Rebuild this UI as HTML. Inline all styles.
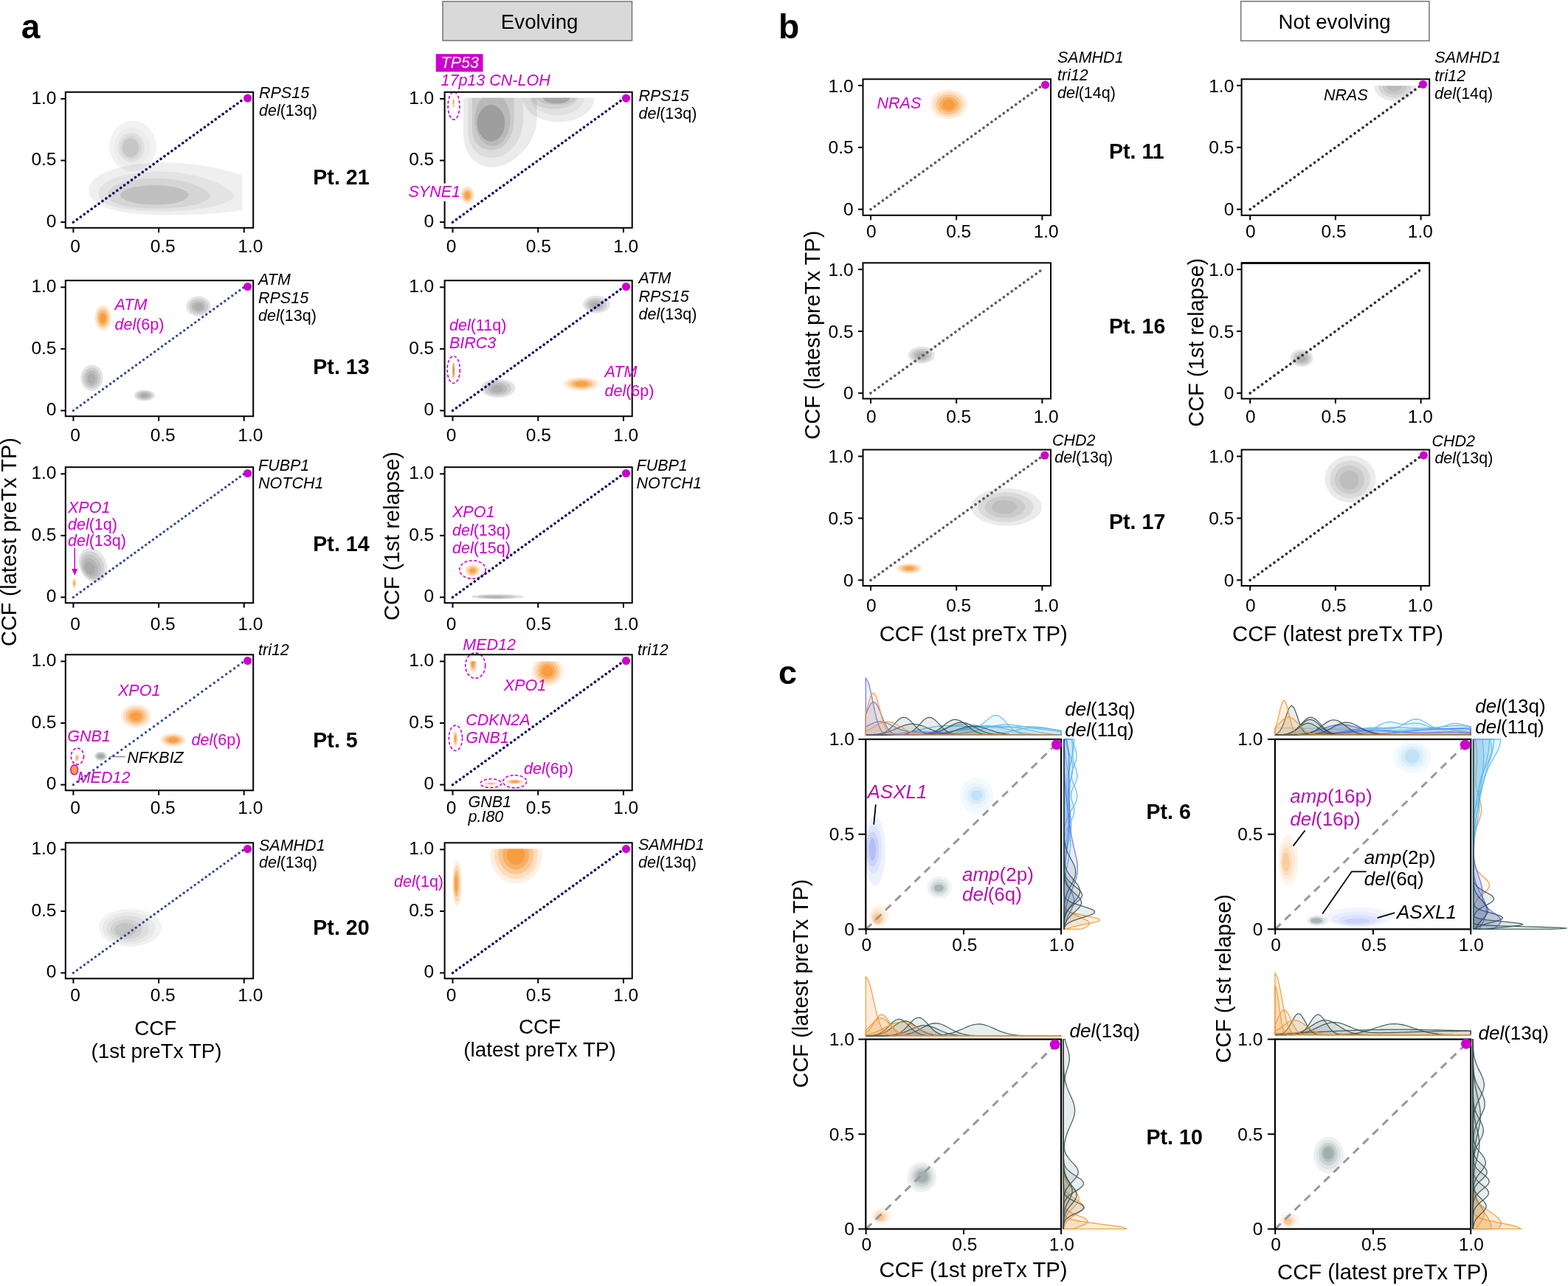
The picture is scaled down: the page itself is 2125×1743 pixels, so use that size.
<!DOCTYPE html>
<html><head><meta charset="utf-8"><title>CCF plots</title>
<style>html,body{margin:0;padding:0;background:#fff;}svg{display:block;}</style></head>
<body>
<svg width="2125" height="1743" viewBox="0 0 2125 1743" font-family="'Liberation Sans', Arial, Helvetica, sans-serif">
<defs><clipPath id="c1"><rect x="80" y="100" width="248.4" height="230"/></clipPath>
<clipPath id="c2"><rect x="600" y="132.4" width="260" height="197.6"/></clipPath>
<clipPath id="c3"><rect x="600" y="896.2" width="260" height="183.8"/></clipPath>
<clipPath id="c4"><rect x="600" y="1150.4" width="260" height="179.6"/></clipPath>
<clipPath id="c5"><rect x="1680" y="116.2" width="260" height="183.8"/></clipPath>
<clipPath id="c6"><rect x="1174.3" y="900" width="265.7" height="358.3"/></clipPath></defs>
<rect width="2125" height="1743" fill="#fff"/>
<text x="28.8" y="52.3" font-size="46" font-weight="bold" fill="#000">a</text>
<rect x="600" y="2" width="256.5" height="53" fill="#d9d9d9" stroke="#7a7a7a" stroke-width="1.6"/>
<text x="731.2" y="38.5" font-size="27.7" text-anchor="middle" fill="#000">Evolving</text>
<g fill="#000" clip-path="url(#c1)">
<path d="M120.3,258 C120.3,232 175,220.6 224,220.6 C270,220.6 315,232 334,240 L334,284 C300,290 260,291.5 224,291.5 C160,291.5 120.3,280 120.3,258 Z" fill-opacity="0.063"/>
<path d="M133.4,262 C133.4,243 175,232.6 215,232.6 C265,232.6 305,248 319.1,265.7 C305,280 265,286.4 215,286.4 C170,286.4 133.4,280 133.4,262 Z" fill-opacity="0.046"/>
<path d="M145.9,264 C145.9,250 175,241.8 210,241.8 C250,241.8 278,253 286,265.7 C278,277 250,282.6 210,282.6 C175,282.6 145.9,277 145.9,264 Z" fill-opacity="0.057"/>
<ellipse cx="209.4" cy="264.3" rx="46.2" ry="13.3" fill-opacity="0.097"/>
</g>
<g fill="#000">
<ellipse cx="180" cy="198.1" rx="32" ry="34.5" fill-opacity="0.050"/>
<ellipse cx="179" cy="199.4" rx="24.5" ry="26.6" fill-opacity="0.025"/>
<ellipse cx="177.9" cy="199.7" rx="17.9" ry="19.8" fill-opacity="0.050"/>
<ellipse cx="177.5" cy="200" rx="14.5" ry="16" fill-opacity="0.045"/>
<ellipse cx="177.1" cy="200.2" rx="11.1" ry="12.8" fill-opacity="0.071"/>
</g>
<g fill="#000" clip-path="url(#c2)">
<path d="M628,130 L628,180 C628,210 645,226.6 667,226.6 C695,226.6 727.7,195 727.7,160 L727.7,130 Z" fill-opacity="0.078"/>
<path d="M634.2,130 L634.2,178 C634.2,200 648,213.8 667,213.8 C690,213.8 709.3,190 709.3,160 L709.3,130 Z" fill-opacity="0.064"/>
<path d="M639.8,130 L639.8,176 C639.8,193 651,203.4 666,203.4 C684,203.4 696.5,185 696.5,160 L696.5,130 Z" fill-opacity="0.078"/>
<ellipse cx="667.5" cy="162" rx="24" ry="36" fill-opacity="0.083"/>
<ellipse cx="665.5" cy="166.8" rx="18.7" ry="24.8" fill-opacity="0.145"/>
</g>
<g fill="#000" clip-path="url(#c2)">
<ellipse cx="757.2" cy="132.4" rx="48.4" ry="33.2" fill-opacity="0.074"/>
<ellipse cx="755.1" cy="132.4" rx="36.9" ry="23.8" fill-opacity="0.042"/>
<ellipse cx="751.3" cy="132.4" rx="31.2" ry="15.3" fill-opacity="0.064"/>
<ellipse cx="754.1" cy="132.4" rx="26.5" ry="9.6" fill-opacity="0.065"/>
<ellipse cx="754.2" cy="132.4" rx="18" ry="8.2" fill-opacity="0.149"/>
</g>
<g fill="#f58c1e">
<ellipse cx="633.3" cy="264" rx="9.6" ry="12" fill-opacity="0.150"/>
<ellipse cx="633.3" cy="264.3" rx="7.6" ry="9.5" fill-opacity="0.235"/>
<ellipse cx="633.3" cy="264.7" rx="5.5" ry="7" fill-opacity="0.385"/>
<ellipse cx="633.3" cy="265" rx="3.5" ry="4.5" fill-opacity="0.550"/>
</g>
<ellipse cx="615" cy="143.4" rx="7.9" ry="18.7" fill="none" stroke="#cc00cc" stroke-width="1.6" stroke-dasharray="4 2.6"/>
<g fill="#f58c1e">
<ellipse cx="614.5" cy="140" rx="1.8" ry="6.5" fill-opacity="0.350"/>
<ellipse cx="614.5" cy="138" rx="0.8" ry="3" fill-opacity="0.615"/>
</g>
<g fill="#f58c1e">
<ellipse cx="139.5" cy="430.6" rx="11.8" ry="17.7" fill-opacity="0.130"/>
<ellipse cx="139.5" cy="430.8" rx="9.9" ry="14.9" fill-opacity="0.172"/>
<ellipse cx="139.5" cy="431.1" rx="7.9" ry="12.1" fill-opacity="0.278"/>
<ellipse cx="139.5" cy="431.3" rx="6" ry="9.3" fill-opacity="0.385"/>
<ellipse cx="139.5" cy="431.5" rx="4" ry="6.5" fill-opacity="0.531"/>
</g>
<g fill="#7a7a7a">
<ellipse cx="269" cy="415.1" rx="16.7" ry="13.5" fill-opacity="0.200"/>
<ellipse cx="269" cy="415.4" rx="13.1" ry="10.7" fill-opacity="0.200"/>
<ellipse cx="269" cy="415.7" rx="9.6" ry="7.8" fill-opacity="0.200"/>
<ellipse cx="269" cy="416" rx="6" ry="5" fill-opacity="0.200"/>
</g>
<g fill="#7a7a7a">
<ellipse cx="124.5" cy="512.1" rx="15.2" ry="17.7" fill-opacity="0.200"/>
<ellipse cx="124.3" cy="512.4" rx="12" ry="14.1" fill-opacity="0.200"/>
<ellipse cx="124.2" cy="512.7" rx="8.7" ry="10.6" fill-opacity="0.200"/>
<ellipse cx="124" cy="513" rx="5.5" ry="7" fill-opacity="0.200"/>
</g>
<g fill="#7a7a7a">
<ellipse cx="195.8" cy="536" rx="14.2" ry="7.4" fill-opacity="0.220"/>
<ellipse cx="195.8" cy="536" rx="11.1" ry="5.9" fill-opacity="0.220"/>
<ellipse cx="195.8" cy="536" rx="8.1" ry="4.3" fill-opacity="0.220"/>
<ellipse cx="195.8" cy="536" rx="5" ry="2.8" fill-opacity="0.220"/>
</g>
<ellipse cx="614.7" cy="501.1" rx="8.6" ry="18.4" fill="none" stroke="#cc00cc" stroke-width="1.6" stroke-dasharray="4 2.6"/>
<g fill="#d07a10">
<ellipse cx="614.6" cy="502" rx="1.8" ry="11" fill-opacity="0.550"/>
<ellipse cx="614.6" cy="502" rx="0.8" ry="5" fill-opacity="0.550"/>
</g>
<g fill="#7a7a7a">
<ellipse cx="674.9" cy="526.1" rx="23.3" ry="12.8" fill-opacity="0.200"/>
<ellipse cx="674.6" cy="526.4" rx="18.2" ry="10.2" fill-opacity="0.200"/>
<ellipse cx="674.3" cy="526.7" rx="13.1" ry="7.6" fill-opacity="0.200"/>
<ellipse cx="674" cy="527" rx="8" ry="5" fill-opacity="0.200"/>
</g>
<g fill="#7a7a7a">
<ellipse cx="808.3" cy="412.6" rx="18.4" ry="11.8" fill-opacity="0.200"/>
<ellipse cx="807.9" cy="412.9" rx="14.3" ry="9.2" fill-opacity="0.200"/>
<ellipse cx="807.4" cy="413.2" rx="10.1" ry="6.6" fill-opacity="0.200"/>
<ellipse cx="807" cy="413.5" rx="6" ry="4" fill-opacity="0.200"/>
</g>
<g fill="#f58c1e">
<ellipse cx="787.9" cy="520.2" rx="24.6" ry="9.3" fill-opacity="0.150"/>
<ellipse cx="787.9" cy="520.3" rx="19.4" ry="7.4" fill-opacity="0.235"/>
<ellipse cx="787.9" cy="520.4" rx="14.2" ry="5.4" fill-opacity="0.385"/>
<ellipse cx="787.9" cy="520.5" rx="9" ry="3.5" fill-opacity="0.550"/>
</g>
<g fill="#7a7a7a">
<ellipse cx="126" cy="766" rx="18.4" ry="24.6" fill-opacity="0.180" transform="rotate(-25 126 766)"/>
<ellipse cx="124.9" cy="767" rx="15.4" ry="20.7" fill-opacity="0.180" transform="rotate(-25 124.9 767)"/>
<ellipse cx="123.8" cy="768" rx="12.4" ry="16.8" fill-opacity="0.180" transform="rotate(-25 123.8 768)"/>
<ellipse cx="122.6" cy="769" rx="9.5" ry="12.9" fill-opacity="0.180" transform="rotate(-25 122.6 769)"/>
<ellipse cx="121.5" cy="770" rx="6.5" ry="9" fill-opacity="0.180" transform="rotate(-25 121.5 770)"/>
</g>
<g fill="#f58c1e">
<ellipse cx="100.7" cy="790.4" rx="2.6" ry="6.5" fill-opacity="0.350"/>
<ellipse cx="100.7" cy="790.4" rx="1.2" ry="3" fill-opacity="0.615"/>
</g>
<g fill="#7a7a7a">
<ellipse cx="674.4" cy="808.8" rx="35.6" ry="3.2" fill-opacity="0.250"/>
<ellipse cx="672.2" cy="808.9" rx="25.3" ry="2.4" fill-opacity="0.250"/>
<ellipse cx="670" cy="809" rx="15" ry="1.5" fill-opacity="0.250"/>
</g>
<g fill="#f58c1e">
<ellipse cx="640.5" cy="773.2" rx="10.5" ry="9" fill-opacity="0.150"/>
<ellipse cx="640.5" cy="773.3" rx="8.2" ry="7" fill-opacity="0.235"/>
<ellipse cx="640.5" cy="773.4" rx="5.8" ry="5" fill-opacity="0.385"/>
<ellipse cx="640.5" cy="773.5" rx="3.5" ry="3" fill-opacity="0.550"/>
</g>
<ellipse cx="640.5" cy="772" rx="17.7" ry="12.3" fill="none" stroke="#cc00cc" stroke-width="1.6" stroke-dasharray="4 2.6"/>
<g fill="#f58c1e">
<ellipse cx="184.2" cy="970.4" rx="20.9" ry="16" fill-opacity="0.130"/>
<ellipse cx="184.2" cy="970.5" rx="17.4" ry="13.4" fill-opacity="0.172"/>
<ellipse cx="184.2" cy="970.7" rx="13.9" ry="10.8" fill-opacity="0.278"/>
<ellipse cx="184.2" cy="970.9" rx="10.5" ry="8.1" fill-opacity="0.385"/>
<ellipse cx="184.2" cy="971" rx="7" ry="5.5" fill-opacity="0.531"/>
</g>
<g fill="#f58c1e">
<ellipse cx="234.6" cy="1002.8" rx="17.7" ry="9.3" fill-opacity="0.130"/>
<ellipse cx="234.6" cy="1002.8" rx="14.8" ry="7.8" fill-opacity="0.172"/>
<ellipse cx="234.6" cy="1002.9" rx="11.8" ry="6.2" fill-opacity="0.278"/>
<ellipse cx="234.6" cy="1003" rx="8.9" ry="4.7" fill-opacity="0.385"/>
<ellipse cx="234.6" cy="1003" rx="6" ry="3.2" fill-opacity="0.531"/>
</g>
<ellipse cx="104.9" cy="1025.1" rx="8.6" ry="11" fill="none" stroke="#cc00cc" stroke-width="1.6" stroke-dasharray="4 2.6"/>
<g fill="#f58c1e">
<ellipse cx="104.4" cy="1027.3" rx="2.6" ry="5" fill-opacity="0.350"/>
<ellipse cx="104.4" cy="1027.3" rx="1.2" ry="2.5" fill-opacity="0.615"/>
</g>
<ellipse cx="100.7" cy="1043.3" rx="4.9" ry="6.6" fill="#f6a040" stroke="#cc00cc" stroke-width="1.4"/>
<g fill="#7a7a7a">
<ellipse cx="136.6" cy="1024.9" rx="8.6" ry="6.1" fill-opacity="0.250"/>
<ellipse cx="136.6" cy="1024.9" rx="6.7" ry="4.7" fill-opacity="0.250"/>
<ellipse cx="136.6" cy="1024.9" rx="4.9" ry="3.4" fill-opacity="0.250"/>
<ellipse cx="136.6" cy="1024.9" rx="3" ry="2" fill-opacity="0.250"/>
</g>
<line x1="148.6" y1="1025.6" x2="169.5" y2="1025.6" stroke="#888" stroke-width="1.4" stroke-linecap="butt"/>
<g fill="#f58c1e" clip-path="url(#c3)">
<ellipse cx="742" cy="909.7" rx="21.6" ry="20.5" fill-opacity="0.130"/>
<ellipse cx="742" cy="909.7" rx="18.1" ry="17.2" fill-opacity="0.172"/>
<ellipse cx="742" cy="909.7" rx="14.6" ry="14" fill-opacity="0.278"/>
<ellipse cx="742" cy="909.7" rx="11" ry="10.8" fill-opacity="0.385"/>
<ellipse cx="742" cy="909.7" rx="7.5" ry="7.5" fill-opacity="0.531"/>
</g>
<g fill="#f58c1e" clip-path="url(#c3)">
<ellipse cx="641.2" cy="899" rx="5.5" ry="14" fill-opacity="0.150"/>
<ellipse cx="641.2" cy="899" rx="4.3" ry="11" fill-opacity="0.235"/>
<ellipse cx="641.2" cy="899" rx="3.2" ry="8" fill-opacity="0.385"/>
<ellipse cx="641.2" cy="899" rx="2" ry="5" fill-opacity="0.550"/>
</g>
<ellipse cx="644.2" cy="902.1" rx="13.5" ry="17.2" fill="none" stroke="#cc00cc" stroke-width="1.6" stroke-dasharray="4 2.6"/>
<g fill="#f58c1e">
<ellipse cx="617.2" cy="1001" rx="3.2" ry="11.5" fill-opacity="0.200"/>
<ellipse cx="617.2" cy="1001" rx="2.2" ry="8.2" fill-opacity="0.375"/>
<ellipse cx="617.2" cy="1001" rx="1.3" ry="5" fill-opacity="0.600"/>
</g>
<ellipse cx="617.4" cy="1000.3" rx="9.1" ry="17.2" fill="none" stroke="#cc00cc" stroke-width="1.6" stroke-dasharray="4 2.6"/>
<g fill="#f58c1e">
<ellipse cx="665.3" cy="1062" rx="8.5" ry="1.6" fill-opacity="0.350"/>
<ellipse cx="665.3" cy="1062" rx="4" ry="0.8" fill-opacity="0.615"/>
</g>
<ellipse cx="665.3" cy="1061.7" rx="14.2" ry="5.9" fill="none" stroke="#cc00cc" stroke-width="1.6" stroke-dasharray="4 2.6"/>
<g fill="#f58c1e">
<ellipse cx="697.5" cy="1059.5" rx="12.5" ry="3.4" fill-opacity="0.200"/>
<ellipse cx="697.5" cy="1059.5" rx="8.8" ry="2.5" fill-opacity="0.375"/>
<ellipse cx="697.5" cy="1059.5" rx="5" ry="1.5" fill-opacity="0.600"/>
</g>
<ellipse cx="697.7" cy="1059.3" rx="16" ry="8.6" fill="none" stroke="#cc00cc" stroke-width="1.6" stroke-dasharray="4 2.6"/>
<g fill="#000">
<ellipse cx="176.4" cy="1257.4" rx="42.8" ry="25.5" fill-opacity="0.050"/>
<ellipse cx="174.8" cy="1258.1" rx="35.8" ry="21.5" fill-opacity="0.037"/>
<ellipse cx="173.2" cy="1258.8" rx="28.8" ry="17.6" fill-opacity="0.044"/>
<ellipse cx="171.5" cy="1259.5" rx="21.7" ry="13.6" fill-opacity="0.051"/>
<ellipse cx="169.9" cy="1260.2" rx="14.7" ry="9.6" fill-opacity="0.072"/>
</g>
<g fill="#f58c1e" clip-path="url(#c4)">
<ellipse cx="699.5" cy="1158" rx="35.5" ry="39.6" fill-opacity="0.130"/>
<ellipse cx="699.4" cy="1158" rx="29.6" ry="33.2" fill-opacity="0.172"/>
<ellipse cx="699.2" cy="1158" rx="23.8" ry="26.8" fill-opacity="0.278"/>
<ellipse cx="699.1" cy="1158" rx="17.9" ry="20.4" fill-opacity="0.385"/>
<ellipse cx="699" cy="1158" rx="12" ry="14" fill-opacity="0.531"/>
</g>
<g fill="#f58c1e">
<ellipse cx="619.5" cy="1197.6" rx="6.5" ry="31" fill-opacity="0.150"/>
<ellipse cx="619.1" cy="1197.6" rx="5" ry="24.3" fill-opacity="0.235"/>
<ellipse cx="618.6" cy="1197.6" rx="3.5" ry="17.7" fill-opacity="0.385"/>
<ellipse cx="618.2" cy="1197.6" rx="2" ry="11" fill-opacity="0.550"/>
</g>
<line x1="99.4" y1="301.1" x2="330.7" y2="133.9" stroke="#0c0c5c" stroke-width="3.6" stroke-dasharray="0.01 6.09" stroke-linecap="round"/>
<rect x="88.8" y="124.8" width="254.4" height="184" fill="none" stroke="#000" stroke-width="2"/>
<line x1="99.4" y1="308.8" x2="99.4" y2="315.3" stroke="#000" stroke-width="2" stroke-linecap="butt"/>
<line x1="215.1" y1="308.8" x2="215.1" y2="315.3" stroke="#000" stroke-width="2" stroke-linecap="butt"/>
<line x1="330.7" y1="308.8" x2="330.7" y2="315.3" stroke="#000" stroke-width="2" stroke-linecap="butt"/>
<line x1="82.3" y1="301.1" x2="88.8" y2="301.1" stroke="#000" stroke-width="2" stroke-linecap="butt"/>
<line x1="82.3" y1="217.5" x2="88.8" y2="217.5" stroke="#000" stroke-width="2" stroke-linecap="butt"/>
<line x1="82.3" y1="133.9" x2="88.8" y2="133.9" stroke="#000" stroke-width="2" stroke-linecap="butt"/>
<text x="102" y="341.8" font-size="24.5" text-anchor="middle" fill="#000">0</text>
<text x="220.7" y="341.8" font-size="24.5" text-anchor="middle" fill="#000">0.5</text>
<text x="339.3" y="341.8" font-size="24.5" text-anchor="middle" fill="#000">1.0</text>
<text x="76.5" y="307.9" font-size="24.5" text-anchor="end" fill="#000">0</text>
<text x="76.5" y="224.3" font-size="24.5" text-anchor="end" fill="#000">0.5</text>
<text x="76.5" y="140.7" font-size="24.5" text-anchor="end" fill="#000">1.0</text>
<circle cx="335.6" cy="133.1" r="5.6" fill="#cc00cc"/>
<line x1="613.5" y1="301.1" x2="844.9" y2="133.9" stroke="#0c0c5c" stroke-width="3.6" stroke-dasharray="0.01 6.09" stroke-linecap="round"/>
<rect x="602.6" y="124.8" width="254.1" height="184" fill="none" stroke="#000" stroke-width="2"/>
<line x1="613.5" y1="308.8" x2="613.5" y2="315.3" stroke="#000" stroke-width="2" stroke-linecap="butt"/>
<line x1="729.2" y1="308.8" x2="729.2" y2="315.3" stroke="#000" stroke-width="2" stroke-linecap="butt"/>
<line x1="844.9" y1="308.8" x2="844.9" y2="315.3" stroke="#000" stroke-width="2" stroke-linecap="butt"/>
<line x1="596.1" y1="301.1" x2="602.6" y2="301.1" stroke="#000" stroke-width="2" stroke-linecap="butt"/>
<line x1="596.1" y1="217.5" x2="602.6" y2="217.5" stroke="#000" stroke-width="2" stroke-linecap="butt"/>
<line x1="596.1" y1="133.9" x2="602.6" y2="133.9" stroke="#000" stroke-width="2" stroke-linecap="butt"/>
<text x="611.5" y="341.8" font-size="24.5" text-anchor="middle" fill="#000">0</text>
<text x="729.8" y="341.8" font-size="24.5" text-anchor="middle" fill="#000">0.5</text>
<text x="848.2" y="341.8" font-size="24.5" text-anchor="middle" fill="#000">1.0</text>
<text x="588.2" y="307.9" font-size="24.5" text-anchor="end" fill="#000">0</text>
<text x="588.2" y="224.3" font-size="24.5" text-anchor="end" fill="#000">0.5</text>
<text x="588.2" y="140.7" font-size="24.5" text-anchor="end" fill="#000">1.0</text>
<circle cx="848.5" cy="133.1" r="5.6" fill="#cc00cc"/>
<line x1="99.4" y1="556.5" x2="330.7" y2="389.3" stroke="#2f4b8c" stroke-width="3.3" stroke-dasharray="0.01 6.17" stroke-linecap="round"/>
<rect x="88.8" y="380.2" width="254.4" height="184" fill="none" stroke="#000" stroke-width="2"/>
<line x1="99.4" y1="564.2" x2="99.4" y2="570.7" stroke="#000" stroke-width="2" stroke-linecap="butt"/>
<line x1="215.1" y1="564.2" x2="215.1" y2="570.7" stroke="#000" stroke-width="2" stroke-linecap="butt"/>
<line x1="330.7" y1="564.2" x2="330.7" y2="570.7" stroke="#000" stroke-width="2" stroke-linecap="butt"/>
<line x1="82.3" y1="556.5" x2="88.8" y2="556.5" stroke="#000" stroke-width="2" stroke-linecap="butt"/>
<line x1="82.3" y1="472.9" x2="88.8" y2="472.9" stroke="#000" stroke-width="2" stroke-linecap="butt"/>
<line x1="82.3" y1="389.3" x2="88.8" y2="389.3" stroke="#000" stroke-width="2" stroke-linecap="butt"/>
<text x="102" y="597.5" font-size="24.5" text-anchor="middle" fill="#000">0</text>
<text x="220.7" y="597.5" font-size="24.5" text-anchor="middle" fill="#000">0.5</text>
<text x="339.3" y="597.5" font-size="24.5" text-anchor="middle" fill="#000">1.0</text>
<text x="76.5" y="563.3" font-size="24.5" text-anchor="end" fill="#000">0</text>
<text x="76.5" y="479.7" font-size="24.5" text-anchor="end" fill="#000">0.5</text>
<text x="76.5" y="396.1" font-size="24.5" text-anchor="end" fill="#000">1.0</text>
<circle cx="335.6" cy="388.5" r="5.6" fill="#cc00cc"/>
<line x1="613.5" y1="556.5" x2="844.9" y2="389.3" stroke="#0c0c5c" stroke-width="3.6" stroke-dasharray="0.01 6.09" stroke-linecap="round"/>
<rect x="602.6" y="380.2" width="254.1" height="184" fill="none" stroke="#000" stroke-width="2"/>
<line x1="613.5" y1="564.2" x2="613.5" y2="570.7" stroke="#000" stroke-width="2" stroke-linecap="butt"/>
<line x1="729.2" y1="564.2" x2="729.2" y2="570.7" stroke="#000" stroke-width="2" stroke-linecap="butt"/>
<line x1="844.9" y1="564.2" x2="844.9" y2="570.7" stroke="#000" stroke-width="2" stroke-linecap="butt"/>
<line x1="596.1" y1="556.5" x2="602.6" y2="556.5" stroke="#000" stroke-width="2" stroke-linecap="butt"/>
<line x1="596.1" y1="472.9" x2="602.6" y2="472.9" stroke="#000" stroke-width="2" stroke-linecap="butt"/>
<line x1="596.1" y1="389.3" x2="602.6" y2="389.3" stroke="#000" stroke-width="2" stroke-linecap="butt"/>
<text x="611.5" y="597.5" font-size="24.5" text-anchor="middle" fill="#000">0</text>
<text x="729.8" y="597.5" font-size="24.5" text-anchor="middle" fill="#000">0.5</text>
<text x="848.2" y="597.5" font-size="24.5" text-anchor="middle" fill="#000">1.0</text>
<text x="588.2" y="563.3" font-size="24.5" text-anchor="end" fill="#000">0</text>
<text x="588.2" y="479.7" font-size="24.5" text-anchor="end" fill="#000">0.5</text>
<text x="588.2" y="396.1" font-size="24.5" text-anchor="end" fill="#000">1.0</text>
<circle cx="848.5" cy="388.5" r="5.6" fill="#cc00cc"/>
<line x1="99.4" y1="809.5" x2="330.7" y2="642.3" stroke="#2f4b8c" stroke-width="3.3" stroke-dasharray="0.01 6.05" stroke-linecap="round"/>
<rect x="88.8" y="633.2" width="254.4" height="184" fill="none" stroke="#000" stroke-width="2"/>
<line x1="99.4" y1="817.2" x2="99.4" y2="823.7" stroke="#000" stroke-width="2" stroke-linecap="butt"/>
<line x1="215.1" y1="817.2" x2="215.1" y2="823.7" stroke="#000" stroke-width="2" stroke-linecap="butt"/>
<line x1="330.7" y1="817.2" x2="330.7" y2="823.7" stroke="#000" stroke-width="2" stroke-linecap="butt"/>
<line x1="82.3" y1="809.5" x2="88.8" y2="809.5" stroke="#000" stroke-width="2" stroke-linecap="butt"/>
<line x1="82.3" y1="725.9" x2="88.8" y2="725.9" stroke="#000" stroke-width="2" stroke-linecap="butt"/>
<line x1="82.3" y1="642.3" x2="88.8" y2="642.3" stroke="#000" stroke-width="2" stroke-linecap="butt"/>
<text x="102" y="853.8" font-size="24.5" text-anchor="middle" fill="#000">0</text>
<text x="220.7" y="853.8" font-size="24.5" text-anchor="middle" fill="#000">0.5</text>
<text x="339.3" y="853.8" font-size="24.5" text-anchor="middle" fill="#000">1.0</text>
<text x="76.5" y="816.3" font-size="24.5" text-anchor="end" fill="#000">0</text>
<text x="76.5" y="732.7" font-size="24.5" text-anchor="end" fill="#000">0.5</text>
<text x="76.5" y="649.1" font-size="24.5" text-anchor="end" fill="#000">1.0</text>
<circle cx="335.6" cy="641.5" r="5.6" fill="#cc00cc"/>
<line x1="613.5" y1="809.5" x2="844.9" y2="642.3" stroke="#0c0c5c" stroke-width="3.6" stroke-dasharray="0.01 6.09" stroke-linecap="round"/>
<rect x="602.6" y="633.2" width="254.1" height="184" fill="none" stroke="#000" stroke-width="2"/>
<line x1="613.5" y1="817.2" x2="613.5" y2="823.7" stroke="#000" stroke-width="2" stroke-linecap="butt"/>
<line x1="729.2" y1="817.2" x2="729.2" y2="823.7" stroke="#000" stroke-width="2" stroke-linecap="butt"/>
<line x1="844.9" y1="817.2" x2="844.9" y2="823.7" stroke="#000" stroke-width="2" stroke-linecap="butt"/>
<line x1="596.1" y1="809.5" x2="602.6" y2="809.5" stroke="#000" stroke-width="2" stroke-linecap="butt"/>
<line x1="596.1" y1="725.9" x2="602.6" y2="725.9" stroke="#000" stroke-width="2" stroke-linecap="butt"/>
<line x1="596.1" y1="642.3" x2="602.6" y2="642.3" stroke="#000" stroke-width="2" stroke-linecap="butt"/>
<text x="611.5" y="853.8" font-size="24.5" text-anchor="middle" fill="#000">0</text>
<text x="729.8" y="853.8" font-size="24.5" text-anchor="middle" fill="#000">0.5</text>
<text x="848.2" y="853.8" font-size="24.5" text-anchor="middle" fill="#000">1.0</text>
<text x="588.2" y="816.3" font-size="24.5" text-anchor="end" fill="#000">0</text>
<text x="588.2" y="732.7" font-size="24.5" text-anchor="end" fill="#000">0.5</text>
<text x="588.2" y="649.1" font-size="24.5" text-anchor="end" fill="#000">1.0</text>
<circle cx="848.5" cy="641.5" r="5.6" fill="#cc00cc"/>
<line x1="99.4" y1="1063.6" x2="330.7" y2="896.4" stroke="#2f4b8c" stroke-width="3.3" stroke-dasharray="0.01 6.72" stroke-linecap="round"/>
<rect x="88.8" y="887.3" width="254.4" height="184" fill="none" stroke="#000" stroke-width="2"/>
<line x1="99.4" y1="1071.3" x2="99.4" y2="1077.8" stroke="#000" stroke-width="2" stroke-linecap="butt"/>
<line x1="215.1" y1="1071.3" x2="215.1" y2="1077.8" stroke="#000" stroke-width="2" stroke-linecap="butt"/>
<line x1="330.7" y1="1071.3" x2="330.7" y2="1077.8" stroke="#000" stroke-width="2" stroke-linecap="butt"/>
<line x1="82.3" y1="1063.6" x2="88.8" y2="1063.6" stroke="#000" stroke-width="2" stroke-linecap="butt"/>
<line x1="82.3" y1="980" x2="88.8" y2="980" stroke="#000" stroke-width="2" stroke-linecap="butt"/>
<line x1="82.3" y1="896.4" x2="88.8" y2="896.4" stroke="#000" stroke-width="2" stroke-linecap="butt"/>
<text x="102" y="1102.7" font-size="24.5" text-anchor="middle" fill="#000">0</text>
<text x="220.7" y="1102.7" font-size="24.5" text-anchor="middle" fill="#000">0.5</text>
<text x="339.3" y="1102.7" font-size="24.5" text-anchor="middle" fill="#000">1.0</text>
<text x="76.5" y="1070.4" font-size="24.5" text-anchor="end" fill="#000">0</text>
<text x="76.5" y="986.8" font-size="24.5" text-anchor="end" fill="#000">0.5</text>
<text x="76.5" y="903.2" font-size="24.5" text-anchor="end" fill="#000">1.0</text>
<circle cx="335.6" cy="895.6" r="5.6" fill="#cc00cc"/>
<line x1="613.5" y1="1063.6" x2="844.9" y2="896.4" stroke="#0c0c5c" stroke-width="3.6" stroke-dasharray="0.01 6.09" stroke-linecap="round"/>
<rect x="602.6" y="887.3" width="254.1" height="184" fill="none" stroke="#000" stroke-width="2"/>
<line x1="613.5" y1="1071.3" x2="613.5" y2="1077.8" stroke="#000" stroke-width="2" stroke-linecap="butt"/>
<line x1="729.2" y1="1071.3" x2="729.2" y2="1077.8" stroke="#000" stroke-width="2" stroke-linecap="butt"/>
<line x1="844.9" y1="1071.3" x2="844.9" y2="1077.8" stroke="#000" stroke-width="2" stroke-linecap="butt"/>
<line x1="596.1" y1="1063.6" x2="602.6" y2="1063.6" stroke="#000" stroke-width="2" stroke-linecap="butt"/>
<line x1="596.1" y1="980" x2="602.6" y2="980" stroke="#000" stroke-width="2" stroke-linecap="butt"/>
<line x1="596.1" y1="896.4" x2="602.6" y2="896.4" stroke="#000" stroke-width="2" stroke-linecap="butt"/>
<text x="611.5" y="1102.7" font-size="24.5" text-anchor="middle" fill="#000">0</text>
<text x="729.8" y="1102.7" font-size="24.5" text-anchor="middle" fill="#000">0.5</text>
<text x="848.2" y="1102.7" font-size="24.5" text-anchor="middle" fill="#000">1.0</text>
<text x="588.2" y="1070.4" font-size="24.5" text-anchor="end" fill="#000">0</text>
<text x="588.2" y="986.8" font-size="24.5" text-anchor="end" fill="#000">0.5</text>
<text x="588.2" y="903.2" font-size="24.5" text-anchor="end" fill="#000">1.0</text>
<circle cx="848.5" cy="895.6" r="5.6" fill="#cc00cc"/>
<line x1="99.4" y1="1318.6" x2="330.7" y2="1151.4" stroke="#2f4b8c" stroke-width="3.3" stroke-dasharray="0.01 6.15" stroke-linecap="round"/>
<rect x="88.8" y="1142.3" width="254.4" height="184" fill="none" stroke="#000" stroke-width="2"/>
<line x1="99.4" y1="1326.3" x2="99.4" y2="1332.8" stroke="#000" stroke-width="2" stroke-linecap="butt"/>
<line x1="215.1" y1="1326.3" x2="215.1" y2="1332.8" stroke="#000" stroke-width="2" stroke-linecap="butt"/>
<line x1="330.7" y1="1326.3" x2="330.7" y2="1332.8" stroke="#000" stroke-width="2" stroke-linecap="butt"/>
<line x1="82.3" y1="1318.6" x2="88.8" y2="1318.6" stroke="#000" stroke-width="2" stroke-linecap="butt"/>
<line x1="82.3" y1="1235" x2="88.8" y2="1235" stroke="#000" stroke-width="2" stroke-linecap="butt"/>
<line x1="82.3" y1="1151.4" x2="88.8" y2="1151.4" stroke="#000" stroke-width="2" stroke-linecap="butt"/>
<text x="102" y="1357.1" font-size="24.5" text-anchor="middle" fill="#000">0</text>
<text x="220.7" y="1357.1" font-size="24.5" text-anchor="middle" fill="#000">0.5</text>
<text x="339.3" y="1357.1" font-size="24.5" text-anchor="middle" fill="#000">1.0</text>
<text x="76.5" y="1325.4" font-size="24.5" text-anchor="end" fill="#000">0</text>
<text x="76.5" y="1241.8" font-size="24.5" text-anchor="end" fill="#000">0.5</text>
<text x="76.5" y="1158.2" font-size="24.5" text-anchor="end" fill="#000">1.0</text>
<circle cx="335.6" cy="1150.6" r="5.6" fill="#cc00cc"/>
<line x1="613.5" y1="1318.6" x2="844.9" y2="1151.4" stroke="#0c0c5c" stroke-width="3.6" stroke-dasharray="0.01 6.09" stroke-linecap="round"/>
<rect x="602.6" y="1142.3" width="254.1" height="184" fill="none" stroke="#000" stroke-width="2"/>
<line x1="613.5" y1="1326.3" x2="613.5" y2="1332.8" stroke="#000" stroke-width="2" stroke-linecap="butt"/>
<line x1="729.2" y1="1326.3" x2="729.2" y2="1332.8" stroke="#000" stroke-width="2" stroke-linecap="butt"/>
<line x1="844.9" y1="1326.3" x2="844.9" y2="1332.8" stroke="#000" stroke-width="2" stroke-linecap="butt"/>
<line x1="596.1" y1="1318.6" x2="602.6" y2="1318.6" stroke="#000" stroke-width="2" stroke-linecap="butt"/>
<line x1="596.1" y1="1235" x2="602.6" y2="1235" stroke="#000" stroke-width="2" stroke-linecap="butt"/>
<line x1="596.1" y1="1151.4" x2="602.6" y2="1151.4" stroke="#000" stroke-width="2" stroke-linecap="butt"/>
<text x="611.5" y="1357.1" font-size="24.5" text-anchor="middle" fill="#000">0</text>
<text x="729.8" y="1357.1" font-size="24.5" text-anchor="middle" fill="#000">0.5</text>
<text x="848.2" y="1357.1" font-size="24.5" text-anchor="middle" fill="#000">1.0</text>
<text x="588.2" y="1325.4" font-size="24.5" text-anchor="end" fill="#000">0</text>
<text x="588.2" y="1241.8" font-size="24.5" text-anchor="end" fill="#000">0.5</text>
<text x="588.2" y="1158.2" font-size="24.5" text-anchor="end" fill="#000">1.0</text>
<circle cx="848.5" cy="1150.6" r="5.6" fill="#cc00cc"/>
<rect x="553" y="248.6" width="66" height="24.2" fill="#fff"/>
<text x="624" y="266.5" font-size="21.5" text-anchor="end" fill="#cc00cc"><tspan font-style="italic">SYNE1</tspan></text>
<text x="351" y="132.9" font-size="21.5" fill="#000"><tspan font-style="italic">RPS15</tspan></text>
<text x="351" y="156.8" font-size="21.5" fill="#000"><tspan font-style="italic">del</tspan>(13q)</text>
<text x="865.5" y="137.2" font-size="21.5" fill="#000"><tspan font-style="italic">RPS15</tspan></text>
<text x="865.5" y="161.1" font-size="21.5" fill="#000"><tspan font-style="italic">del</tspan>(13q)</text>
<text x="350" y="386.4" font-size="21.5" fill="#000"><tspan font-style="italic">ATM</tspan></text>
<text x="350" y="410.6" font-size="21.5" fill="#000"><tspan font-style="italic">RPS15</tspan></text>
<text x="350" y="434.8" font-size="21.5" fill="#000"><tspan font-style="italic">del</tspan>(13q)</text>
<text x="865.5" y="384.4" font-size="21.5" fill="#000"><tspan font-style="italic">ATM</tspan></text>
<text x="865.5" y="408.9" font-size="21.5" fill="#000"><tspan font-style="italic">RPS15</tspan></text>
<text x="865.5" y="433.4" font-size="21.5" fill="#000"><tspan font-style="italic">del</tspan>(13q)</text>
<text x="350" y="638" font-size="21.5" fill="#000"><tspan font-style="italic">FUBP1</tspan></text>
<text x="350" y="661.9" font-size="21.5" fill="#000"><tspan font-style="italic">NOTCH1</tspan></text>
<text x="862.5" y="638.1" font-size="21.5" fill="#000"><tspan font-style="italic">FUBP1</tspan></text>
<text x="862.5" y="661.5" font-size="21.5" fill="#000"><tspan font-style="italic">NOTCH1</tspan></text>
<text x="350" y="888" font-size="21.5" fill="#000"><tspan font-style="italic">tri12</tspan></text>
<text x="864" y="888" font-size="21.5" fill="#000"><tspan font-style="italic">tri12</tspan></text>
<text x="351" y="1152.8" font-size="21.5" fill="#000"><tspan font-style="italic">SAMHD1</tspan></text>
<text x="351" y="1175.8" font-size="21.5" fill="#000"><tspan font-style="italic">del</tspan>(13q)</text>
<text x="865" y="1152.1" font-size="21.5" fill="#000"><tspan font-style="italic">SAMHD1</tspan></text>
<text x="865" y="1175.5" font-size="21.5" fill="#000"><tspan font-style="italic">del</tspan>(13q)</text>
<text x="424.3" y="249.7" font-size="28.6" font-weight="bold" fill="#000">Pt. 21</text>
<text x="424.3" y="507.2" font-size="28.6" font-weight="bold" fill="#000">Pt. 13</text>
<text x="424.3" y="747.4" font-size="28.6" font-weight="bold" fill="#000">Pt. 14</text>
<text x="424.3" y="1013.3" font-size="28.6" font-weight="bold" fill="#000">Pt. 5</text>
<text x="424.3" y="1267" font-size="28.6" font-weight="bold" fill="#000">Pt. 20</text>
<rect x="590.7" y="73.2" width="63.8" height="24.1" fill="#cc00cc"/>
<text x="597.5" y="91.5" font-size="21.5" fill="#fff"><tspan font-style="italic">TP53</tspan></text>
<text x="597.5" y="116.4" font-size="21.5" fill="#cc00cc"><tspan font-style="italic">17p13 CN-LOH</tspan></text>
<text x="155.5" y="420" font-size="21.5" fill="#cc00cc"><tspan font-style="italic">ATM</tspan></text>
<text x="155.5" y="447" font-size="21.5" fill="#cc00cc"><tspan font-style="italic">del</tspan>(6p)</text>
<text x="609" y="448.3" font-size="21.5" fill="#cc00cc"><tspan font-style="italic">del</tspan>(11q)</text>
<text x="609" y="471.6" font-size="21.5" fill="#cc00cc"><tspan font-style="italic">BIRC3</tspan></text>
<text x="819.5" y="510.9" font-size="21.5" fill="#cc00cc"><tspan font-style="italic">ATM</tspan></text>
<text x="819.5" y="536.7" font-size="21.5" fill="#cc00cc"><tspan font-style="italic">del</tspan>(6p)</text>
<text x="92" y="695.3" font-size="21.5" fill="#cc00cc"><tspan font-style="italic">XPO1</tspan></text>
<text x="92" y="717.7" font-size="21.5" fill="#cc00cc"><tspan font-style="italic">del</tspan>(1q)</text>
<text x="92" y="740.1" font-size="21.5" fill="#cc00cc"><tspan font-style="italic">del</tspan>(13q)</text>
<line x1="101.2" y1="742.5" x2="101.2" y2="772" stroke="#cc00cc" stroke-width="1.5" stroke-linecap="butt"/>
<path d="M97.2,771 L105.2,771 L101.2,780 Z" fill="#cc00cc"/>
<text x="613" y="701.2" font-size="21.5" fill="#cc00cc"><tspan font-style="italic">XPO1</tspan></text>
<text x="613" y="725.5" font-size="21.5" fill="#cc00cc"><tspan font-style="italic">del</tspan>(13q)</text>
<text x="613" y="749.8" font-size="21.5" fill="#cc00cc"><tspan font-style="italic">del</tspan>(15q)</text>
<text x="160" y="943.3" font-size="21.5" fill="#cc00cc"><tspan font-style="italic">XPO1</tspan></text>
<text x="259.5" y="1009.7" font-size="21.5" fill="#cc00cc"><tspan font-style="italic">del</tspan>(6p)</text>
<text x="91.2" y="1004.8" font-size="21.5" fill="#cc00cc"><tspan font-style="italic">GNB1</tspan></text>
<text x="104.7" y="1061.2" font-size="21.5" fill="#cc00cc"><tspan font-style="italic">MED12</tspan></text>
<text x="172.3" y="1034.2" font-size="21.5" fill="#000"><tspan font-style="italic">NFKBIZ</tspan></text>
<text x="627.3" y="880.7" font-size="21.5" fill="#cc00cc"><tspan font-style="italic">MED12</tspan></text>
<text x="682.8" y="936" font-size="21.5" fill="#cc00cc"><tspan font-style="italic">XPO1</tspan></text>
<text x="631.3" y="982.6" font-size="21.5" fill="#cc00cc"><tspan font-style="italic">CDKN2A</tspan></text>
<text x="631.3" y="1006.7" font-size="21.5" fill="#cc00cc"><tspan font-style="italic">GNB1</tspan></text>
<text x="710" y="1049" font-size="21.5" fill="#cc00cc"><tspan font-style="italic">del</tspan>(6p)</text>
<text x="634.5" y="1094.4" font-size="21.5" fill="#000"><tspan font-style="italic">GNB1</tspan></text>
<text x="634.5" y="1114" font-size="21.5" fill="#000"><tspan font-style="italic">p.I80</tspan></text>
<text x="601" y="1202" font-size="21.5" text-anchor="end" fill="#cc00cc"><tspan font-style="italic">del</tspan>(1q)</text>
<text x="210.7" y="1403.2" font-size="27.8" text-anchor="middle" fill="#000">CCF</text>
<text x="212" y="1433.9" font-size="27.8" text-anchor="middle" fill="#000">(1st preTx TP)</text>
<text x="731.5" y="1401.4" font-size="27.8" text-anchor="middle" fill="#000">CCF</text>
<text x="731.5" y="1432.2" font-size="27.8" text-anchor="middle" fill="#000">(latest preTx TP)</text>
<text transform="translate(21.9,734.5) rotate(-90)" font-size="29" text-anchor="middle">CCF (latest preTx TP)</text>
<text transform="translate(541.2,726.5) rotate(-90)" font-size="29" text-anchor="middle">CCF (1st relapse)</text>
<text x="1055" y="52" font-size="46.3" font-weight="bold" fill="#000">b</text>
<rect x="1681.7" y="1.8" width="255.3" height="53.5" fill="#fff" stroke="#7a7a7a" stroke-width="1.6"/>
<text x="1808.6" y="39" font-size="27.7" text-anchor="middle" fill="#000">Not evolving</text>
<g fill="#f58c1e">
<ellipse cx="1285.6" cy="141.2" rx="25.5" ry="20.2" fill-opacity="0.130"/>
<ellipse cx="1285.6" cy="141.4" rx="21.2" ry="16.9" fill-opacity="0.172"/>
<ellipse cx="1285.6" cy="141.6" rx="17" ry="13.6" fill-opacity="0.278"/>
<ellipse cx="1285.6" cy="141.8" rx="12.8" ry="10.3" fill-opacity="0.385"/>
<ellipse cx="1285.6" cy="142" rx="8.5" ry="7" fill-opacity="0.531"/>
</g>
<g fill="#7a7a7a" clip-path="url(#c5)">
<ellipse cx="1890.6" cy="117" rx="28.5" ry="20" fill-opacity="0.170"/>
<ellipse cx="1890.2" cy="117" rx="22.3" ry="15.7" fill-opacity="0.170"/>
<ellipse cx="1889.9" cy="117" rx="16.2" ry="11.3" fill-opacity="0.170"/>
<ellipse cx="1889.5" cy="117" rx="10" ry="7" fill-opacity="0.170"/>
</g>
<g fill="#7a7a7a">
<ellipse cx="1248.8" cy="481.2" rx="17.9" ry="11.5" fill-opacity="0.200"/>
<ellipse cx="1248.8" cy="481.5" rx="14.1" ry="9" fill-opacity="0.200"/>
<ellipse cx="1248.8" cy="481.7" rx="10.3" ry="6.5" fill-opacity="0.200"/>
<ellipse cx="1248.8" cy="482" rx="6.5" ry="4" fill-opacity="0.200"/>
</g>
<g fill="#7a7a7a">
<ellipse cx="1764.1" cy="485.3" rx="15.4" ry="11.6" fill-opacity="0.200"/>
<ellipse cx="1764.2" cy="485.5" rx="12.1" ry="9.1" fill-opacity="0.200"/>
<ellipse cx="1764.4" cy="485.8" rx="8.8" ry="6.5" fill-opacity="0.200"/>
<ellipse cx="1764.5" cy="486" rx="5.5" ry="4" fill-opacity="0.200"/>
</g>
<g fill="#7a7a7a">
<ellipse cx="1364" cy="687.3" rx="48" ry="25.5" fill-opacity="0.150"/>
<ellipse cx="1363" cy="687.3" rx="37.7" ry="20.2" fill-opacity="0.150"/>
<ellipse cx="1362" cy="687.3" rx="27.3" ry="14.8" fill-opacity="0.150"/>
<ellipse cx="1361" cy="687.3" rx="17" ry="9.5" fill-opacity="0.150"/>
</g>
<g fill="#f58c1e">
<ellipse cx="1232.2" cy="770.3" rx="17.9" ry="7.3" fill-opacity="0.150"/>
<ellipse cx="1232.2" cy="770.4" rx="13.9" ry="5.7" fill-opacity="0.235"/>
<ellipse cx="1232.2" cy="770.4" rx="10" ry="4.2" fill-opacity="0.385"/>
<ellipse cx="1232.2" cy="770.5" rx="6" ry="2.6" fill-opacity="0.550"/>
</g>
<g fill="#7a7a7a">
<ellipse cx="1830" cy="649.4" rx="34.5" ry="31.8" fill-opacity="0.150"/>
<ellipse cx="1829.5" cy="649.8" rx="27.3" ry="25.5" fill-opacity="0.150"/>
<ellipse cx="1829" cy="650.1" rx="20.2" ry="19.3" fill-opacity="0.150"/>
<ellipse cx="1828.5" cy="650.5" rx="13" ry="13" fill-opacity="0.150"/>
</g>
<line x1="1180" y1="283.7" x2="1412.4" y2="115.9" stroke="#5e5e5e" stroke-width="3.7" stroke-dasharray="0.01 6.73" stroke-linecap="round"/>
<rect x="1169.5" y="107.3" width="254.5" height="184.5" fill="none" stroke="#000" stroke-width="2"/>
<line x1="1180" y1="291.8" x2="1180" y2="298.3" stroke="#000" stroke-width="2" stroke-linecap="butt"/>
<line x1="1296.2" y1="291.8" x2="1296.2" y2="298.3" stroke="#000" stroke-width="2" stroke-linecap="butt"/>
<line x1="1412.4" y1="291.8" x2="1412.4" y2="298.3" stroke="#000" stroke-width="2" stroke-linecap="butt"/>
<line x1="1163" y1="283.7" x2="1169.5" y2="283.7" stroke="#000" stroke-width="2" stroke-linecap="butt"/>
<line x1="1163" y1="199.8" x2="1169.5" y2="199.8" stroke="#000" stroke-width="2" stroke-linecap="butt"/>
<line x1="1163" y1="115.9" x2="1169.5" y2="115.9" stroke="#000" stroke-width="2" stroke-linecap="butt"/>
<text x="1180.8" y="322.3" font-size="24.5" text-anchor="middle" fill="#000">0</text>
<text x="1299.2" y="322.3" font-size="24.5" text-anchor="middle" fill="#000">0.5</text>
<text x="1417.7" y="322.3" font-size="24.5" text-anchor="middle" fill="#000">1.0</text>
<text x="1156.6" y="292.3" font-size="24.5" text-anchor="end" fill="#000">0</text>
<text x="1156.6" y="208.4" font-size="24.5" text-anchor="end" fill="#000">0.5</text>
<text x="1156.6" y="124.5" font-size="24.5" text-anchor="end" fill="#000">1.0</text>
<line x1="1694.2" y1="283.7" x2="1925.6" y2="115.9" stroke="#333333" stroke-width="3.7" stroke-dasharray="0.01 6.73" stroke-linecap="round"/>
<rect x="1682.6" y="107.3" width="254.6" height="184.5" fill="none" stroke="#000" stroke-width="2"/>
<line x1="1694.2" y1="291.8" x2="1694.2" y2="298.3" stroke="#000" stroke-width="2" stroke-linecap="butt"/>
<line x1="1809.9" y1="291.8" x2="1809.9" y2="298.3" stroke="#000" stroke-width="2" stroke-linecap="butt"/>
<line x1="1925.6" y1="291.8" x2="1925.6" y2="298.3" stroke="#000" stroke-width="2" stroke-linecap="butt"/>
<line x1="1676.1" y1="283.7" x2="1682.6" y2="283.7" stroke="#000" stroke-width="2" stroke-linecap="butt"/>
<line x1="1676.1" y1="199.8" x2="1682.6" y2="199.8" stroke="#000" stroke-width="2" stroke-linecap="butt"/>
<line x1="1676.1" y1="115.9" x2="1682.6" y2="115.9" stroke="#000" stroke-width="2" stroke-linecap="butt"/>
<text x="1694.8" y="322.3" font-size="24.5" text-anchor="middle" fill="#000">0</text>
<text x="1807.5" y="322.3" font-size="24.5" text-anchor="middle" fill="#000">0.5</text>
<text x="1924.9" y="322.3" font-size="24.5" text-anchor="middle" fill="#000">1.0</text>
<text x="1672.3" y="292.3" font-size="24.5" text-anchor="end" fill="#000">0</text>
<text x="1672.3" y="208.4" font-size="24.5" text-anchor="end" fill="#000">0.5</text>
<text x="1672.3" y="124.5" font-size="24.5" text-anchor="end" fill="#000">1.0</text>
<line x1="1180" y1="532.8" x2="1412.4" y2="365.2" stroke="#5e5e5e" stroke-width="3.7" stroke-dasharray="0.01 6.73" stroke-linecap="round"/>
<rect x="1169.5" y="356.3" width="254.5" height="184.1" fill="none" stroke="#000" stroke-width="2"/>
<line x1="1180" y1="540.4" x2="1180" y2="546.9" stroke="#000" stroke-width="2" stroke-linecap="butt"/>
<line x1="1296.2" y1="540.4" x2="1296.2" y2="546.9" stroke="#000" stroke-width="2" stroke-linecap="butt"/>
<line x1="1412.4" y1="540.4" x2="1412.4" y2="546.9" stroke="#000" stroke-width="2" stroke-linecap="butt"/>
<line x1="1163" y1="532.8" x2="1169.5" y2="532.8" stroke="#000" stroke-width="2" stroke-linecap="butt"/>
<line x1="1163" y1="449" x2="1169.5" y2="449" stroke="#000" stroke-width="2" stroke-linecap="butt"/>
<line x1="1163" y1="365.2" x2="1169.5" y2="365.2" stroke="#000" stroke-width="2" stroke-linecap="butt"/>
<text x="1180.8" y="573" font-size="24.5" text-anchor="middle" fill="#000">0</text>
<text x="1299.2" y="573" font-size="24.5" text-anchor="middle" fill="#000">0.5</text>
<text x="1417.7" y="573" font-size="24.5" text-anchor="middle" fill="#000">1.0</text>
<text x="1156.6" y="541.4" font-size="24.5" text-anchor="end" fill="#000">0</text>
<text x="1156.6" y="457.6" font-size="24.5" text-anchor="end" fill="#000">0.5</text>
<text x="1156.6" y="373.8" font-size="24.5" text-anchor="end" fill="#000">1.0</text>
<line x1="1694.2" y1="532.8" x2="1925.6" y2="365.2" stroke="#333333" stroke-width="3.7" stroke-dasharray="0.01 6.73" stroke-linecap="round"/>
<rect x="1682.6" y="356.3" width="254.6" height="184.1" fill="none" stroke="#000" stroke-width="2"/>
<line x1="1694.2" y1="540.4" x2="1694.2" y2="546.9" stroke="#000" stroke-width="2" stroke-linecap="butt"/>
<line x1="1809.9" y1="540.4" x2="1809.9" y2="546.9" stroke="#000" stroke-width="2" stroke-linecap="butt"/>
<line x1="1925.6" y1="540.4" x2="1925.6" y2="546.9" stroke="#000" stroke-width="2" stroke-linecap="butt"/>
<line x1="1676.1" y1="532.8" x2="1682.6" y2="532.8" stroke="#000" stroke-width="2" stroke-linecap="butt"/>
<line x1="1676.1" y1="449" x2="1682.6" y2="449" stroke="#000" stroke-width="2" stroke-linecap="butt"/>
<line x1="1676.1" y1="365.2" x2="1682.6" y2="365.2" stroke="#000" stroke-width="2" stroke-linecap="butt"/>
<text x="1694.8" y="573" font-size="24.5" text-anchor="middle" fill="#000">0</text>
<text x="1807.5" y="573" font-size="24.5" text-anchor="middle" fill="#000">0.5</text>
<text x="1924.9" y="573" font-size="24.5" text-anchor="middle" fill="#000">1.0</text>
<text x="1672.3" y="541.4" font-size="24.5" text-anchor="end" fill="#000">0</text>
<text x="1672.3" y="457.6" font-size="24.5" text-anchor="end" fill="#000">0.5</text>
<text x="1672.3" y="373.8" font-size="24.5" text-anchor="end" fill="#000">1.0</text>
<line x1="1180" y1="786.3" x2="1412.4" y2="618.5" stroke="#5e5e5e" stroke-width="3.7" stroke-dasharray="0.01 6.73" stroke-linecap="round"/>
<rect x="1169.5" y="609.5" width="254.5" height="184.5" fill="none" stroke="#000" stroke-width="2"/>
<line x1="1180" y1="794" x2="1180" y2="800.5" stroke="#000" stroke-width="2" stroke-linecap="butt"/>
<line x1="1296.2" y1="794" x2="1296.2" y2="800.5" stroke="#000" stroke-width="2" stroke-linecap="butt"/>
<line x1="1412.4" y1="794" x2="1412.4" y2="800.5" stroke="#000" stroke-width="2" stroke-linecap="butt"/>
<line x1="1163" y1="786.3" x2="1169.5" y2="786.3" stroke="#000" stroke-width="2" stroke-linecap="butt"/>
<line x1="1163" y1="702.4" x2="1169.5" y2="702.4" stroke="#000" stroke-width="2" stroke-linecap="butt"/>
<line x1="1163" y1="618.5" x2="1169.5" y2="618.5" stroke="#000" stroke-width="2" stroke-linecap="butt"/>
<text x="1180.8" y="828.6" font-size="24.5" text-anchor="middle" fill="#000">0</text>
<text x="1299.2" y="828.6" font-size="24.5" text-anchor="middle" fill="#000">0.5</text>
<text x="1417.7" y="828.6" font-size="24.5" text-anchor="middle" fill="#000">1.0</text>
<text x="1156.6" y="794.9" font-size="24.5" text-anchor="end" fill="#000">0</text>
<text x="1156.6" y="711" font-size="24.5" text-anchor="end" fill="#000">0.5</text>
<text x="1156.6" y="627.1" font-size="24.5" text-anchor="end" fill="#000">1.0</text>
<line x1="1694.2" y1="786.3" x2="1925.6" y2="618.5" stroke="#333333" stroke-width="3.7" stroke-dasharray="0.01 6.73" stroke-linecap="round"/>
<rect x="1682.6" y="609.5" width="254.6" height="184.5" fill="none" stroke="#000" stroke-width="2"/>
<line x1="1694.2" y1="794" x2="1694.2" y2="800.5" stroke="#000" stroke-width="2" stroke-linecap="butt"/>
<line x1="1809.9" y1="794" x2="1809.9" y2="800.5" stroke="#000" stroke-width="2" stroke-linecap="butt"/>
<line x1="1925.6" y1="794" x2="1925.6" y2="800.5" stroke="#000" stroke-width="2" stroke-linecap="butt"/>
<line x1="1676.1" y1="786.3" x2="1682.6" y2="786.3" stroke="#000" stroke-width="2" stroke-linecap="butt"/>
<line x1="1676.1" y1="702.4" x2="1682.6" y2="702.4" stroke="#000" stroke-width="2" stroke-linecap="butt"/>
<line x1="1676.1" y1="618.5" x2="1682.6" y2="618.5" stroke="#000" stroke-width="2" stroke-linecap="butt"/>
<text x="1694.8" y="828.6" font-size="24.5" text-anchor="middle" fill="#000">0</text>
<text x="1807.5" y="828.6" font-size="24.5" text-anchor="middle" fill="#000">0.5</text>
<text x="1924.9" y="828.6" font-size="24.5" text-anchor="middle" fill="#000">1.0</text>
<text x="1672.3" y="794.9" font-size="24.5" text-anchor="end" fill="#000">0</text>
<text x="1672.3" y="711" font-size="24.5" text-anchor="end" fill="#000">0.5</text>
<text x="1672.3" y="627.1" font-size="24.5" text-anchor="end" fill="#000">1.0</text>
<line x1="1682.6" y1="356.6" x2="1937.2" y2="356.6" stroke="#000" stroke-width="2.8" stroke-linecap="butt"/>
<circle cx="1416.6" cy="115" r="5.6" fill="#cc00cc"/>
<circle cx="1928.5" cy="114.3" r="5.6" fill="#cc00cc"/>
<circle cx="1415.9" cy="617.2" r="5.6" fill="#cc00cc"/>
<circle cx="1929.4" cy="617.1" r="5.6" fill="#cc00cc"/>
<text x="1188.5" y="146.6" font-size="21.5" fill="#cc00cc"><tspan font-style="italic">NRAS</tspan></text>
<text x="1794" y="136.2" font-size="21.5" fill="#000"><tspan font-style="italic">NRAS</tspan></text>
<text x="1433" y="84.7" font-size="21.5" fill="#000"><tspan font-style="italic">SAMHD1</tspan></text>
<text x="1433" y="108.7" font-size="21.5" fill="#000"><tspan font-style="italic">tri12</tspan></text>
<text x="1433" y="132.7" font-size="21.5" fill="#000"><tspan font-style="italic">del</tspan>(14q)</text>
<text x="1944.3" y="85.3" font-size="21.5" fill="#000"><tspan font-style="italic">SAMHD1</tspan></text>
<text x="1944.3" y="109.6" font-size="21.5" fill="#000"><tspan font-style="italic">tri12</tspan></text>
<text x="1944.3" y="133.9" font-size="21.5" fill="#000"><tspan font-style="italic">del</tspan>(14q)</text>
<text x="1426" y="604.4" font-size="21.5" fill="#000"><tspan font-style="italic">CHD2</tspan></text>
<text x="1429.2" y="627.4" font-size="21.5" fill="#000"><tspan font-style="italic">del</tspan>(13q)</text>
<text x="1940.4" y="604.8" font-size="21.5" fill="#000"><tspan font-style="italic">CHD2</tspan></text>
<text x="1944.4" y="627.9" font-size="21.5" fill="#000"><tspan font-style="italic">del</tspan>(13q)</text>
<text x="1503" y="214.8" font-size="28.6" font-weight="bold" fill="#000">Pt. 11</text>
<text x="1503" y="452.1" font-size="28.6" font-weight="bold" fill="#000">Pt. 16</text>
<text x="1503" y="716.7" font-size="28.6" font-weight="bold" fill="#000">Pt. 17</text>
<text x="1319.2" y="868.7" font-size="29.3" text-anchor="middle" fill="#000">CCF (1st preTx TP)</text>
<text x="1813" y="868.7" font-size="29.3" text-anchor="middle" fill="#000">CCF (latest preTx TP)</text>
<text transform="translate(1111.3,454.2) rotate(-90)" font-size="29" text-anchor="middle">CCF (latest preTx TP)</text>
<text transform="translate(1630.5,464.2) rotate(-90)" font-size="29" text-anchor="middle">CCF (1st relapse)</text>
<text x="1055" y="927.3" font-size="45" font-weight="bold" fill="#000">c</text>
<path d="M1173.3,996.2 L1173.3,996.2 L1177,996.2 L1180.7,996.2 L1184.3,996.2 L1188,996.2 L1191.7,996.2 L1195.4,996.2 L1199,996.2 L1202.7,996.2 L1206.4,996.2 L1210.1,996.2 L1213.8,996.2 L1217.4,996.2 L1221.1,996.1 L1224.8,996.1 L1228.5,996.1 L1232.1,996 L1235.8,995.9 L1239.5,995.8 L1243.2,995.7 L1246.9,995.6 L1250.5,995.4 L1254.2,995.2 L1257.9,994.9 L1261.6,994.6 L1265.2,994.3 L1268.9,993.9 L1272.6,993.4 L1276.3,993 L1280,992.4 L1283.6,991.9 L1287.3,991.3 L1291,990.8 L1294.7,990.2 L1298.3,989.7 L1302,989.2 L1305.7,988.8 L1309.4,988.4 L1313.1,988 L1316.7,987.4 L1320.4,986.6 L1324.1,985.4 L1327.8,983.6 L1331.4,981.2 L1335.1,978.2 L1338.8,974.9 L1342.5,972 L1346.2,969.9 L1349.8,969.3 L1353.5,970.3 L1357.2,972.8 L1360.9,976.5 L1364.5,980.6 L1368.2,984.6 L1371.9,988.1 L1375.6,990.8 L1379.3,992.7 L1382.9,994 L1386.6,994.8 L1390.3,995.3 L1394,995.6 L1397.6,995.8 L1401.3,995.9 L1405,996 L1408.7,996.1 L1412.4,996.1 L1416,996.1 L1419.7,996.1 L1423.4,996.2 L1427.1,996.2 L1430.7,996.2 L1434.4,996.2 L1438.1,996.2 L1438.1,996.2" fill="#5cb8e8" fill-opacity="0.1" stroke="#5cb8e8" stroke-opacity="0.85" stroke-width="1.3"/>
<path d="M1173.3,996.2 L1173.3,996.2 L1177,996.2 L1180.7,996.2 L1184.3,996.2 L1188,996.2 L1191.7,996.2 L1195.4,996.2 L1199,996.2 L1202.7,996.2 L1206.4,996.2 L1210.1,996.2 L1213.8,996.2 L1217.4,996.2 L1221.1,996.2 L1224.8,996.2 L1228.5,996.1 L1232.1,996.1 L1235.8,996.1 L1239.5,996 L1243.2,996 L1246.9,995.9 L1250.5,995.8 L1254.2,995.6 L1257.9,995.4 L1261.6,995.2 L1265.2,994.9 L1268.9,994.5 L1272.6,994.1 L1276.3,993.6 L1280,993.1 L1283.6,992.5 L1287.3,991.8 L1291,991 L1294.7,990.2 L1298.3,989.4 L1302,988.5 L1305.7,987.7 L1309.4,986.9 L1313.1,986.1 L1316.7,985.5 L1320.4,984.9 L1324.1,984.4 L1327.8,984.1 L1331.4,983.8 L1335.1,983.7 L1338.8,983.7 L1342.5,983.8 L1346.2,984 L1349.8,984.2 L1353.5,984.5 L1357.2,984.7 L1360.9,984.9 L1364.5,985 L1368.2,985.1 L1371.9,985.1 L1375.6,985.1 L1379.3,985 L1382.9,984.9 L1386.6,984.8 L1390.3,984.8 L1394,984.8 L1397.6,984.8 L1401.3,985 L1405,985.2 L1408.7,985.6 L1412.4,986 L1416,986.5 L1419.7,987.1 L1423.4,987.7 L1427.1,988.3 L1430.7,989 L1434.4,989.6 L1438.1,990.2 L1438.1,996.2" fill="#5cb8e8" fill-opacity="0.1" stroke="#5cb8e8" stroke-opacity="0.85" stroke-width="1.3"/>
<path d="M1173.3,996.2 L1173.3,996.2 L1177,996.2 L1180.7,996.2 L1184.3,996.2 L1188,996.2 L1191.7,996.2 L1195.4,996.2 L1199,996.2 L1202.7,996.2 L1206.4,996.2 L1210.1,996.2 L1213.8,996.2 L1217.4,996.1 L1221.1,996.1 L1224.8,996.1 L1228.5,996 L1232.1,995.9 L1235.8,995.8 L1239.5,995.6 L1243.2,995.3 L1246.9,995 L1250.5,994.6 L1254.2,994.1 L1257.9,993.5 L1261.6,992.7 L1265.2,991.8 L1268.9,990.9 L1272.6,989.8 L1276.3,988.6 L1280,987.4 L1283.6,986.3 L1287.3,985.1 L1291,984.1 L1294.7,983.2 L1298.3,982.5 L1302,982 L1305.7,981.8 L1309.4,981.7 L1313.1,981.9 L1316.7,982.2 L1320.4,982.7 L1324.1,983.2 L1327.8,983.8 L1331.4,984.4 L1335.1,984.8 L1338.8,985.2 L1342.5,985.5 L1346.2,985.6 L1349.8,985.6 L1353.5,985.6 L1357.2,985.5 L1360.9,985.4 L1364.5,985.4 L1368.2,985.4 L1371.9,985.6 L1375.6,985.9 L1379.3,986.3 L1382.9,986.8 L1386.6,987.5 L1390.3,988.3 L1394,989.1 L1397.6,989.9 L1401.3,990.8 L1405,991.6 L1408.7,992.4 L1412.4,993.1 L1416,993.7 L1419.7,994.2 L1423.4,994.7 L1427.1,995.1 L1430.7,995.4 L1434.4,995.6 L1438.1,995.8 L1438.1,996.2" fill="#5cb8e8" fill-opacity="0.1" stroke="#5cb8e8" stroke-opacity="0.85" stroke-width="1.3"/>
<path d="M1173.3,996.2 L1173.3,996.2 L1177,996.2 L1180.7,996.2 L1184.3,996.2 L1188,996.2 L1191.7,996.2 L1195.4,996.2 L1199,996.2 L1202.7,996.2 L1206.4,996.2 L1210.1,996.2 L1213.8,996.2 L1217.4,996.2 L1221.1,996.2 L1224.8,996.2 L1228.5,996.2 L1232.1,996.2 L1235.8,996.2 L1239.5,996.2 L1243.2,996.2 L1246.9,996.2 L1250.5,996.2 L1254.2,996.2 L1257.9,996.1 L1261.6,996.1 L1265.2,996.1 L1268.9,996 L1272.6,996 L1276.3,995.9 L1280,995.8 L1283.6,995.6 L1287.3,995.4 L1291,995.2 L1294.7,994.9 L1298.3,994.5 L1302,994.1 L1305.7,993.6 L1309.4,993 L1313.1,992.3 L1316.7,991.6 L1320.4,990.7 L1324.1,989.8 L1327.8,988.9 L1331.4,987.9 L1335.1,986.9 L1338.8,986 L1342.5,985.1 L1346.2,984.2 L1349.8,983.5 L1353.5,982.9 L1357.2,982.5 L1360.9,982.2 L1364.5,982.1 L1368.2,982.2 L1371.9,982.5 L1375.6,982.8 L1379.3,983.3 L1382.9,983.9 L1386.6,984.6 L1390.3,985.2 L1394,985.9 L1397.6,986.5 L1401.3,987 L1405,987.5 L1408.7,988 L1412.4,988.5 L1416,988.9 L1419.7,989.3 L1423.4,989.8 L1427.1,990.3 L1430.7,990.8 L1434.4,991.4 L1438.1,992 L1438.1,996.2" fill="#5cb8e8" fill-opacity="0.1" stroke="#5cb8e8" stroke-opacity="0.85" stroke-width="1.3"/>
<path d="M1173.3,996.2 L1173.3,996.2 L1177,996.1 L1180.7,996.1 L1184.3,996.1 L1188,996 L1191.7,995.9 L1195.4,995.8 L1199,995.7 L1202.7,995.5 L1206.4,995.3 L1210.1,995.1 L1213.8,994.8 L1217.4,994.4 L1221.1,993.9 L1224.8,993.4 L1228.5,992.8 L1232.1,992.2 L1235.8,991.5 L1239.5,990.7 L1243.2,989.9 L1246.9,989 L1250.5,988.2 L1254.2,987.4 L1257.9,986.6 L1261.6,985.8 L1265.2,985.2 L1268.9,984.7 L1272.6,984.2 L1276.3,983.9 L1280,983.7 L1283.6,983.7 L1287.3,983.7 L1291,983.8 L1294.7,983.9 L1298.3,984.1 L1302,984.3 L1305.7,984.5 L1309.4,984.6 L1313.1,984.7 L1316.7,984.7 L1320.4,984.6 L1324.1,984.5 L1327.8,984.5 L1331.4,984.4 L1335.1,984.4 L1338.8,984.4 L1342.5,984.6 L1346.2,984.9 L1349.8,985.3 L1353.5,985.9 L1357.2,986.5 L1360.9,987.3 L1364.5,988.2 L1368.2,989.1 L1371.9,990 L1375.6,990.9 L1379.3,991.7 L1382.9,992.5 L1386.6,993.2 L1390.3,993.8 L1394,994.3 L1397.6,994.8 L1401.3,995.1 L1405,995.4 L1408.7,995.6 L1412.4,995.8 L1416,995.9 L1419.7,996 L1423.4,996.1 L1427.1,996.1 L1430.7,996.1 L1434.4,996.2 L1438.1,996.2 L1438.1,996.2" fill="#5cb8e8" fill-opacity="0.1" stroke="#5cb8e8" stroke-opacity="0.85" stroke-width="1.3"/>
<path d="M1173.3,996.2 L1173.3,996.2 L1177,996.2 L1180.7,996.2 L1184.3,996.2 L1188,996.2 L1191.7,996.2 L1195.4,996.2 L1199,996.2 L1202.7,996.2 L1206.4,996.2 L1210.1,996.2 L1213.8,996.2 L1217.4,996.2 L1221.1,996.2 L1224.8,996.2 L1228.5,996.2 L1232.1,996.2 L1235.8,996.2 L1239.5,996.2 L1243.2,996.2 L1246.9,996.2 L1250.5,996.2 L1254.2,996.2 L1257.9,996.2 L1261.6,996.2 L1265.2,996.2 L1268.9,996.2 L1272.6,996.2 L1276.3,996.2 L1280,996.2 L1283.6,996.2 L1287.3,996.2 L1291,996.2 L1294.7,996.2 L1298.3,996.2 L1302,996.2 L1305.7,996.2 L1309.4,996.2 L1313.1,996.1 L1316.7,996.1 L1320.4,996.1 L1324.1,996 L1327.8,995.9 L1331.4,995.8 L1335.1,995.6 L1338.8,995.4 L1342.5,995.2 L1346.2,994.9 L1349.8,994.5 L1353.5,994 L1357.2,993.4 L1360.9,992.8 L1364.5,992.1 L1368.2,991.4 L1371.9,990.6 L1375.6,989.8 L1379.3,989 L1382.9,988.3 L1386.6,987.7 L1390.3,987.1 L1394,986.7 L1397.6,986.4 L1401.3,986.3 L1405,986.3 L1408.7,986.5 L1412.4,986.8 L1416,987.2 L1419.7,987.7 L1423.4,988.3 L1427.1,988.9 L1430.7,989.5 L1434.4,990 L1438.1,990.6 L1438.1,996.2" fill="#5cb8e8" fill-opacity="0.1" stroke="#5cb8e8" stroke-opacity="0.85" stroke-width="1.3"/>
<path d="M1173.3,996.2 L1173.3,996.2 L1177,996.2 L1180.7,996.1 L1184.3,996 L1188,995.7 L1191.7,995.2 L1195.4,994.2 L1199,992.7 L1202.7,990.3 L1206.4,987.2 L1210.1,983.4 L1213.8,979.4 L1217.4,975.8 L1221.1,973.2 L1224.8,972.2 L1228.5,973 L1232.1,975.5 L1235.8,979.1 L1239.5,983.1 L1243.2,986.9 L1246.9,990.1 L1250.5,992.5 L1254.2,994.1 L1257.9,995.1 L1261.6,995.7 L1265.2,996 L1268.9,996.1 L1272.6,996.2 L1276.3,996.2 L1280,996.2 L1283.6,996.2 L1287.3,996.2 L1291,996.2 L1294.7,996.2 L1298.3,996.2 L1302,996.2 L1305.7,996.2 L1309.4,996.2 L1313.1,996.2 L1316.7,996.2 L1320.4,996.2 L1324.1,996.2 L1327.8,996.2 L1331.4,996.2 L1335.1,996.2 L1338.8,996.2 L1342.5,996.2 L1346.2,996.2 L1349.8,996.2 L1353.5,996.2 L1357.2,996.2 L1360.9,996.2 L1364.5,996.2 L1368.2,996.2 L1371.9,996.2 L1375.6,996.2 L1379.3,996.2 L1382.9,996.2 L1386.6,996.2 L1390.3,996.2 L1394,996.2 L1397.6,996.2 L1401.3,996.2 L1405,996.2 L1408.7,996.2 L1412.4,996.2 L1416,996.2 L1419.7,996.2 L1423.4,996.2 L1427.1,996.2 L1430.7,996.2 L1434.4,996.2 L1438.1,996.2 L1438.1,996.2" fill="#2f4f4f" fill-opacity="0.1" stroke="#2f4f4f" stroke-opacity="0.85" stroke-width="1.3"/>
<path d="M1173.3,996.2 L1173.3,996.2 L1177,996.2 L1180.7,996.2 L1184.3,996.2 L1188,996.2 L1191.7,996.2 L1195.4,996.2 L1199,996.2 L1202.7,996.2 L1206.4,996.2 L1210.1,996.2 L1213.8,996.1 L1217.4,996.1 L1221.1,995.9 L1224.8,995.4 L1228.5,994.7 L1232.1,993.4 L1235.8,991.4 L1239.5,988.6 L1243.2,985.1 L1246.9,981.1 L1250.5,977.2 L1254.2,974.1 L1257.9,972.4 L1261.6,972.5 L1265.2,974.3 L1268.9,977.4 L1272.6,981.4 L1276.3,985.3 L1280,988.8 L1283.6,991.6 L1287.3,993.5 L1291,994.7 L1294.7,995.5 L1298.3,995.9 L1302,996.1 L1305.7,996.1 L1309.4,996.2 L1313.1,996.2 L1316.7,996.2 L1320.4,996.2 L1324.1,996.2 L1327.8,996.2 L1331.4,996.2 L1335.1,996.2 L1338.8,996.2 L1342.5,996.2 L1346.2,996.2 L1349.8,996.2 L1353.5,996.2 L1357.2,996.2 L1360.9,996.2 L1364.5,996.2 L1368.2,996.2 L1371.9,996.2 L1375.6,996.2 L1379.3,996.2 L1382.9,996.2 L1386.6,996.2 L1390.3,996.2 L1394,996.2 L1397.6,996.2 L1401.3,996.2 L1405,996.2 L1408.7,996.2 L1412.4,996.2 L1416,996.2 L1419.7,996.2 L1423.4,996.2 L1427.1,996.2 L1430.7,996.2 L1434.4,996.2 L1438.1,996.2 L1438.1,996.2" fill="#2f4f4f" fill-opacity="0.1" stroke="#2f4f4f" stroke-opacity="0.85" stroke-width="1.3"/>
<path d="M1173.3,996.2 L1173.3,996.2 L1177,996.2 L1180.7,996.2 L1184.3,996.2 L1188,996.2 L1191.7,996.2 L1195.4,996.2 L1199,996.2 L1202.7,996.2 L1206.4,996.2 L1210.1,996.2 L1213.8,996.2 L1217.4,996.2 L1221.1,996.2 L1224.8,996.2 L1228.5,996.2 L1232.1,996.2 L1235.8,996.2 L1239.5,996.1 L1243.2,996.1 L1246.9,996 L1250.5,995.7 L1254.2,995.4 L1257.9,994.7 L1261.6,993.8 L1265.2,992.4 L1268.9,990.5 L1272.6,988.1 L1276.3,985.4 L1280,982.5 L1283.6,979.6 L1287.3,977.3 L1291,975.7 L1294.7,975.2 L1298.3,975.8 L1302,977.4 L1305.7,979.8 L1309.4,982.6 L1313.1,985.5 L1316.7,988.3 L1320.4,990.6 L1324.1,992.5 L1327.8,993.8 L1331.4,994.8 L1335.1,995.4 L1338.8,995.8 L1342.5,996 L1346.2,996.1 L1349.8,996.2 L1353.5,996.2 L1357.2,996.2 L1360.9,996.2 L1364.5,996.2 L1368.2,996.2 L1371.9,996.2 L1375.6,996.2 L1379.3,996.2 L1382.9,996.2 L1386.6,996.2 L1390.3,996.2 L1394,996.2 L1397.6,996.2 L1401.3,996.2 L1405,996.2 L1408.7,996.2 L1412.4,996.2 L1416,996.2 L1419.7,996.2 L1423.4,996.2 L1427.1,996.2 L1430.7,996.2 L1434.4,996.2 L1438.1,996.2 L1438.1,996.2" fill="#2f4f4f" fill-opacity="0.1" stroke="#2f4f4f" stroke-opacity="0.85" stroke-width="1.3"/>
<path d="M1173.3,996.2 L1173.3,996.2 L1177,996.2 L1180.7,996.2 L1184.3,996.2 L1188,996.2 L1191.7,996.2 L1195.4,996.2 L1199,996.2 L1202.7,996.2 L1206.4,996.2 L1210.1,996.2 L1213.8,996.2 L1217.4,996.2 L1221.1,996.2 L1224.8,996.2 L1228.5,996.2 L1232.1,996.2 L1235.8,996.2 L1239.5,996.2 L1243.2,996.1 L1246.9,996 L1250.5,995.9 L1254.2,995.7 L1257.9,995.3 L1261.6,994.8 L1265.2,994.1 L1268.9,993.1 L1272.6,991.8 L1276.3,990.2 L1280,988.4 L1283.6,986.4 L1287.3,984.3 L1291,982.4 L1294.7,980.9 L1298.3,979.7 L1302,979.2 L1305.7,979.4 L1309.4,980.2 L1313.1,981.5 L1316.7,983.3 L1320.4,985.2 L1324.1,987.3 L1327.8,989.2 L1331.4,990.9 L1335.1,992.4 L1338.8,993.6 L1342.5,994.4 L1346.2,995.1 L1349.8,995.5 L1353.5,995.8 L1357.2,996 L1360.9,996.1 L1364.5,996.1 L1368.2,996.2 L1371.9,996.2 L1375.6,996.2 L1379.3,996.2 L1382.9,996.2 L1386.6,996.2 L1390.3,996.2 L1394,996.2 L1397.6,996.2 L1401.3,996.2 L1405,996.2 L1408.7,996.2 L1412.4,996.2 L1416,996.2 L1419.7,996.2 L1423.4,996.2 L1427.1,996.2 L1430.7,996.2 L1434.4,996.2 L1438.1,996.2 L1438.1,996.2" fill="#2f4f4f" fill-opacity="0.1" stroke="#2f4f4f" stroke-opacity="0.85" stroke-width="1.3"/>
<path d="M1173.3,996.2 L1173.3,996 L1177,995.9 L1180.7,995.8 L1184.3,995.5 L1188,995.1 L1191.7,994.7 L1195.4,994 L1199,993.1 L1202.7,992.1 L1206.4,990.9 L1210.1,989.5 L1213.8,987.9 L1217.4,986.3 L1221.1,984.8 L1224.8,983.4 L1228.5,982.3 L1232.1,981.6 L1235.8,981.2 L1239.5,981.3 L1243.2,981.9 L1246.9,982.8 L1250.5,984 L1254.2,985.5 L1257.9,987 L1261.6,988.6 L1265.2,990.1 L1268.9,991.4 L1272.6,992.6 L1276.3,993.5 L1280,994.3 L1283.6,994.9 L1287.3,995.3 L1291,995.6 L1294.7,995.8 L1298.3,996 L1302,996.1 L1305.7,996.1 L1309.4,996.2 L1313.1,996.2 L1316.7,996.2 L1320.4,996.2 L1324.1,996.2 L1327.8,996.2 L1331.4,996.2 L1335.1,996.2 L1338.8,996.2 L1342.5,996.2 L1346.2,996.2 L1349.8,996.2 L1353.5,996.2 L1357.2,996.2 L1360.9,996.2 L1364.5,996.2 L1368.2,996.2 L1371.9,996.2 L1375.6,996.2 L1379.3,996.2 L1382.9,996.2 L1386.6,996.2 L1390.3,996.2 L1394,996.2 L1397.6,996.2 L1401.3,996.2 L1405,996.2 L1408.7,996.2 L1412.4,996.2 L1416,996.2 L1419.7,996.2 L1423.4,996.2 L1427.1,996.2 L1430.7,996.2 L1434.4,996.2 L1438.1,996.2 L1438.1,996.2" fill="#2f4f4f" fill-opacity="0.1" stroke="#2f4f4f" stroke-opacity="0.85" stroke-width="1.3"/>
<path d="M1173.3,996.2 L1173.3,996.2 L1177,996.2 L1180.7,996.2 L1184.3,996.2 L1188,996.2 L1191.7,996.2 L1195.4,996.2 L1199,996.2 L1202.7,996.2 L1206.4,996.2 L1210.1,996.2 L1213.8,996.2 L1217.4,996.2 L1221.1,996.2 L1224.8,996.2 L1228.5,996.2 L1232.1,996.2 L1235.8,996.2 L1239.5,996.2 L1243.2,996.2 L1246.9,996.2 L1250.5,996.1 L1254.2,996.1 L1257.9,996 L1261.6,995.9 L1265.2,995.7 L1268.9,995.5 L1272.6,995.1 L1276.3,994.6 L1280,994 L1283.6,993.2 L1287.3,992.3 L1291,991.2 L1294.7,990 L1298.3,988.7 L1302,987.5 L1305.7,986.3 L1309.4,985.4 L1313.1,984.7 L1316.7,984.3 L1320.4,984.2 L1324.1,984.5 L1327.8,985.2 L1331.4,986.1 L1335.1,987.2 L1338.8,988.5 L1342.5,989.7 L1346.2,990.9 L1349.8,992.1 L1353.5,993 L1357.2,993.8 L1360.9,994.5 L1364.5,995 L1368.2,995.4 L1371.9,995.7 L1375.6,995.9 L1379.3,996 L1382.9,996.1 L1386.6,996.1 L1390.3,996.2 L1394,996.2 L1397.6,996.2 L1401.3,996.2 L1405,996.2 L1408.7,996.2 L1412.4,996.2 L1416,996.2 L1419.7,996.2 L1423.4,996.2 L1427.1,996.2 L1430.7,996.2 L1434.4,996.2 L1438.1,996.2 L1438.1,996.2" fill="#2f4f4f" fill-opacity="0.1" stroke="#2f4f4f" stroke-opacity="0.85" stroke-width="1.3"/>
<path d="M1173.3,996.2 L1173.3,919.2 L1177,925 L1177,925.1 L1180.7,940 L1180.7,940.3 L1184.3,958.3 L1184.4,958.7 L1188,974.4 L1188.1,974.8 L1191.7,985.4 L1191.8,985.8 L1195.4,991.7 L1195.5,991.9 L1199,994.6 L1199.3,994.7 L1202.7,995.7 L1203,995.7 L1206.4,996.1 L1210.1,996.2 L1213.8,996.2 L1217.4,996.2 L1221.1,996.2 L1224.8,996.2 L1228.5,996.2 L1232.1,996.2 L1235.8,996.2 L1239.5,996.2 L1243.2,996.2 L1246.9,996.2 L1250.5,996.2 L1254.2,996.2 L1257.9,996.2 L1261.6,996.2 L1265.2,996.2 L1268.9,996.2 L1272.6,996.2 L1276.3,996.2 L1280,996.2 L1283.6,996.2 L1287.3,996.2 L1291,996.2 L1294.7,996.2 L1298.3,996.2 L1302,996.2 L1305.7,996.2 L1309.4,996.2 L1313.1,996.2 L1316.7,996.2 L1320.4,996.2 L1324.1,996.2 L1327.8,996.2 L1331.4,996.2 L1335.1,996.2 L1338.8,996.2 L1342.5,996.2 L1346.2,996.2 L1349.8,996.2 L1353.5,996.2 L1357.2,996.2 L1360.9,996.2 L1364.5,996.2 L1368.2,996.2 L1371.9,996.2 L1375.6,996.2 L1379.3,996.2 L1382.9,996.2 L1386.6,996.2 L1390.3,996.2 L1394,996.2 L1397.6,996.2 L1401.3,996.2 L1405,996.2 L1408.7,996.2 L1412.4,996.2 L1416,996.2 L1419.7,996.2 L1423.4,996.2 L1427.1,996.2 L1430.7,996.2 L1434.4,996.2 L1438.1,996.2 L1438.1,996.2" fill="#5b6ee1" fill-opacity="0.1" stroke="#5b6ee1" stroke-opacity="0.85" stroke-width="1.3"/>
<path d="M1173.3,996.2 L1173.3,968.9 L1177,959.8 L1180.7,953.3 L1184.3,951.2 L1188,954.5 L1191.7,961.9 L1195.4,971.2 L1199,980 L1202.7,986.9 L1206.4,991.5 L1210.1,994.1 L1213.8,995.4 L1217.4,995.9 L1221.1,996.1 L1224.8,996.2 L1228.5,996.2 L1232.1,996.2 L1235.8,996.2 L1239.5,996.2 L1243.2,996.2 L1246.9,996.2 L1250.5,996.2 L1254.2,996.2 L1257.9,996.2 L1261.6,996.2 L1265.2,996.2 L1268.9,996.2 L1272.6,996.2 L1276.3,996.2 L1280,996.2 L1283.6,996.2 L1287.3,996.2 L1291,996.2 L1294.7,996.2 L1298.3,996.2 L1302,996.2 L1305.7,996.2 L1309.4,996.2 L1313.1,996.2 L1316.7,996.2 L1320.4,996.2 L1324.1,996.2 L1327.8,996.2 L1331.4,996.2 L1335.1,996.2 L1338.8,996.2 L1342.5,996.2 L1346.2,996.2 L1349.8,996.2 L1353.5,996.2 L1357.2,996.2 L1360.9,996.2 L1364.5,996.2 L1368.2,996.2 L1371.9,996.2 L1375.6,996.2 L1379.3,996.2 L1382.9,996.2 L1386.6,996.2 L1390.3,996.2 L1394,996.2 L1397.6,996.2 L1401.3,996.2 L1405,996.2 L1408.7,996.2 L1412.4,996.2 L1416,996.2 L1419.7,996.2 L1423.4,996.2 L1427.1,996.2 L1430.7,996.2 L1434.4,996.2 L1438.1,996.2 L1438.1,996.2" fill="#5b6ee1" fill-opacity="0.1" stroke="#5b6ee1" stroke-opacity="0.85" stroke-width="1.3"/>
<path d="M1173.3,996.2 L1173.3,985.2 L1177,983.1 L1180.7,981.1 L1184.3,979.5 L1188,978.4 L1191.7,977.9 L1195.4,978.1 L1199,979 L1202.7,980.4 L1206.4,982.1 L1210.1,984 L1213.8,985.9 L1217.4,987.6 L1221.1,989.1 L1224.8,990.2 L1228.5,991 L1232.1,991.6 L1235.8,991.9 L1239.5,992 L1243.2,992.1 L1246.9,992.1 L1250.5,992.1 L1254.2,992.1 L1257.9,992.2 L1261.6,992.4 L1265.2,992.6 L1268.9,992.9 L1272.6,993.2 L1276.3,993.5 L1280,993.8 L1283.6,994.2 L1287.3,994.5 L1291,994.8 L1294.7,995.1 L1298.3,995.3 L1302,995.5 L1305.7,995.7 L1309.4,995.8 L1313.1,995.9 L1316.7,996 L1320.4,996 L1324.1,996.1 L1327.8,996.1 L1331.4,996.2 L1335.1,996.2 L1338.8,996.2 L1342.5,996.2 L1346.2,996.2 L1349.8,996.2 L1353.5,996.2 L1357.2,996.2 L1360.9,996.2 L1364.5,996.2 L1368.2,996.2 L1371.9,996.2 L1375.6,996.2 L1379.3,996.2 L1382.9,996.2 L1386.6,996.2 L1390.3,996.2 L1394,996.2 L1397.6,996.2 L1401.3,996.2 L1405,996.2 L1408.7,996.2 L1412.4,996.2 L1416,996.2 L1419.7,996.2 L1423.4,996.2 L1427.1,996.2 L1430.7,996.2 L1434.4,996.2 L1438.1,996.2 L1438.1,996.2" fill="#5b6ee1" fill-opacity="0.1" stroke="#5b6ee1" stroke-opacity="0.85" stroke-width="1.3"/>
<path d="M1173.3,996.2 L1173.3,967.8 L1176.6,954.8 L1177,953.5 L1180.1,943.6 L1180.7,942.4 L1183.6,939.2 L1184.3,939.4 L1187.1,943.6 L1188,945.9 L1190.6,954.8 L1191.7,959 L1194.1,968.5 L1195.4,973.1 L1197.6,980.4 L1199,984.2 L1201.1,988.5 L1202.7,991 L1204.6,993 L1206.4,994.3 L1208.1,995.1 L1210.1,995.6 L1211.6,995.9 L1213.8,996.1 L1217.4,996.2 L1221.1,996.2 L1224.8,996.2 L1228.5,996.2 L1232.1,996.2 L1235.8,996.2 L1239.5,996.2 L1243.2,996.2 L1246.9,996.2 L1250.5,996.2 L1254.2,996.2 L1257.9,996.2 L1261.6,996.2 L1265.2,996.2 L1268.9,996.2 L1272.6,996.2 L1276.3,996.2 L1280,996.2 L1283.6,996.2 L1287.3,996.2 L1291,996.2 L1294.7,996.2 L1298.3,996.2 L1302,996.2 L1305.7,996.2 L1309.4,996.2 L1313.1,996.2 L1316.7,996.2 L1320.4,996.2 L1324.1,996.2 L1327.8,996.2 L1331.4,996.2 L1335.1,996.2 L1338.8,996.2 L1342.5,996.2 L1346.2,996.2 L1349.8,996.2 L1353.5,996.2 L1357.2,996.2 L1360.9,996.2 L1364.5,996.2 L1368.2,996.2 L1371.9,996.2 L1375.6,996.2 L1379.3,996.2 L1382.9,996.2 L1386.6,996.2 L1390.3,996.2 L1394,996.2 L1397.6,996.2 L1401.3,996.2 L1405,996.2 L1408.7,996.2 L1412.4,996.2 L1416,996.2 L1419.7,996.2 L1423.4,996.2 L1427.1,996.2 L1430.7,996.2 L1434.4,996.2 L1438.1,996.2 L1438.1,996.2" fill="#ee9530" fill-opacity="0.14" stroke="#ee9530" stroke-opacity="0.85" stroke-width="1.3"/>
<path d="M1173.3,996.2 L1173.3,991 L1177,989.2 L1180.7,987.2 L1184.3,985 L1188,982.9 L1191.7,981 L1195.4,979.5 L1199,978.5 L1202.7,978.2 L1206.4,978.6 L1210.1,979.7 L1213.8,981.3 L1217.4,983.2 L1221.1,985.4 L1224.8,987.5 L1228.5,989.5 L1232.1,991.2 L1235.8,992.6 L1239.5,993.8 L1243.2,994.6 L1246.9,995.2 L1250.5,995.6 L1254.2,995.8 L1257.9,996 L1261.6,996.1 L1265.2,996.1 L1268.9,996.2 L1272.6,996.2 L1276.3,996.2 L1280,996.2 L1283.6,996.2 L1287.3,996.2 L1291,996.2 L1294.7,996.2 L1298.3,996.2 L1302,996.2 L1305.7,996.2 L1309.4,996.2 L1313.1,996.2 L1316.7,996.2 L1320.4,996.2 L1324.1,996.2 L1327.8,996.2 L1331.4,996.2 L1335.1,996.2 L1338.8,996.2 L1342.5,996.2 L1346.2,996.2 L1349.8,996.2 L1353.5,996.2 L1357.2,996.2 L1360.9,996.2 L1364.5,996.2 L1368.2,996.2 L1371.9,996.2 L1375.6,996.2 L1379.3,996.2 L1382.9,996.2 L1386.6,996.2 L1390.3,996.2 L1394,996.2 L1397.6,996.2 L1401.3,996.2 L1405,996.2 L1408.7,996.2 L1412.4,996.2 L1416,996.2 L1419.7,996.2 L1423.4,996.2 L1427.1,996.2 L1430.7,996.2 L1434.4,996.2 L1438.1,996.2 L1438.1,996.2" fill="#ee9530" fill-opacity="0.12" stroke="#ee9530" stroke-opacity="0.85" stroke-width="1.3"/>
<path d="M1441.7,1259.4 L1446,1259.4 L1448.3,1258.2 L1455.3,1256 L1455.9,1255.8 L1465.6,1253.7 L1473.1,1252.2 L1477.3,1251.4 L1486.9,1249.2 L1488.4,1248.7 L1490.7,1246.9 L1488.2,1245.1 L1486.9,1244.7 L1477.3,1242.4 L1472.8,1241.5 L1465.6,1240.1 L1455.7,1238 L1455.3,1237.9 L1448.3,1235.6 L1445.9,1234.4 L1444.5,1233.3 L1442.7,1231.1 L1442.6,1230.8 L1442,1228.8 L1441.8,1227.2 L1441.7,1223.7 L1441.7,1220.1 L1441.7,1216.5 L1441.7,1212.9 L1441.7,1209.4 L1441.7,1205.8 L1441.7,1202.2 L1441.7,1198.6 L1441.7,1195.1 L1441.7,1191.5 L1441.7,1187.9 L1441.7,1184.3 L1441.7,1180.8 L1441.7,1177.2 L1441.7,1173.6 L1441.7,1170 L1441.7,1166.5 L1441.7,1162.9 L1441.7,1159.3 L1441.7,1155.7 L1441.7,1152.2 L1441.7,1148.6 L1441.7,1145 L1441.7,1141.4 L1441.7,1137.9 L1441.7,1134.3 L1441.7,1130.7 L1441.7,1127.1 L1441.7,1123.5 L1441.7,1120 L1441.7,1116.4 L1441.7,1112.8 L1441.7,1109.2 L1441.7,1105.7 L1441.7,1102.1 L1441.7,1098.5 L1441.7,1095 L1441.7,1091.4 L1441.7,1087.8 L1441.7,1084.2 L1441.7,1080.7 L1441.7,1077.1 L1441.7,1073.5 L1441.7,1069.9 L1441.7,1066.3 L1441.7,1062.8 L1441.7,1059.2 L1441.7,1055.6 L1441.7,1052 L1441.7,1048.5 L1441.7,1044.9 L1441.7,1041.3 L1441.7,1037.8 L1441.7,1034.2 L1441.7,1030.6 L1441.7,1027 L1441.7,1023.5 L1441.7,1019.9 L1441.7,1016.3 L1441.7,1012.7 L1441.7,1009.1 L1441.7,1005.6 L1441.7,1002 L1441.7,1002" fill="#ee9530" fill-opacity="0.14" stroke="#ee9530" stroke-opacity="0.85" stroke-width="1.3"/>
<path d="M1441.7,1259.4 L1465.9,1259.4 L1467.1,1258.9 L1473.2,1255.8 L1474,1255.3 L1476.6,1252.2 L1476.7,1251.7 L1474.8,1248.7 L1474,1248.1 L1468.5,1245.1 L1467.1,1244.5 L1460.2,1241.5 L1458.7,1240.9 L1452.7,1238 L1451.4,1237.3 L1447.2,1234.4 L1446.4,1233.7 L1444.1,1230.8 L1443.7,1230.1 L1442.6,1227.2 L1442.4,1226.5 L1442,1223.7 L1441.9,1222.8 L1441.8,1220.1 L1441.7,1216.5 L1441.7,1212.9 L1441.7,1209.4 L1441.7,1205.8 L1441.7,1202.2 L1441.7,1198.6 L1441.7,1195.1 L1441.7,1191.5 L1441.7,1187.9 L1441.7,1184.3 L1441.7,1180.8 L1441.7,1177.2 L1441.7,1173.6 L1441.7,1170 L1441.7,1166.5 L1441.7,1162.9 L1441.7,1159.3 L1441.7,1155.7 L1441.7,1152.2 L1441.7,1148.6 L1441.7,1145 L1441.7,1141.4 L1441.7,1137.9 L1441.7,1134.3 L1441.7,1130.7 L1441.7,1127.1 L1441.7,1123.5 L1441.7,1120 L1441.7,1116.4 L1441.7,1112.8 L1441.7,1109.2 L1441.7,1105.7 L1441.7,1102.1 L1441.7,1098.5 L1441.7,1095 L1441.7,1091.4 L1441.7,1087.8 L1441.7,1084.2 L1441.7,1080.7 L1441.7,1077.1 L1441.7,1073.5 L1441.7,1069.9 L1441.7,1066.3 L1441.7,1062.8 L1441.7,1059.2 L1441.7,1055.6 L1441.7,1052 L1441.7,1048.5 L1441.7,1044.9 L1441.7,1041.3 L1441.7,1037.8 L1441.7,1034.2 L1441.7,1030.6 L1441.7,1027 L1441.7,1023.5 L1441.7,1019.9 L1441.7,1016.3 L1441.7,1012.7 L1441.7,1009.1 L1441.7,1005.6 L1441.7,1002 L1441.7,1002" fill="#ee9530" fill-opacity="0.12" stroke="#ee9530" stroke-opacity="0.85" stroke-width="1.3"/>
<path d="M1441.7,1259.4 L1441.7,1259.4 L1441.7,1255.8 L1441.7,1252.2 L1441.7,1248.7 L1441.7,1245.1 L1441.7,1241.5 L1441.7,1238 L1441.7,1234.4 L1441.7,1230.8 L1441.7,1227.2 L1441.7,1223.7 L1441.7,1220.1 L1441.7,1216.5 L1441.7,1212.9 L1441.7,1209.4 L1441.7,1205.8 L1441.7,1202.2 L1441.7,1198.6 L1441.7,1195.1 L1441.7,1191.5 L1441.7,1187.9 L1441.7,1184.3 L1441.7,1180.8 L1441.7,1177.2 L1441.7,1173.6 L1441.7,1170 L1441.7,1166.5 L1441.7,1162.9 L1441.7,1159.3 L1441.7,1155.7 L1441.7,1152.2 L1441.8,1148.6 L1441.9,1145 L1442.1,1141.4 L1442.4,1137.9 L1442.9,1134.3 L1443.6,1130.7 L1444.6,1127.1 L1446,1123.5 L1447.7,1120 L1449.6,1116.4 L1451.5,1112.8 L1453.3,1109.2 L1454.8,1105.7 L1455.7,1102.1 L1455.9,1098.5 L1455.5,1095 L1454.6,1091.4 L1453.5,1087.8 L1452.4,1084.2 L1451.7,1080.7 L1451.6,1077.1 L1452.2,1073.5 L1453.4,1069.9 L1455,1066.3 L1456.7,1062.8 L1458.3,1059.2 L1459.4,1055.6 L1459.9,1052 L1459.7,1048.5 L1458.9,1044.9 L1457.8,1041.3 L1456.6,1037.8 L1455.4,1034.2 L1454.6,1030.6 L1454.1,1027 L1454,1023.5 L1454.2,1019.9 L1454.6,1016.3 L1455,1012.7 L1455.4,1009.1 L1455.7,1005.6 L1455.8,1002 L1441.7,1002" fill="#5cb8e8" fill-opacity="0.1" stroke="#5cb8e8" stroke-opacity="0.85" stroke-width="1.3"/>
<path d="M1441.7,1259.4 L1441.7,1259.4 L1441.7,1255.8 L1441.7,1252.2 L1441.7,1248.7 L1441.7,1245.1 L1441.7,1241.5 L1441.7,1238 L1441.7,1234.4 L1441.7,1230.8 L1441.7,1227.2 L1441.7,1223.7 L1441.7,1220.1 L1441.7,1216.5 L1441.7,1212.9 L1441.7,1209.4 L1441.7,1205.8 L1441.7,1202.2 L1441.7,1198.6 L1441.7,1195.1 L1441.7,1191.5 L1441.7,1187.9 L1441.7,1184.3 L1441.7,1180.8 L1441.7,1177.2 L1441.7,1173.6 L1441.7,1170 L1441.7,1166.5 L1441.7,1162.9 L1441.7,1159.3 L1441.7,1155.7 L1441.7,1152.2 L1441.7,1148.6 L1441.7,1145 L1441.7,1141.4 L1441.8,1137.9 L1441.9,1134.3 L1442,1130.7 L1442.2,1127.1 L1442.6,1123.5 L1443.1,1120 L1443.8,1116.4 L1444.9,1112.8 L1446.2,1109.2 L1447.8,1105.7 L1449.7,1102.1 L1451.8,1098.5 L1454,1095 L1456.1,1091.4 L1457.8,1087.8 L1459.1,1084.2 L1459.8,1080.7 L1459.8,1077.1 L1459.1,1073.5 L1458,1069.9 L1456.5,1066.3 L1455,1062.8 L1453.6,1059.2 L1452.6,1055.6 L1452.2,1052 L1452.3,1048.5 L1453.1,1044.9 L1454.3,1041.3 L1455.7,1037.8 L1457.2,1034.2 L1458.3,1030.6 L1458.9,1027 L1459,1023.5 L1458.6,1019.9 L1457.7,1016.3 L1456.5,1012.7 L1455.2,1009.1 L1453.9,1005.6 L1452.7,1002 L1441.7,1002" fill="#5cb8e8" fill-opacity="0.1" stroke="#5cb8e8" stroke-opacity="0.85" stroke-width="1.3"/>
<path d="M1441.7,1259.4 L1441.7,1259.4 L1441.7,1255.8 L1441.7,1252.2 L1441.7,1248.7 L1441.7,1245.1 L1441.7,1241.5 L1441.7,1238 L1441.7,1234.4 L1441.7,1230.8 L1441.7,1227.2 L1441.7,1223.7 L1441.7,1220.1 L1441.7,1216.5 L1441.7,1212.9 L1441.7,1209.4 L1441.7,1205.8 L1441.7,1202.2 L1441.8,1198.6 L1441.8,1195.1 L1441.9,1191.5 L1441.9,1187.9 L1442.1,1184.3 L1442.2,1180.8 L1442.4,1177.2 L1442.7,1173.6 L1443,1170 L1443.4,1166.5 L1443.9,1162.9 L1444.4,1159.3 L1445.1,1155.7 L1445.8,1152.2 L1446.6,1148.6 L1447.4,1145 L1448.3,1141.4 L1449.1,1137.9 L1449.9,1134.3 L1450.5,1130.7 L1451.1,1127.1 L1451.5,1123.5 L1451.7,1120 L1451.7,1116.4 L1451.5,1112.8 L1451.2,1109.2 L1450.7,1105.7 L1450.1,1102.1 L1449.5,1098.5 L1448.8,1095 L1448.2,1091.4 L1447.6,1087.8 L1447.2,1084.2 L1447,1080.7 L1447.1,1077.1 L1447.3,1073.5 L1447.8,1069.9 L1448.5,1066.3 L1449.4,1062.8 L1450.4,1059.2 L1451.4,1055.6 L1452.4,1052 L1453.1,1048.5 L1453.6,1044.9 L1453.8,1041.3 L1453.7,1037.8 L1453.2,1034.2 L1452.4,1030.6 L1451.4,1027 L1450.2,1023.5 L1448.9,1019.9 L1447.7,1016.3 L1446.5,1012.7 L1445.4,1009.1 L1444.5,1005.6 L1443.8,1002 L1441.7,1002" fill="#5cb8e8" fill-opacity="0.1" stroke="#5cb8e8" stroke-opacity="0.85" stroke-width="1.3"/>
<path d="M1441.7,1259.4 L1441.7,1259.4 L1441.7,1255.8 L1441.7,1252.2 L1441.7,1248.7 L1441.7,1245.1 L1441.7,1241.5 L1441.7,1238 L1441.7,1234.4 L1441.7,1230.8 L1441.7,1227.2 L1441.7,1223.7 L1441.7,1220.1 L1441.7,1216.5 L1441.7,1212.9 L1441.7,1209.4 L1441.7,1205.8 L1441.7,1202.2 L1441.7,1198.6 L1441.7,1195.1 L1441.7,1191.5 L1441.7,1187.9 L1441.8,1184.3 L1441.8,1180.8 L1441.9,1177.2 L1441.9,1173.6 L1442,1170 L1442.2,1166.5 L1442.3,1162.9 L1442.6,1159.3 L1442.8,1155.7 L1443.2,1152.2 L1443.6,1148.6 L1444.1,1145 L1444.6,1141.4 L1445.2,1137.9 L1445.9,1134.3 L1446.6,1130.7 L1447.2,1127.1 L1447.9,1123.5 L1448.5,1120 L1449,1116.4 L1449.3,1112.8 L1449.6,1109.2 L1449.7,1105.7 L1449.7,1102.1 L1449.5,1098.5 L1449.2,1095 L1448.8,1091.4 L1448.3,1087.8 L1447.8,1084.2 L1447.3,1080.7 L1446.8,1077.1 L1446.4,1073.5 L1446.1,1069.9 L1445.9,1066.3 L1445.9,1062.8 L1446.1,1059.2 L1446.4,1055.6 L1446.9,1052 L1447.5,1048.5 L1448.3,1044.9 L1449.2,1041.3 L1450,1037.8 L1450.9,1034.2 L1451.8,1030.6 L1452.5,1027 L1453.1,1023.5 L1453.5,1019.9 L1453.7,1016.3 L1453.7,1012.7 L1453.4,1009.1 L1452.9,1005.6 L1452.3,1002 L1441.7,1002" fill="#5cb8e8" fill-opacity="0.12" stroke="#5cb8e8" stroke-opacity="0.85" stroke-width="1.3"/>
<path d="M1441.7,1259.4 L1441.7,1259.4 L1441.7,1255.8 L1441.7,1252.2 L1441.7,1248.7 L1441.7,1245.1 L1441.7,1241.5 L1441.7,1238 L1441.7,1234.4 L1441.7,1230.8 L1441.7,1227.2 L1441.8,1223.7 L1441.8,1220.1 L1441.9,1216.5 L1441.9,1212.9 L1442,1209.4 L1442.2,1205.8 L1442.4,1202.2 L1442.6,1198.6 L1442.9,1195.1 L1443.3,1191.5 L1443.7,1187.9 L1444.3,1184.3 L1444.9,1180.8 L1445.5,1177.2 L1446.3,1173.6 L1447,1170 L1447.8,1166.5 L1448.5,1162.9 L1449.2,1159.3 L1449.8,1155.7 L1450.2,1152.2 L1450.6,1148.6 L1450.8,1145 L1450.8,1141.4 L1450.6,1137.9 L1450.4,1134.3 L1450,1130.7 L1449.5,1127.1 L1449,1123.5 L1448.5,1120 L1448.1,1116.4 L1447.7,1112.8 L1447.4,1109.2 L1447.2,1105.7 L1447.2,1102.1 L1447.3,1098.5 L1447.5,1095 L1447.8,1091.4 L1448.2,1087.8 L1448.6,1084.2 L1449,1080.7 L1449.4,1077.1 L1449.6,1073.5 L1449.8,1069.9 L1449.8,1066.3 L1449.7,1062.8 L1449.4,1059.2 L1449.1,1055.6 L1448.6,1052 L1448,1048.5 L1447.4,1044.9 L1446.7,1041.3 L1446,1037.8 L1445.4,1034.2 L1444.7,1030.6 L1444.2,1027 L1443.7,1023.5 L1443.3,1019.9 L1442.9,1016.3 L1442.6,1012.7 L1442.4,1009.1 L1442.2,1005.6 L1442.1,1002 L1441.7,1002" fill="#5cb8e8" fill-opacity="0.1" stroke="#5cb8e8" stroke-opacity="0.85" stroke-width="1.3"/>
<path d="M1441.7,1259.4 L1441.9,1259.4 L1442,1255.8 L1442.1,1252.2 L1442.3,1248.7 L1442.6,1245.1 L1442.9,1241.5 L1443.3,1238 L1443.8,1234.4 L1444.5,1230.8 L1445.3,1227.2 L1446.2,1223.7 L1447.3,1220.1 L1448.5,1216.5 L1449.9,1212.9 L1451.3,1209.4 L1452.8,1205.8 L1454.2,1202.2 L1455.6,1198.6 L1456.9,1195.1 L1458.1,1191.5 L1459,1187.9 L1459.7,1184.3 L1460.1,1180.8 L1460.3,1177.2 L1460.2,1173.6 L1459.9,1170 L1459.4,1166.5 L1458.7,1162.9 L1457.9,1159.3 L1457,1155.7 L1456.2,1152.2 L1455.3,1148.6 L1454.5,1145 L1453.7,1141.4 L1453,1137.9 L1452.3,1134.3 L1451.7,1130.7 L1451.2,1127.1 L1450.7,1123.5 L1450.2,1120 L1449.7,1116.4 L1449.3,1112.8 L1448.8,1109.2 L1448.4,1105.7 L1447.9,1102.1 L1447.4,1098.5 L1447,1095 L1446.5,1091.4 L1446,1087.8 L1445.6,1084.2 L1445.2,1080.7 L1444.8,1077.1 L1444.4,1073.5 L1444,1069.9 L1443.7,1066.3 L1443.4,1062.8 L1443.1,1059.2 L1442.9,1055.6 L1442.7,1052 L1442.5,1048.5 L1442.4,1044.9 L1442.2,1041.3 L1442.1,1037.8 L1442.1,1034.2 L1442,1030.6 L1441.9,1027 L1441.9,1023.5 L1441.8,1019.9 L1441.8,1016.3 L1441.8,1012.7 L1441.8,1009.1 L1441.7,1005.6 L1441.7,1002 L1441.7,1002" fill="#5b6ee1" fill-opacity="0.12" stroke="#5b6ee1" stroke-opacity="0.85" stroke-width="1.3"/>
<path d="M1441.7,1259.4 L1441.7,1259.4 L1441.7,1255.8 L1441.7,1252.2 L1441.7,1248.7 L1441.7,1245.1 L1441.7,1241.5 L1441.7,1238 L1441.7,1234.4 L1441.7,1230.8 L1441.8,1227.2 L1441.8,1223.7 L1441.8,1220.1 L1441.8,1216.5 L1441.9,1212.9 L1441.9,1209.4 L1442,1205.8 L1442,1202.2 L1442.1,1198.6 L1442.2,1195.1 L1442.3,1191.5 L1442.5,1187.9 L1442.7,1184.3 L1442.9,1180.8 L1443.1,1177.2 L1443.3,1173.6 L1443.6,1170 L1444,1166.5 L1444.3,1162.9 L1444.7,1159.3 L1445.1,1155.7 L1445.5,1152.2 L1445.9,1148.6 L1446.4,1145 L1446.8,1141.4 L1447.3,1137.9 L1447.7,1134.3 L1448.1,1130.7 L1448.5,1127.1 L1448.8,1123.5 L1449.1,1120 L1449.4,1116.4 L1449.6,1112.8 L1449.7,1109.2 L1449.8,1105.7 L1449.8,1102.1 L1449.7,1098.5 L1449.6,1095 L1449.5,1091.4 L1449.3,1087.8 L1449.2,1084.2 L1449,1080.7 L1448.8,1077.1 L1448.7,1073.5 L1448.6,1069.9 L1448.5,1066.3 L1448.5,1062.8 L1448.5,1059.2 L1448.6,1055.6 L1448.7,1052 L1448.8,1048.5 L1448.9,1044.9 L1449,1041.3 L1449,1037.8 L1449,1034.2 L1448.9,1030.6 L1448.7,1027 L1448.5,1023.5 L1448.1,1019.9 L1447.7,1016.3 L1447.2,1012.7 L1446.7,1009.1 L1446.1,1005.6 L1445.6,1002 L1441.7,1002" fill="#5b6ee1" fill-opacity="0.1" stroke="#5b6ee1" stroke-opacity="0.85" stroke-width="1.3"/>
<path d="M1441.7,1259.4 L1442.3,1259.4 L1442.8,1255.8 L1443.5,1252.2 L1444.4,1248.7 L1445.8,1245.1 L1447.4,1241.5 L1449.3,1238 L1451.2,1234.4 L1453,1230.8 L1454.5,1227.2 L1455.5,1223.7 L1455.7,1220.1 L1455.2,1216.5 L1454,1212.9 L1452.3,1209.4 L1450.4,1205.8 L1448.5,1202.2 L1446.7,1198.6 L1445.2,1195.1 L1444,1191.5 L1443.1,1187.9 L1442.6,1184.3 L1442.2,1180.8 L1442,1177.2 L1441.8,1173.6 L1441.8,1170 L1441.7,1166.5 L1441.7,1162.9 L1441.7,1159.3 L1441.7,1155.7 L1441.7,1152.2 L1441.7,1148.6 L1441.7,1145 L1441.7,1141.4 L1441.7,1137.9 L1441.7,1134.3 L1441.7,1130.7 L1441.7,1127.1 L1441.7,1123.5 L1441.7,1120 L1441.7,1116.4 L1441.7,1112.8 L1441.7,1109.2 L1441.7,1105.7 L1441.7,1102.1 L1441.7,1098.5 L1441.7,1095 L1441.7,1091.4 L1441.7,1087.8 L1441.7,1084.2 L1441.7,1080.7 L1441.7,1077.1 L1441.7,1073.5 L1441.7,1069.9 L1441.7,1066.3 L1441.7,1062.8 L1441.7,1059.2 L1441.7,1055.6 L1441.7,1052 L1441.7,1048.5 L1441.7,1044.9 L1441.7,1041.3 L1441.7,1037.8 L1441.7,1034.2 L1441.7,1030.6 L1441.7,1027 L1441.7,1023.5 L1441.7,1019.9 L1441.7,1016.3 L1441.7,1012.7 L1441.7,1009.1 L1441.7,1005.6 L1441.7,1002 L1441.7,1002" fill="#5b6ee1" fill-opacity="0.12" stroke="#5b6ee1" stroke-opacity="0.85" stroke-width="1.3"/>
<path d="M1441.7,1259.4 L1442.1,1259.4 L1442.5,1257.6 L1443.2,1255.8 L1444.1,1254.5 L1446.3,1252.2 L1447.4,1251.4 L1452.6,1248.7 L1453.4,1248.3 L1462.1,1245.2 L1462.6,1245.1 L1472.2,1242.2 L1474.1,1241.5 L1480.5,1239.1 L1482.4,1238 L1483.7,1236 L1482.8,1234.4 L1480.5,1232.9 L1475.2,1230.8 L1472.2,1229.8 L1463.8,1227.2 L1462.1,1226.7 L1453.4,1223.7 L1453.4,1223.6 L1447.4,1220.5 L1446.7,1220.1 L1444.1,1217.4 L1443.4,1216.5 L1442.5,1214.4 L1442.2,1212.9 L1442,1211.3 L1441.8,1209.4 L1441.7,1205.8 L1441.7,1202.2 L1441.7,1198.6 L1441.7,1195.1 L1441.7,1191.5 L1441.7,1187.9 L1441.7,1184.3 L1441.7,1180.8 L1441.7,1177.2 L1441.7,1173.6 L1441.7,1170 L1441.7,1166.5 L1441.7,1162.9 L1441.7,1159.3 L1441.7,1155.7 L1441.7,1152.2 L1441.7,1148.6 L1441.7,1145 L1441.7,1141.4 L1441.7,1137.9 L1441.7,1134.3 L1441.7,1130.7 L1441.7,1127.1 L1441.7,1123.5 L1441.7,1120 L1441.7,1116.4 L1441.7,1112.8 L1441.7,1109.2 L1441.7,1105.7 L1441.7,1102.1 L1441.7,1098.5 L1441.7,1095 L1441.7,1091.4 L1441.7,1087.8 L1441.7,1084.2 L1441.7,1080.7 L1441.7,1077.1 L1441.7,1073.5 L1441.7,1069.9 L1441.7,1066.3 L1441.7,1062.8 L1441.7,1059.2 L1441.7,1055.6 L1441.7,1052 L1441.7,1048.5 L1441.7,1044.9 L1441.7,1041.3 L1441.7,1037.8 L1441.7,1034.2 L1441.7,1030.6 L1441.7,1027 L1441.7,1023.5 L1441.7,1019.9 L1441.7,1016.3 L1441.7,1012.7 L1441.7,1009.1 L1441.7,1005.6 L1441.7,1002 L1441.7,1002" fill="#2f4f4f" fill-opacity="0.1" stroke="#2f4f4f" stroke-opacity="0.85" stroke-width="1.3"/>
<path d="M1441.7,1259.4 L1441.7,1259.4 L1441.7,1255.8 L1441.8,1252.2 L1441.9,1248.7 L1442.2,1245.1 L1442.9,1241.5 L1444.2,1238 L1446.3,1234.4 L1449.4,1230.8 L1453.5,1227.2 L1458.2,1223.7 L1462.5,1220.1 L1465.6,1216.5 L1466.7,1212.9 L1465.4,1209.4 L1462.2,1205.8 L1457.8,1202.2 L1453.2,1198.6 L1449.2,1195.1 L1446.1,1191.5 L1444.1,1187.9 L1442.9,1184.3 L1442.2,1180.8 L1441.9,1177.2 L1441.8,1173.6 L1441.7,1170 L1441.7,1166.5 L1441.7,1162.9 L1441.7,1159.3 L1441.7,1155.7 L1441.7,1152.2 L1441.7,1148.6 L1441.7,1145 L1441.7,1141.4 L1441.7,1137.9 L1441.7,1134.3 L1441.7,1130.7 L1441.7,1127.1 L1441.7,1123.5 L1441.7,1120 L1441.7,1116.4 L1441.7,1112.8 L1441.7,1109.2 L1441.7,1105.7 L1441.7,1102.1 L1441.7,1098.5 L1441.7,1095 L1441.7,1091.4 L1441.7,1087.8 L1441.7,1084.2 L1441.7,1080.7 L1441.7,1077.1 L1441.7,1073.5 L1441.7,1069.9 L1441.7,1066.3 L1441.7,1062.8 L1441.7,1059.2 L1441.7,1055.6 L1441.7,1052 L1441.7,1048.5 L1441.7,1044.9 L1441.7,1041.3 L1441.7,1037.8 L1441.7,1034.2 L1441.7,1030.6 L1441.7,1027 L1441.7,1023.5 L1441.7,1019.9 L1441.7,1016.3 L1441.7,1012.7 L1441.7,1009.1 L1441.7,1005.6 L1441.7,1002 L1441.7,1002" fill="#2f4f4f" fill-opacity="0.1" stroke="#2f4f4f" stroke-opacity="0.85" stroke-width="1.3"/>
<path d="M1441.7,1259.4 L1441.8,1259.4 L1441.9,1255.8 L1442.1,1252.2 L1442.4,1248.7 L1442.9,1245.1 L1443.8,1241.5 L1445,1238 L1446.8,1234.4 L1449,1230.8 L1451.8,1227.2 L1454.8,1223.7 L1457.8,1220.1 L1460.6,1216.5 L1462.6,1212.9 L1463.6,1209.4 L1463.5,1205.8 L1462.2,1202.2 L1460.1,1198.6 L1457.2,1195.1 L1454.2,1191.5 L1451.2,1187.9 L1448.5,1184.3 L1446.4,1180.8 L1444.7,1177.2 L1443.6,1173.6 L1442.8,1170 L1442.3,1166.5 L1442,1162.9 L1441.9,1159.3 L1441.8,1155.7 L1441.7,1152.2 L1441.7,1148.6 L1441.7,1145 L1441.7,1141.4 L1441.7,1137.9 L1441.7,1134.3 L1441.7,1130.7 L1441.7,1127.1 L1441.7,1123.5 L1441.7,1120 L1441.7,1116.4 L1441.7,1112.8 L1441.7,1109.2 L1441.7,1105.7 L1441.7,1102.1 L1441.7,1098.5 L1441.7,1095 L1441.7,1091.4 L1441.7,1087.8 L1441.7,1084.2 L1441.7,1080.7 L1441.7,1077.1 L1441.7,1073.5 L1441.7,1069.9 L1441.7,1066.3 L1441.7,1062.8 L1441.7,1059.2 L1441.7,1055.6 L1441.7,1052 L1441.7,1048.5 L1441.7,1044.9 L1441.7,1041.3 L1441.7,1037.8 L1441.7,1034.2 L1441.7,1030.6 L1441.7,1027 L1441.7,1023.5 L1441.7,1019.9 L1441.7,1016.3 L1441.7,1012.7 L1441.7,1009.1 L1441.7,1005.6 L1441.7,1002 L1441.7,1002" fill="#2f4f4f" fill-opacity="0.1" stroke="#2f4f4f" stroke-opacity="0.85" stroke-width="1.3"/>
<path d="M1441.7,1259.4 L1442.2,1259.4 L1442.7,1255.8 L1443.6,1252.2 L1445.2,1248.7 L1447.5,1245.1 L1450.6,1241.5 L1454.3,1238 L1458.3,1234.4 L1462,1230.8 L1464.6,1227.2 L1465.7,1223.7 L1464.9,1220.1 L1462.5,1216.5 L1459,1212.9 L1455,1209.4 L1451.1,1205.8 L1447.9,1202.2 L1445.5,1198.6 L1443.8,1195.1 L1442.8,1191.5 L1442.2,1187.9 L1441.9,1184.3 L1441.8,1180.8 L1441.7,1177.2 L1441.7,1173.6 L1441.7,1170 L1441.7,1166.5 L1441.7,1162.9 L1441.7,1159.3 L1441.7,1155.7 L1441.7,1152.2 L1441.7,1148.6 L1441.7,1145 L1441.7,1141.4 L1441.7,1137.9 L1441.7,1134.3 L1441.7,1130.7 L1441.7,1127.1 L1441.7,1123.5 L1441.7,1120 L1441.7,1116.4 L1441.7,1112.8 L1441.7,1109.2 L1441.7,1105.7 L1441.7,1102.1 L1441.7,1098.5 L1441.7,1095 L1441.7,1091.4 L1441.7,1087.8 L1441.7,1084.2 L1441.7,1080.7 L1441.7,1077.1 L1441.7,1073.5 L1441.7,1069.9 L1441.7,1066.3 L1441.7,1062.8 L1441.7,1059.2 L1441.7,1055.6 L1441.7,1052 L1441.7,1048.5 L1441.7,1044.9 L1441.7,1041.3 L1441.7,1037.8 L1441.7,1034.2 L1441.7,1030.6 L1441.7,1027 L1441.7,1023.5 L1441.7,1019.9 L1441.7,1016.3 L1441.7,1012.7 L1441.7,1009.1 L1441.7,1005.6 L1441.7,1002 L1441.7,1002" fill="#2f4f4f" fill-opacity="0.1" stroke="#2f4f4f" stroke-opacity="0.85" stroke-width="1.3"/>
<path d="M1441.7,1259.4 L1441.7,1259.4 L1441.7,1255.8 L1441.7,1252.2 L1441.7,1248.7 L1441.7,1245.1 L1441.8,1241.5 L1441.8,1238 L1441.9,1234.4 L1442.1,1230.8 L1442.4,1227.2 L1442.8,1223.7 L1443.5,1220.1 L1444.3,1216.5 L1445.4,1212.9 L1446.8,1209.4 L1448.5,1205.8 L1450.3,1202.2 L1452.2,1198.6 L1454.1,1195.1 L1455.7,1191.5 L1456.9,1187.9 L1457.6,1184.3 L1457.6,1180.8 L1457.1,1177.2 L1456,1173.6 L1454.4,1170 L1452.6,1166.5 L1450.7,1162.9 L1448.8,1159.3 L1447.1,1155.7 L1445.7,1152.2 L1444.5,1148.6 L1443.6,1145 L1442.9,1141.4 L1442.5,1137.9 L1442.2,1134.3 L1442,1130.7 L1441.9,1127.1 L1441.8,1123.5 L1441.7,1120 L1441.7,1116.4 L1441.7,1112.8 L1441.7,1109.2 L1441.7,1105.7 L1441.7,1102.1 L1441.7,1098.5 L1441.7,1095 L1441.7,1091.4 L1441.7,1087.8 L1441.7,1084.2 L1441.7,1080.7 L1441.7,1077.1 L1441.7,1073.5 L1441.7,1069.9 L1441.7,1066.3 L1441.7,1062.8 L1441.7,1059.2 L1441.7,1055.6 L1441.7,1052 L1441.7,1048.5 L1441.7,1044.9 L1441.7,1041.3 L1441.7,1037.8 L1441.7,1034.2 L1441.7,1030.6 L1441.7,1027 L1441.7,1023.5 L1441.7,1019.9 L1441.7,1016.3 L1441.7,1012.7 L1441.7,1009.1 L1441.7,1005.6 L1441.7,1002 L1441.7,1002" fill="#2f4f4f" fill-opacity="0.1" stroke="#2f4f4f" stroke-opacity="0.85" stroke-width="1.3"/>
<g fill="#5b73ed" clip-path="url(#c6)">
<ellipse cx="1186" cy="1153.5" rx="13.8" ry="47.6" fill-opacity="0.100"/>
<ellipse cx="1184" cy="1151" rx="11" ry="33.6" fill-opacity="0.100"/>
<ellipse cx="1182.5" cy="1151" rx="8.5" ry="23.5" fill-opacity="0.136"/>
<ellipse cx="1182.3" cy="1151.5" rx="4.5" ry="15.3" fill-opacity="0.214"/>
</g>
<g fill="#56b4e9">
<ellipse cx="1323.7" cy="1078.4" rx="22.5" ry="25" fill-opacity="0.070"/>
<ellipse cx="1323.6" cy="1078.2" rx="17" ry="17" fill-opacity="0.065"/>
<ellipse cx="1323.5" cy="1078" rx="12" ry="12" fill-opacity="0.103"/>
<ellipse cx="1323.5" cy="1078" rx="7.9" ry="7" fill-opacity="0.179"/>
</g>
<g fill="#2f4f4f">
<ellipse cx="1273" cy="1202.6" rx="16.8" ry="14.9" fill-opacity="0.070"/>
<ellipse cx="1272.7" cy="1203" rx="12.7" ry="11.4" fill-opacity="0.086"/>
<ellipse cx="1272.5" cy="1203.3" rx="9.8" ry="7.6" fill-opacity="0.118"/>
<ellipse cx="1272.4" cy="1203.5" rx="6.3" ry="4.8" fill-opacity="0.227"/>
</g>
<g fill="#f58c1e" clip-path="url(#c6)">
<ellipse cx="1191.5" cy="1241" rx="12.7" ry="13.5" fill-opacity="0.100"/>
<ellipse cx="1190.5" cy="1243" rx="10" ry="10.5" fill-opacity="0.111"/>
<ellipse cx="1189.5" cy="1245" rx="7.5" ry="8" fill-opacity="0.188"/>
<ellipse cx="1189" cy="1246" rx="5" ry="5.5" fill-opacity="0.231"/>
</g>
<path d="M1727.9,996.2 L1727.9,996.2 L1731.6,996.2 L1735.3,996.2 L1739,996.2 L1742.6,996.2 L1746.3,996.2 L1750,996.2 L1753.7,996.2 L1757.4,996.2 L1761.1,996.2 L1764.7,996.2 L1768.4,996.2 L1772.1,996.2 L1775.8,996.2 L1779.5,996.2 L1783.2,996.2 L1786.9,996.2 L1790.5,996.2 L1794.2,996.2 L1797.9,996.2 L1801.6,996.2 L1805.3,996.2 L1809,996.2 L1812.6,996.2 L1816.3,996.2 L1820,996.2 L1823.7,996.2 L1827.4,996.1 L1831.1,996.1 L1834.8,995.9 L1838.4,995.7 L1842.1,995.3 L1845.8,994.7 L1849.5,993.8 L1853.2,992.5 L1856.9,990.8 L1860.6,988.7 L1864.2,986.4 L1867.9,984 L1871.6,981.8 L1875.3,980 L1879,978.9 L1882.7,978.4 L1886.3,978.7 L1890,979.4 L1893.7,980.3 L1897.4,981.1 L1901.1,981.5 L1904.8,981.6 L1908.5,981.2 L1912.1,980.7 L1915.8,980.2 L1919.5,980.1 L1923.2,980.4 L1926.9,981.3 L1930.6,982.6 L1934.2,984 L1937.9,985.3 L1941.6,986.2 L1945.3,986.6 L1949,986.4 L1952.7,985.6 L1956.4,984.5 L1960,983.1 L1963.7,981.9 L1967.4,981 L1971.1,980.6 L1974.8,980.6 L1978.5,981.1 L1982.1,981.9 L1985.8,983 L1989.5,984.1 L1993.2,985.2 L1993.2,996.2" fill="#5cb8e8" fill-opacity="0.1" stroke="#5cb8e8" stroke-opacity="0.85" stroke-width="1.3"/>
<path d="M1727.9,996.2 L1727.9,996.2 L1731.6,996.2 L1735.3,996.2 L1739,996.2 L1742.6,996.2 L1746.3,996.2 L1750,996.2 L1753.7,996.2 L1757.4,996.2 L1761.1,996.2 L1764.7,996.2 L1768.4,996.2 L1772.1,996.2 L1775.8,996.1 L1779.5,996.1 L1783.2,996.1 L1786.9,996 L1790.5,995.9 L1794.2,995.8 L1797.9,995.6 L1801.6,995.4 L1805.3,995.1 L1809,994.7 L1812.6,994.2 L1816.3,993.7 L1820,993.1 L1823.7,992.4 L1827.4,991.6 L1831.1,990.8 L1834.8,990 L1838.4,989.1 L1842.1,988.3 L1845.8,987.6 L1849.5,987 L1853.2,986.6 L1856.9,986.3 L1860.6,986.1 L1864.2,986.2 L1867.9,986.4 L1871.6,986.7 L1875.3,987.1 L1879,987.4 L1882.7,987.5 L1886.3,987.4 L1890,986.8 L1893.7,985.8 L1897.4,984.2 L1901.1,982.3 L1904.8,980.1 L1908.5,977.9 L1912.1,976.1 L1915.8,974.9 L1919.5,974.6 L1923.2,975.1 L1926.9,976.5 L1930.6,978.5 L1934.2,980.7 L1937.9,982.9 L1941.6,984.9 L1945.3,986.5 L1949,987.6 L1952.7,988.2 L1956.4,988.5 L1960,988.4 L1963.7,988.2 L1967.4,987.9 L1971.1,987.5 L1974.8,987.2 L1978.5,986.8 L1982.1,986.6 L1985.8,986.4 L1989.5,986.2 L1993.2,986.2 L1993.2,996.2" fill="#5cb8e8" fill-opacity="0.1" stroke="#5cb8e8" stroke-opacity="0.85" stroke-width="1.3"/>
<path d="M1727.9,996.2 L1727.9,996.2 L1731.6,996.2 L1735.3,996.2 L1739,996.2 L1742.6,996.2 L1746.3,996.2 L1750,996.2 L1753.7,996.2 L1757.4,996.2 L1761.1,996.1 L1764.7,996.1 L1768.4,996.1 L1772.1,996 L1775.8,996 L1779.5,995.9 L1783.2,995.9 L1786.9,995.8 L1790.5,995.7 L1794.2,995.5 L1797.9,995.4 L1801.6,995.2 L1805.3,995 L1809,994.7 L1812.6,994.5 L1816.3,994.1 L1820,993.8 L1823.7,993.4 L1827.4,993 L1831.1,992.5 L1834.8,992 L1838.4,991.5 L1842.1,990.9 L1845.8,990.4 L1849.5,989.8 L1853.2,989.2 L1856.9,988.7 L1860.6,988.2 L1864.2,987.7 L1867.9,987.3 L1871.6,986.9 L1875.3,986.6 L1879,986.3 L1882.7,986.1 L1886.3,986 L1890,986 L1893.7,986 L1897.4,986.1 L1901.1,986.2 L1904.8,986.4 L1908.5,986.6 L1912.1,986.8 L1915.8,986.9 L1919.5,987 L1923.2,987.1 L1926.9,987.1 L1930.6,987.1 L1934.2,987 L1937.9,986.8 L1941.6,986.5 L1945.3,986.1 L1949,985.7 L1952.7,985.3 L1956.4,984.9 L1960,984.5 L1963.7,984.1 L1967.4,983.8 L1971.1,983.6 L1974.8,983.5 L1978.5,983.5 L1982.1,983.7 L1985.8,983.9 L1989.5,984.4 L1993.2,984.9 L1993.2,996.2" fill="#5cb8e8" fill-opacity="0.1" stroke="#5cb8e8" stroke-opacity="0.85" stroke-width="1.3"/>
<path d="M1727.9,996.2 L1727.9,996.2 L1731.6,996.2 L1735.3,996.2 L1739,996.2 L1742.6,996.2 L1746.3,996.2 L1750,996.2 L1753.7,996.2 L1757.4,996.2 L1761.1,996.2 L1764.7,996.1 L1768.4,996.1 L1772.1,996.1 L1775.8,996 L1779.5,995.9 L1783.2,995.8 L1786.9,995.6 L1790.5,995.4 L1794.2,995.1 L1797.9,994.8 L1801.6,994.4 L1805.3,993.9 L1809,993.3 L1812.6,992.7 L1816.3,992.1 L1820,991.4 L1823.7,990.7 L1827.4,990 L1831.1,989.4 L1834.8,988.8 L1838.4,988.3 L1842.1,987.9 L1845.8,987.7 L1849.5,987.6 L1853.2,987.6 L1856.9,987.7 L1860.6,987.9 L1864.2,988.2 L1867.9,988.6 L1871.6,988.9 L1875.3,989.2 L1879,989.5 L1882.7,989.7 L1886.3,989.9 L1890,989.9 L1893.7,989.9 L1897.4,989.8 L1901.1,989.6 L1904.8,989.4 L1908.5,989.1 L1912.1,988.8 L1915.8,988.4 L1919.5,988.1 L1923.2,987.8 L1926.9,987.6 L1930.6,987.4 L1934.2,987.3 L1937.9,987.2 L1941.6,987.2 L1945.3,987.3 L1949,987.4 L1952.7,987.6 L1956.4,987.9 L1960,988.3 L1963.7,988.6 L1967.4,989.1 L1971.1,989.5 L1974.8,990 L1978.5,990.5 L1982.1,991 L1985.8,991.5 L1989.5,992 L1993.2,992.5 L1993.2,996.2" fill="#5cb8e8" fill-opacity="0.1" stroke="#5cb8e8" stroke-opacity="0.85" stroke-width="1.3"/>
<path d="M1727.9,996.2 L1727.9,986.6 L1731.6,986.6 L1735.3,986.6 L1739,986.6 L1742.6,986.7 L1746.3,986.7 L1750,986.7 L1753.7,986.8 L1757.4,986.8 L1761.1,986.9 L1764.7,987 L1768.4,987 L1772.1,987.1 L1775.8,987.2 L1779.5,987.3 L1783.2,987.4 L1786.9,987.5 L1790.5,987.6 L1794.2,987.7 L1797.9,987.8 L1801.6,988 L1805.3,988.1 L1809,988.2 L1812.6,988.4 L1816.3,988.5 L1820,988.7 L1823.7,988.8 L1827.4,989 L1831.1,989.1 L1834.8,989.3 L1838.4,989.4 L1842.1,989.6 L1845.8,989.7 L1849.5,989.9 L1853.2,990.1 L1856.9,990.2 L1860.6,990.4 L1864.2,990.5 L1867.9,990.7 L1871.6,990.9 L1875.3,991 L1879,991.2 L1882.7,991.3 L1886.3,991.5 L1890,991.7 L1893.7,991.8 L1897.4,992 L1901.1,992.1 L1904.8,992.3 L1908.5,992.4 L1912.1,992.5 L1915.8,992.7 L1919.5,992.8 L1923.2,993 L1926.9,993.1 L1930.6,993.2 L1934.2,993.3 L1937.9,993.5 L1941.6,993.6 L1945.3,993.7 L1949,993.8 L1952.7,993.9 L1956.4,994 L1960,994.1 L1963.7,994.2 L1967.4,994.3 L1971.1,994.4 L1974.8,994.5 L1978.5,994.6 L1982.1,994.7 L1985.8,994.8 L1989.5,994.8 L1993.2,994.9 L1993.2,996.2" fill="#5cb8e8" fill-opacity="0.06" stroke="#5cb8e8" stroke-opacity="0.4" stroke-width="1.3"/>
<path d="M1727.9,996.2 L1727.9,996.2 L1731.6,996.1 L1735.3,996.1 L1739,996 L1742.6,996 L1746.3,995.8 L1750,995.7 L1753.7,995.5 L1757.4,995.2 L1761.1,994.8 L1764.7,994.3 L1768.4,993.8 L1772.1,993.1 L1775.8,992.3 L1779.5,991.3 L1783.2,990.3 L1786.9,989.2 L1790.5,988 L1794.2,986.9 L1797.9,985.7 L1801.6,984.7 L1805.3,983.7 L1809,983 L1812.6,982.5 L1816.3,982.2 L1820,982.2 L1823.7,982.5 L1827.4,983 L1831.1,983.8 L1834.8,984.7 L1838.4,985.8 L1842.1,986.9 L1845.8,988.1 L1849.5,989.2 L1853.2,990.4 L1856.9,991.4 L1860.6,992.3 L1864.2,993.1 L1867.9,993.8 L1871.6,994.4 L1875.3,994.8 L1879,995.2 L1882.7,995.5 L1886.3,995.7 L1890,995.8 L1893.7,996 L1897.4,996 L1901.1,996.1 L1904.8,996.1 L1908.5,996.2 L1912.1,996.2 L1915.8,996.2 L1919.5,996.2 L1923.2,996.2 L1926.9,996.2 L1930.6,996.2 L1934.2,996.2 L1937.9,996.2 L1941.6,996.2 L1945.3,996.2 L1949,996.2 L1952.7,996.2 L1956.4,996.2 L1960,996.2 L1963.7,996.2 L1967.4,996.2 L1971.1,996.2 L1974.8,996.2 L1978.5,996.2 L1982.1,996.2 L1985.8,996.2 L1989.5,996.2 L1993.2,996.2 L1993.2,996.2" fill="#5b6ee1" fill-opacity="0.3" stroke="#5b6ee1" stroke-opacity="0.85" stroke-width="1.3"/>
<path d="M1727.9,996.2 L1727.9,996.2 L1731.6,996.2 L1735.3,996.2 L1739,996.2 L1742.6,996.2 L1746.3,996.2 L1750,996.2 L1753.7,996.2 L1757.4,996.2 L1761.1,996.2 L1764.7,996.2 L1768.4,996.2 L1772.1,996.2 L1775.8,996.2 L1779.5,996.2 L1783.2,996.2 L1786.9,996.2 L1790.5,996.2 L1794.2,996.2 L1797.9,996.2 L1801.6,996.2 L1805.3,996.2 L1809,996.2 L1812.6,996.2 L1816.3,996.1 L1820,996.1 L1823.7,996.1 L1827.4,996.1 L1831.1,996 L1834.8,996 L1838.4,995.9 L1842.1,995.9 L1845.8,995.8 L1849.5,995.7 L1853.2,995.6 L1856.9,995.4 L1860.6,995.3 L1864.2,995.1 L1867.9,994.9 L1871.6,994.6 L1875.3,994.3 L1879,994.1 L1882.7,993.7 L1886.3,993.4 L1890,993 L1893.7,992.7 L1897.4,992.3 L1901.1,991.9 L1904.8,991.5 L1908.5,991.1 L1912.1,990.7 L1915.8,990.3 L1919.5,990 L1923.2,989.7 L1926.9,989.4 L1930.6,989.1 L1934.2,988.9 L1937.9,988.6 L1941.6,988.4 L1945.3,988.3 L1949,988.1 L1952.7,988 L1956.4,987.9 L1960,987.7 L1963.7,987.6 L1967.4,987.5 L1971.1,987.5 L1974.8,987.5 L1978.5,987.5 L1982.1,987.6 L1985.8,987.8 L1989.5,988 L1993.2,988.3 L1993.2,996.2" fill="#5b6ee1" fill-opacity="0.12" stroke="#5b6ee1" stroke-opacity="0.85" stroke-width="1.3"/>
<path d="M1727.9,996.2 L1727.9,996.2 L1731.6,996.2 L1735.3,996.2 L1739,996.1 L1742.6,996.1 L1746.3,996.1 L1750,996.1 L1753.7,996 L1757.4,996 L1761.1,995.9 L1764.7,995.9 L1768.4,995.8 L1772.1,995.7 L1775.8,995.6 L1779.5,995.4 L1783.2,995.3 L1786.9,995.1 L1790.5,994.9 L1794.2,994.7 L1797.9,994.5 L1801.6,994.2 L1805.3,993.9 L1809,993.6 L1812.6,993.3 L1816.3,993 L1820,992.6 L1823.7,992.3 L1827.4,992 L1831.1,991.6 L1834.8,991.3 L1838.4,991.1 L1842.1,990.8 L1845.8,990.6 L1849.5,990.4 L1853.2,990.3 L1856.9,990.2 L1860.6,990.2 L1864.2,990.2 L1867.9,990.3 L1871.6,990.4 L1875.3,990.6 L1879,990.8 L1882.7,991 L1886.3,991.3 L1890,991.6 L1893.7,991.9 L1897.4,992.2 L1901.1,992.4 L1904.8,992.7 L1908.5,992.9 L1912.1,993.1 L1915.8,993.3 L1919.5,993.4 L1923.2,993.4 L1926.9,993.4 L1930.6,993.3 L1934.2,993.2 L1937.9,993.1 L1941.6,992.9 L1945.3,992.7 L1949,992.5 L1952.7,992.3 L1956.4,992.2 L1960,992.1 L1963.7,992 L1967.4,992 L1971.1,992.1 L1974.8,992.3 L1978.5,992.5 L1982.1,992.8 L1985.8,993.1 L1989.5,993.4 L1993.2,993.8 L1993.2,996.2" fill="#5b6ee1" fill-opacity="0.12" stroke="#5b6ee1" stroke-opacity="0.85" stroke-width="1.3"/>
<path d="M1727.9,996.2 L1727.9,995.5 L1728.2,995.4 L1731.3,994 L1731.6,993.8 L1734.5,990.8 L1735.3,989.7 L1737.7,985.1 L1739,982.1 L1740.9,976.7 L1742.6,971.5 L1744.1,967.2 L1746.3,961.2 L1747.3,959.3 L1750,956.3 L1750.5,956.2 L1753.6,959.3 L1753.7,959.4 L1756.8,967.2 L1757.4,968.8 L1760,976.7 L1761.1,979.8 L1763.2,985.1 L1764.7,988.2 L1766.4,990.8 L1768.4,993.1 L1769.6,994 L1772.1,995.2 L1772.7,995.4 L1775.8,995.9 L1775.9,996 L1779.5,996.1 L1783.2,996.2 L1786.9,996.2 L1790.5,996.2 L1794.2,996.2 L1797.9,996.2 L1801.6,996.2 L1805.3,996.2 L1809,996.2 L1812.6,996.2 L1816.3,996.2 L1820,996.2 L1823.7,996.2 L1827.4,996.2 L1831.1,996.2 L1834.8,996.2 L1838.4,996.2 L1842.1,996.2 L1845.8,996.2 L1849.5,996.2 L1853.2,996.2 L1856.9,996.2 L1860.6,996.2 L1864.2,996.2 L1867.9,996.2 L1871.6,996.2 L1875.3,996.2 L1879,996.2 L1882.7,996.2 L1886.3,996.2 L1890,996.2 L1893.7,996.2 L1897.4,996.2 L1901.1,996.2 L1904.8,996.2 L1908.5,996.2 L1912.1,996.2 L1915.8,996.2 L1919.5,996.2 L1923.2,996.2 L1926.9,996.2 L1930.6,996.2 L1934.2,996.2 L1937.9,996.2 L1941.6,996.2 L1945.3,996.2 L1949,996.2 L1952.7,996.2 L1956.4,996.2 L1960,996.2 L1963.7,996.2 L1967.4,996.2 L1971.1,996.2 L1974.8,996.2 L1978.5,996.2 L1982.1,996.2 L1985.8,996.2 L1989.5,996.2 L1993.2,996.2 L1993.2,996.2" fill="#2f4f4f" fill-opacity="0.1" stroke="#2f4f4f" stroke-opacity="0.85" stroke-width="1.3"/>
<path d="M1727.9,996.2 L1727.9,996.2 L1731.6,996.1 L1735.3,996 L1739,995.8 L1742.6,995.3 L1746.3,994.4 L1750,992.9 L1753.7,990.7 L1757.4,987.7 L1761.1,984 L1764.7,979.9 L1768.4,976.2 L1772.1,973.4 L1775.8,972.2 L1779.5,972.8 L1783.2,975.1 L1786.9,978.6 L1790.5,982.5 L1794.2,986.4 L1797.9,989.7 L1801.6,992.2 L1805.3,993.9 L1809,995 L1812.6,995.6 L1816.3,995.9 L1820,996.1 L1823.7,996.2 L1827.4,996.2 L1831.1,996.2 L1834.8,996.2 L1838.4,996.2 L1842.1,996.2 L1845.8,996.2 L1849.5,996.2 L1853.2,996.2 L1856.9,996.2 L1860.6,996.2 L1864.2,996.2 L1867.9,996.2 L1871.6,996.2 L1875.3,996.2 L1879,996.2 L1882.7,996.2 L1886.3,996.2 L1890,996.2 L1893.7,996.2 L1897.4,996.2 L1901.1,996.2 L1904.8,996.2 L1908.5,996.2 L1912.1,996.2 L1915.8,996.2 L1919.5,996.2 L1923.2,996.2 L1926.9,996.2 L1930.6,996.2 L1934.2,996.2 L1937.9,996.2 L1941.6,996.2 L1945.3,996.2 L1949,996.2 L1952.7,996.2 L1956.4,996.2 L1960,996.2 L1963.7,996.2 L1967.4,996.2 L1971.1,996.2 L1974.8,996.2 L1978.5,996.2 L1982.1,996.2 L1985.8,996.2 L1989.5,996.2 L1993.2,996.2 L1993.2,996.2" fill="#2f4f4f" fill-opacity="0.1" stroke="#2f4f4f" stroke-opacity="0.85" stroke-width="1.3"/>
<path d="M1727.9,996.2 L1727.9,996.2 L1731.6,996.1 L1735.3,996 L1739,995.7 L1742.6,995.3 L1746.3,994.4 L1750,993 L1753.7,990.9 L1757.4,988.1 L1761.1,984.7 L1764.7,981.2 L1768.4,978.1 L1772.1,975.9 L1775.8,975.2 L1779.5,976.1 L1783.2,978.3 L1786.9,981.5 L1790.5,985 L1794.2,988.3 L1797.9,991.1 L1801.6,993.1 L1805.3,994.5 L1809,995.3 L1812.6,995.8 L1816.3,996 L1820,996.1 L1823.7,996.2 L1827.4,996.2 L1831.1,996.2 L1834.8,996.2 L1838.4,996.2 L1842.1,996.2 L1845.8,996.2 L1849.5,996.2 L1853.2,996.2 L1856.9,996.2 L1860.6,996.2 L1864.2,996.2 L1867.9,996.2 L1871.6,996.2 L1875.3,996.2 L1879,996.2 L1882.7,996.2 L1886.3,996.2 L1890,996.2 L1893.7,996.2 L1897.4,996.2 L1901.1,996.2 L1904.8,996.2 L1908.5,996.2 L1912.1,996.2 L1915.8,996.2 L1919.5,996.2 L1923.2,996.2 L1926.9,996.2 L1930.6,996.2 L1934.2,996.2 L1937.9,996.2 L1941.6,996.2 L1945.3,996.2 L1949,996.2 L1952.7,996.2 L1956.4,996.2 L1960,996.2 L1963.7,996.2 L1967.4,996.2 L1971.1,996.2 L1974.8,996.2 L1978.5,996.2 L1982.1,996.2 L1985.8,996.2 L1989.5,996.2 L1993.2,996.2 L1993.2,996.2" fill="#2f4f4f" fill-opacity="0.1" stroke="#2f4f4f" stroke-opacity="0.85" stroke-width="1.3"/>
<path d="M1727.9,996.2 L1727.9,996.2 L1731.6,996.1 L1735.3,995.9 L1739,995.6 L1742.6,995 L1746.3,994.1 L1750,992.6 L1753.7,990.7 L1757.4,988.2 L1761.1,985.5 L1764.7,983 L1768.4,981.1 L1772.1,980.2 L1775.8,980.6 L1779.5,982 L1783.2,984.3 L1786.9,986.9 L1790.5,989.5 L1794.2,991.8 L1797.9,993.5 L1801.6,994.6 L1805.3,995.4 L1809,995.8 L1812.6,996 L1816.3,996.1 L1820,996.2 L1823.7,996.2 L1827.4,996.2 L1831.1,996.2 L1834.8,996.2 L1838.4,996.2 L1842.1,996.2 L1845.8,996.2 L1849.5,996.2 L1853.2,996.2 L1856.9,996.2 L1860.6,996.2 L1864.2,996.2 L1867.9,996.2 L1871.6,996.2 L1875.3,996.2 L1879,996.2 L1882.7,996.2 L1886.3,996.2 L1890,996.2 L1893.7,996.2 L1897.4,996.2 L1901.1,996.2 L1904.8,996.2 L1908.5,996.2 L1912.1,996.2 L1915.8,996.2 L1919.5,996.2 L1923.2,996.2 L1926.9,996.2 L1930.6,996.2 L1934.2,996.2 L1937.9,996.2 L1941.6,996.2 L1945.3,996.2 L1949,996.2 L1952.7,996.2 L1956.4,996.2 L1960,996.2 L1963.7,996.2 L1967.4,996.2 L1971.1,996.2 L1974.8,996.2 L1978.5,996.2 L1982.1,996.2 L1985.8,996.2 L1989.5,996.2 L1993.2,996.2 L1993.2,996.2" fill="#2f4f4f" fill-opacity="0.1" stroke="#2f4f4f" stroke-opacity="0.85" stroke-width="1.3"/>
<path d="M1727.9,996.2 L1727.9,996.2 L1731.6,996.2 L1735.3,996.2 L1739,996.2 L1742.6,996.2 L1746.3,996.2 L1750,996.2 L1753.7,996.1 L1757.4,996.1 L1761.1,995.9 L1764.7,995.6 L1768.4,995.2 L1772.1,994.5 L1775.8,993.4 L1779.5,991.8 L1783.2,989.8 L1786.9,987.4 L1790.5,984.6 L1794.2,981.7 L1797.9,979.1 L1801.6,977.1 L1805.3,975.9 L1809,975.8 L1812.6,976.7 L1816.3,978.6 L1820,981.2 L1823.7,984 L1827.4,986.8 L1831.1,989.4 L1834.8,991.5 L1838.4,993.1 L1842.1,994.3 L1845.8,995.1 L1849.5,995.6 L1853.2,995.9 L1856.9,996 L1860.6,996.1 L1864.2,996.2 L1867.9,996.2 L1871.6,996.2 L1875.3,996.2 L1879,996.2 L1882.7,996.2 L1886.3,996.2 L1890,996.2 L1893.7,996.2 L1897.4,996.2 L1901.1,996.2 L1904.8,996.2 L1908.5,996.2 L1912.1,996.2 L1915.8,996.2 L1919.5,996.2 L1923.2,996.2 L1926.9,996.2 L1930.6,996.2 L1934.2,996.2 L1937.9,996.2 L1941.6,996.2 L1945.3,996.2 L1949,996.2 L1952.7,996.2 L1956.4,996.2 L1960,996.2 L1963.7,996.2 L1967.4,996.2 L1971.1,996.2 L1974.8,996.2 L1978.5,996.2 L1982.1,996.2 L1985.8,996.2 L1989.5,996.2 L1993.2,996.2 L1993.2,996.2" fill="#2f4f4f" fill-opacity="0.1" stroke="#2f4f4f" stroke-opacity="0.85" stroke-width="1.3"/>
<path d="M1727.9,996.2 L1727.9,996.2 L1731.6,996.2 L1735.3,996.2 L1739,996.2 L1742.6,996.2 L1746.3,996.2 L1750,996.2 L1753.7,996.2 L1757.4,996.2 L1761.1,996.2 L1764.7,996.1 L1768.4,996 L1772.1,995.9 L1775.8,995.7 L1779.5,995.3 L1783.2,994.8 L1786.9,994.1 L1790.5,993.1 L1794.2,991.8 L1797.9,990.2 L1801.6,988.4 L1805.3,986.4 L1809,984.3 L1812.6,982.4 L1816.3,980.9 L1820,979.7 L1823.7,979.2 L1827.4,979.4 L1831.1,980.2 L1834.8,981.5 L1838.4,983.3 L1842.1,985.2 L1845.8,987.3 L1849.5,989.2 L1853.2,990.9 L1856.9,992.4 L1860.6,993.6 L1864.2,994.4 L1867.9,995.1 L1871.6,995.5 L1875.3,995.8 L1879,996 L1882.7,996.1 L1886.3,996.1 L1890,996.2 L1893.7,996.2 L1897.4,996.2 L1901.1,996.2 L1904.8,996.2 L1908.5,996.2 L1912.1,996.2 L1915.8,996.2 L1919.5,996.2 L1923.2,996.2 L1926.9,996.2 L1930.6,996.2 L1934.2,996.2 L1937.9,996.2 L1941.6,996.2 L1945.3,996.2 L1949,996.2 L1952.7,996.2 L1956.4,996.2 L1960,996.2 L1963.7,996.2 L1967.4,996.2 L1971.1,996.2 L1974.8,996.2 L1978.5,996.2 L1982.1,996.2 L1985.8,996.2 L1989.5,996.2 L1993.2,996.2 L1993.2,996.2" fill="#2f4f4f" fill-opacity="0.1" stroke="#2f4f4f" stroke-opacity="0.85" stroke-width="1.3"/>
<path d="M1727.9,996.2 L1727.9,987.6 L1729.5,983.1 L1731.6,975.6 L1732.1,973.3 L1734.8,962.1 L1735.3,960.2 L1737.5,952.8 L1739,949.9 L1740.1,949.2 L1742.6,952.5 L1742.8,952.8 L1745.4,962.1 L1746.3,965.9 L1748.1,973.3 L1750,980.8 L1750.7,983.1 L1753.4,989.8 L1753.7,990.4 L1756,993.6 L1757.4,994.6 L1758.7,995.3 L1761.1,995.9 L1761.3,995.9 L1764.7,996.2 L1768.4,996.2 L1772.1,996.2 L1775.8,996.2 L1779.5,996.2 L1783.2,996.2 L1786.9,996.2 L1790.5,996.2 L1794.2,996.2 L1797.9,996.2 L1801.6,996.2 L1805.3,996.2 L1809,996.2 L1812.6,996.2 L1816.3,996.2 L1820,996.2 L1823.7,996.2 L1827.4,996.2 L1831.1,996.2 L1834.8,996.2 L1838.4,996.2 L1842.1,996.2 L1845.8,996.2 L1849.5,996.2 L1853.2,996.2 L1856.9,996.2 L1860.6,996.2 L1864.2,996.2 L1867.9,996.2 L1871.6,996.2 L1875.3,996.2 L1879,996.2 L1882.7,996.2 L1886.3,996.2 L1890,996.2 L1893.7,996.2 L1897.4,996.2 L1901.1,996.2 L1904.8,996.2 L1908.5,996.2 L1912.1,996.2 L1915.8,996.2 L1919.5,996.2 L1923.2,996.2 L1926.9,996.2 L1930.6,996.2 L1934.2,996.2 L1937.9,996.2 L1941.6,996.2 L1945.3,996.2 L1949,996.2 L1952.7,996.2 L1956.4,996.2 L1960,996.2 L1963.7,996.2 L1967.4,996.2 L1971.1,996.2 L1974.8,996.2 L1978.5,996.2 L1982.1,996.2 L1985.8,996.2 L1989.5,996.2 L1993.2,996.2 L1993.2,996.2" fill="#ee9530" fill-opacity="0.16" stroke="#ee9530" stroke-opacity="0.85" stroke-width="1.3"/>
<path d="M1727.9,996.2 L1727.9,987 L1731.6,983.1 L1735.3,979 L1739,975.2 L1742.6,972.6 L1746.3,971.6 L1750,972.5 L1753.7,975 L1757.4,978.7 L1761.1,982.8 L1764.7,986.7 L1768.4,990 L1772.1,992.4 L1775.8,994.1 L1779.5,995.1 L1783.2,995.7 L1786.9,996 L1790.5,996.1 L1794.2,996.2 L1797.9,996.2 L1801.6,996.2 L1805.3,996.2 L1809,996.2 L1812.6,996.2 L1816.3,996.2 L1820,996.2 L1823.7,996.2 L1827.4,996.2 L1831.1,996.2 L1834.8,996.2 L1838.4,996.2 L1842.1,996.2 L1845.8,996.2 L1849.5,996.2 L1853.2,996.2 L1856.9,996.2 L1860.6,996.2 L1864.2,996.2 L1867.9,996.2 L1871.6,996.2 L1875.3,996.2 L1879,996.2 L1882.7,996.2 L1886.3,996.2 L1890,996.2 L1893.7,996.2 L1897.4,996.2 L1901.1,996.2 L1904.8,996.2 L1908.5,996.2 L1912.1,996.2 L1915.8,996.2 L1919.5,996.2 L1923.2,996.2 L1926.9,996.2 L1930.6,996.2 L1934.2,996.2 L1937.9,996.2 L1941.6,996.2 L1945.3,996.2 L1949,996.2 L1952.7,996.2 L1956.4,996.2 L1960,996.2 L1963.7,996.2 L1967.4,996.2 L1971.1,996.2 L1974.8,996.2 L1978.5,996.2 L1982.1,996.2 L1985.8,996.2 L1989.5,996.2 L1993.2,996.2 L1993.2,996.2" fill="#ee9530" fill-opacity="0.16" stroke="#ee9530" stroke-opacity="0.85" stroke-width="1.3"/>
<path d="M1996.6,1259.4 L1996.6,1259.4 L1996.6,1255.8 L1996.6,1252.2 L1996.6,1248.7 L1996.6,1245.1 L1996.6,1241.5 L1996.7,1238 L1996.8,1234.4 L1997.2,1230.8 L1997.9,1227.2 L1999.2,1223.7 L2001.3,1220.1 L2004.3,1216.5 L2008,1212.9 L2012.1,1209.4 L2015.8,1205.8 L2018.1,1202.2 L2018.5,1198.6 L2016.9,1195.1 L2013.7,1191.5 L2009.7,1187.9 L2005.7,1184.3 L2002.4,1180.8 L1999.9,1177.2 L1998.3,1173.6 L1997.4,1170 L1997,1166.5 L1996.8,1162.9 L1996.7,1159.3 L1996.7,1155.7 L1996.7,1152.2 L1996.8,1148.6 L1996.9,1145 L1997.1,1141.4 L1997.5,1137.9 L1997.9,1134.3 L1998.6,1130.7 L1999.4,1127.1 L2000.4,1123.5 L2001.6,1120 L2002.9,1116.4 L2004.2,1112.8 L2005.4,1109.2 L2006.5,1105.7 L2007.3,1102.1 L2007.7,1098.5 L2007.7,1095 L2007.3,1091.4 L2006.5,1087.8 L2005.5,1084.2 L2004.4,1080.7 L2003.3,1077.1 L2002.2,1073.5 L2001.4,1069.9 L2000.8,1066.3 L2000.3,1062.8 L2000.2,1059.2 L2000.1,1055.6 L2000.3,1052 L2000.5,1048.5 L2000.8,1044.9 L2001,1041.3 L2001.3,1037.8 L2001.5,1034.2 L2001.6,1030.6 L2001.6,1027 L2001.5,1023.5 L2001.4,1019.9 L2001.1,1016.3 L2000.8,1012.7 L2000.5,1009.1 L2000.1,1005.6 L1999.6,1002 L1996.6,1002" fill="#ee9530" fill-opacity="0.08" stroke="#ee9530" stroke-opacity="0.85" stroke-width="1.3"/>
<path d="M1996.6,1259.4 L1996.6,1259.4 L1996.6,1255.8 L1996.6,1252.2 L1996.6,1248.7 L1996.6,1245.1 L1996.6,1241.5 L1996.6,1238 L1996.6,1234.4 L1996.6,1230.8 L1996.6,1227.2 L1996.6,1223.7 L1996.6,1220.1 L1996.6,1216.5 L1996.6,1212.9 L1996.6,1209.4 L1996.6,1205.8 L1996.6,1202.2 L1996.6,1198.6 L1996.6,1195.1 L1996.6,1191.5 L1996.6,1187.9 L1996.6,1184.3 L1996.6,1180.8 L1996.6,1177.2 L1996.6,1173.6 L1996.6,1170 L1996.6,1166.5 L1996.6,1162.9 L1996.6,1159.3 L1996.6,1155.7 L1996.6,1152.2 L1996.6,1148.6 L1996.6,1145 L1996.6,1141.4 L1996.6,1137.9 L1996.6,1134.3 L1996.7,1130.7 L1996.7,1127.1 L1996.8,1123.5 L1996.9,1120 L1997.1,1116.4 L1997.3,1112.8 L1997.6,1109.2 L1998,1105.7 L1998.6,1102.1 L1999.2,1098.5 L2000,1095 L2001,1091.4 L2002,1087.8 L2003.2,1084.2 L2004.3,1080.7 L2005.5,1077.1 L2006.7,1073.5 L2007.8,1069.9 L2008.8,1066.3 L2009.8,1062.8 L2010.8,1059.2 L2011.8,1055.6 L2012.8,1052 L2014,1048.5 L2015.4,1044.9 L2016.9,1041.3 L2018.6,1037.8 L2020.5,1034.2 L2022.5,1030.6 L2024.5,1027 L2026.6,1023.5 L2028.5,1019.9 L2030.3,1016.3 L2031.7,1012.7 L2032.8,1009.1 L2033.5,1005.6 L2033.7,1002 L1996.6,1002" fill="#5cb8e8" fill-opacity="0.14" stroke="#5cb8e8" stroke-opacity="0.85" stroke-width="1.3"/>
<path d="M1996.6,1259.4 L1996.6,1259.4 L1996.6,1255.8 L1996.6,1252.2 L1996.6,1248.7 L1996.6,1245.1 L1996.6,1241.5 L1996.6,1238 L1996.6,1234.4 L1996.6,1230.8 L1996.6,1227.2 L1996.6,1223.7 L1996.6,1220.1 L1996.6,1216.5 L1996.6,1212.9 L1996.6,1209.4 L1996.6,1205.8 L1996.6,1202.2 L1996.6,1198.6 L1996.6,1195.1 L1996.6,1191.5 L1996.6,1187.9 L1996.6,1184.3 L1996.6,1180.8 L1996.6,1177.2 L1996.6,1173.6 L1996.6,1170 L1996.6,1166.5 L1996.6,1162.9 L1996.7,1159.3 L1996.7,1155.7 L1996.7,1152.2 L1996.8,1148.6 L1996.9,1145 L1997,1141.4 L1997.1,1137.9 L1997.3,1134.3 L1997.5,1130.7 L1997.8,1127.1 L1998.2,1123.5 L1998.6,1120 L1999.1,1116.4 L1999.6,1112.8 L2000.2,1109.2 L2000.9,1105.7 L2001.6,1102.1 L2002.4,1098.5 L2003.1,1095 L2003.9,1091.4 L2004.6,1087.8 L2005.4,1084.2 L2006.1,1080.7 L2006.8,1077.1 L2007.5,1073.5 L2008.2,1069.9 L2008.9,1066.3 L2009.6,1062.8 L2010.4,1059.2 L2011.2,1055.6 L2012.1,1052 L2013.1,1048.5 L2014.2,1044.9 L2015.3,1041.3 L2016.5,1037.8 L2017.7,1034.2 L2018.9,1030.6 L2020.1,1027 L2021.2,1023.5 L2022.2,1019.9 L2023,1016.3 L2023.8,1012.7 L2024.3,1009.1 L2024.6,1005.6 L2024.7,1002 L1996.6,1002" fill="#5cb8e8" fill-opacity="0.14" stroke="#5cb8e8" stroke-opacity="0.85" stroke-width="1.3"/>
<path d="M1996.6,1259.4 L1996.6,1259.4 L1996.6,1255.8 L1996.6,1252.2 L1996.6,1248.7 L1996.6,1245.1 L1996.6,1241.5 L1996.6,1238 L1996.6,1234.4 L1996.6,1230.8 L1996.6,1227.2 L1996.6,1223.7 L1996.6,1220.1 L1996.6,1216.5 L1996.6,1212.9 L1996.6,1209.4 L1996.6,1205.8 L1996.6,1202.2 L1996.6,1198.6 L1996.6,1195.1 L1996.6,1191.5 L1996.6,1187.9 L1996.6,1184.3 L1996.6,1180.8 L1996.6,1177.2 L1996.6,1173.6 L1996.6,1170 L1996.6,1166.5 L1996.7,1162.9 L1996.7,1159.3 L1996.7,1155.7 L1996.7,1152.2 L1996.7,1148.6 L1996.8,1145 L1996.8,1141.4 L1996.9,1137.9 L1997,1134.3 L1997.1,1130.7 L1997.2,1127.1 L1997.3,1123.5 L1997.5,1120 L1997.6,1116.4 L1997.9,1112.8 L1998.1,1109.2 L1998.4,1105.7 L1998.7,1102.1 L1999.1,1098.5 L1999.5,1095 L2000,1091.4 L2000.6,1087.8 L2001.2,1084.2 L2001.8,1080.7 L2002.5,1077.1 L2003.3,1073.5 L2004.1,1069.9 L2005,1066.3 L2005.9,1062.8 L2006.9,1059.2 L2007.9,1055.6 L2008.9,1052 L2009.9,1048.5 L2010.9,1044.9 L2011.9,1041.3 L2012.9,1037.8 L2013.9,1034.2 L2014.8,1030.6 L2015.6,1027 L2016.4,1023.5 L2017,1019.9 L2017.6,1016.3 L2018,1012.7 L2018.3,1009.1 L2018.5,1005.6 L2018.6,1002 L1996.6,1002" fill="#5cb8e8" fill-opacity="0.14" stroke="#5cb8e8" stroke-opacity="0.85" stroke-width="1.3"/>
<path d="M1996.6,1259.4 L1996.6,1259.4 L1996.6,1255.8 L1996.6,1252.2 L1996.6,1248.7 L1996.6,1245.1 L1996.6,1241.5 L1996.6,1238 L1996.6,1234.4 L1996.6,1230.8 L1996.6,1227.2 L1996.6,1223.7 L1996.6,1220.1 L1996.6,1216.5 L1996.6,1212.9 L1996.6,1209.4 L1996.6,1205.8 L1996.6,1202.2 L1996.6,1198.6 L1996.6,1195.1 L1996.6,1191.5 L1996.6,1187.9 L1996.6,1184.3 L1996.6,1180.8 L1996.6,1177.2 L1996.7,1173.6 L1996.7,1170 L1996.7,1166.5 L1996.8,1162.9 L1996.9,1159.3 L1997,1155.7 L1997.1,1152.2 L1997.3,1148.6 L1997.6,1145 L1997.9,1141.4 L1998.2,1137.9 L1998.7,1134.3 L1999.2,1130.7 L1999.8,1127.1 L2000.4,1123.5 L2001.1,1120 L2001.7,1116.4 L2002.4,1112.8 L2003,1109.2 L2003.6,1105.7 L2004.1,1102.1 L2004.5,1098.5 L2004.7,1095 L2004.9,1091.4 L2004.9,1087.8 L2004.9,1084.2 L2004.8,1080.7 L2004.7,1077.1 L2004.6,1073.5 L2004.7,1069.9 L2004.8,1066.3 L2005.2,1062.8 L2005.8,1059.2 L2006.7,1055.6 L2007.8,1052 L2009.2,1048.5 L2010.7,1044.9 L2012.5,1041.3 L2014.3,1037.8 L2016.1,1034.2 L2017.8,1030.6 L2019.3,1027 L2020.5,1023.5 L2021.3,1019.9 L2021.7,1016.3 L2021.6,1012.7 L2021,1009.1 L2020.1,1005.6 L2018.7,1002 L1996.6,1002" fill="#5cb8e8" fill-opacity="0.14" stroke="#5cb8e8" stroke-opacity="0.85" stroke-width="1.3"/>
<path d="M1996.6,1259.4 L1996.6,1259.4 L1996.6,1255.8 L1996.6,1252.2 L1996.6,1248.7 L1996.6,1245.1 L1996.6,1241.5 L1996.6,1238 L1996.6,1234.4 L1996.6,1230.8 L1996.6,1227.2 L1996.6,1223.7 L1996.6,1220.1 L1996.6,1216.5 L1996.6,1212.9 L1996.6,1209.4 L1996.6,1205.8 L1996.6,1202.2 L1996.7,1198.6 L1996.7,1195.1 L1996.7,1191.5 L1996.7,1187.9 L1996.7,1184.3 L1996.8,1180.8 L1996.8,1177.2 L1996.9,1173.6 L1996.9,1170 L1997,1166.5 L1997,1162.9 L1997.1,1159.3 L1997.2,1155.7 L1997.4,1152.2 L1997.5,1148.6 L1997.6,1145 L1997.8,1141.4 L1998,1137.9 L1998.2,1134.3 L1998.5,1130.7 L1998.8,1127.1 L1999.1,1123.5 L1999.4,1120 L1999.8,1116.4 L2000.2,1112.8 L2000.6,1109.2 L2001.1,1105.7 L2001.5,1102.1 L2002,1098.5 L2002.6,1095 L2003.1,1091.4 L2003.7,1087.8 L2004.3,1084.2 L2004.9,1080.7 L2005.4,1077.1 L2006,1073.5 L2006.6,1069.9 L2007.2,1066.3 L2007.7,1062.8 L2008.2,1059.2 L2008.7,1055.6 L2009.1,1052 L2009.5,1048.5 L2009.8,1044.9 L2010.1,1041.3 L2010.3,1037.8 L2010.5,1034.2 L2010.6,1030.6 L2010.6,1027 L2010.6,1023.5 L2010.4,1019.9 L2010.3,1016.3 L2010,1012.7 L2009.7,1009.1 L2009.4,1005.6 L2009,1002 L1996.6,1002" fill="#5cb8e8" fill-opacity="0.14" stroke="#5cb8e8" stroke-opacity="0.85" stroke-width="1.3"/>
<path d="M1996.6,1259.4 L2023.3,1259.4 L2028.8,1255.8 L2032.7,1252.2 L2034.3,1248.7 L2033.3,1245.1 L2030,1241.5 L2025.5,1238 L2020.6,1234.4 L2016.2,1230.8 L2012.8,1227.2 L2010.7,1223.7 L2009.5,1220.1 L2009.1,1216.5 L2008.9,1212.9 L2008.9,1209.4 L2008.7,1205.8 L2008.2,1202.2 L2007.5,1198.6 L2006.5,1195.1 L2005.3,1191.5 L2004.1,1187.9 L2002.8,1184.3 L2001.6,1180.8 L2000.5,1177.2 L1999.6,1173.6 L1998.8,1170 L1998.2,1166.5 L1997.7,1162.9 L1997.3,1159.3 L1997.1,1155.7 L1996.9,1152.2 L1996.8,1148.6 L1996.7,1145 L1996.7,1141.4 L1996.6,1137.9 L1996.6,1134.3 L1996.6,1130.7 L1996.6,1127.1 L1996.6,1123.5 L1996.6,1120 L1996.6,1116.4 L1996.6,1112.8 L1996.6,1109.2 L1996.6,1105.7 L1996.6,1102.1 L1996.6,1098.5 L1996.6,1095 L1996.6,1091.4 L1996.6,1087.8 L1996.6,1084.2 L1996.6,1080.7 L1996.6,1077.1 L1996.6,1073.5 L1996.6,1069.9 L1996.6,1066.3 L1996.6,1062.8 L1996.6,1059.2 L1996.6,1055.6 L1996.6,1052 L1996.6,1048.5 L1996.6,1044.9 L1996.6,1041.3 L1996.6,1037.8 L1996.6,1034.2 L1996.6,1030.6 L1996.6,1027 L1996.6,1023.5 L1996.6,1019.9 L1996.6,1016.3 L1996.6,1012.7 L1996.6,1009.1 L1996.6,1005.6 L1996.6,1002 L1996.6,1002" fill="#5b6ee1" fill-opacity="0.25" stroke="#5b6ee1" stroke-opacity="0.85" stroke-width="1.3"/>
<path d="M1996.6,1259.4 L2004.8,1259.4 L2006.7,1255.8 L2008.6,1252.2 L2010.4,1248.7 L2012,1245.1 L2013.3,1241.5 L2014.2,1238 L2014.6,1234.4 L2014.4,1230.8 L2013.7,1227.2 L2012.6,1223.7 L2011.1,1220.1 L2009.3,1216.5 L2007.4,1212.9 L2005.6,1209.4 L2003.8,1205.8 L2002.2,1202.2 L2000.8,1198.6 L1999.7,1195.1 L1998.8,1191.5 L1998.1,1187.9 L1997.6,1184.3 L1997.3,1180.8 L1997,1177.2 L1996.9,1173.6 L1996.8,1170 L1996.7,1166.5 L1996.6,1162.9 L1996.6,1159.3 L1996.6,1155.7 L1996.6,1152.2 L1996.6,1148.6 L1996.6,1145 L1996.6,1141.4 L1996.6,1137.9 L1996.6,1134.3 L1996.6,1130.7 L1996.6,1127.1 L1996.6,1123.5 L1996.6,1120 L1996.6,1116.4 L1996.6,1112.8 L1996.6,1109.2 L1996.6,1105.7 L1996.6,1102.1 L1996.6,1098.5 L1996.6,1095 L1996.6,1091.4 L1996.6,1087.8 L1996.6,1084.2 L1996.6,1080.7 L1996.6,1077.1 L1996.6,1073.5 L1996.6,1069.9 L1996.6,1066.3 L1996.6,1062.8 L1996.6,1059.2 L1996.6,1055.6 L1996.6,1052 L1996.6,1048.5 L1996.6,1044.9 L1996.6,1041.3 L1996.6,1037.8 L1996.6,1034.2 L1996.6,1030.6 L1996.6,1027 L1996.6,1023.5 L1996.6,1019.9 L1996.6,1016.3 L1996.6,1012.7 L1996.6,1009.1 L1996.6,1005.6 L1996.6,1002 L1996.6,1002" fill="#5b6ee1" fill-opacity="0.2" stroke="#5b6ee1" stroke-opacity="0.85" stroke-width="1.3"/>
<path d="M1996.6,1259.4 L1996.6,1259.4 L1996.6,1255.8 L1996.6,1252.2 L1996.7,1248.7 L1996.8,1247 L1996.9,1245.1 L1997.2,1243.4 L1997.6,1241.5 L1998.2,1239.8 L1999.1,1238 L2000.4,1236.2 L2002.2,1234.4 L2004.4,1232.6 L2007.2,1230.8 L2010.2,1229 L2013.6,1227.2 L2016.9,1225.4 L2019.9,1223.7 L2022.4,1221.8 L2024,1220.1 L2024.6,1218.2 L2024.1,1216.5 L2022.4,1214.6 L2020.2,1212.9 L2016.9,1211 L2013.9,1209.4 L2010.2,1207.4 L2007.4,1205.8 L2004.4,1203.8 L2002.4,1202.2 L2000.4,1200.2 L1999.2,1198.6 L1998.2,1196.6 L1997.6,1195.1 L1997.2,1193 L1996.9,1191.5 L1996.8,1189.4 L1996.7,1187.9 L1996.6,1184.3 L1996.6,1180.8 L1996.6,1177.2 L1996.6,1173.6 L1996.6,1170 L1996.6,1166.5 L1996.6,1162.9 L1996.6,1159.3 L1996.6,1155.7 L1996.6,1152.2 L1996.6,1148.6 L1996.6,1145 L1996.6,1141.4 L1996.6,1137.9 L1996.6,1134.3 L1996.6,1130.7 L1996.6,1127.1 L1996.6,1123.5 L1996.6,1120 L1996.6,1116.4 L1996.6,1112.8 L1996.6,1109.2 L1996.6,1105.7 L1996.6,1102.1 L1996.6,1098.5 L1996.6,1095 L1996.6,1091.4 L1996.6,1087.8 L1996.6,1084.2 L1996.6,1080.7 L1996.6,1077.1 L1996.6,1073.5 L1996.6,1069.9 L1996.6,1066.3 L1996.6,1062.8 L1996.6,1059.2 L1996.6,1055.6 L1996.6,1052 L1996.6,1048.5 L1996.6,1044.9 L1996.6,1041.3 L1996.6,1037.8 L1996.6,1034.2 L1996.6,1030.6 L1996.6,1027 L1996.6,1023.5 L1996.6,1019.9 L1996.6,1016.3 L1996.6,1012.7 L1996.6,1009.1 L1996.6,1005.6 L1996.6,1002 L1996.6,1002" fill="#2f4f4f" fill-opacity="0.1" stroke="#2f4f4f" stroke-opacity="0.85" stroke-width="1.3"/>
<path d="M1996.6,1259.4 L1998.8,1259.4 L2002,1256.8 L2003.9,1255.8 L2007.7,1254.3 L2014,1252.2 L2016.1,1251.7 L2025.6,1249.1 L2027.2,1248.7 L2033.5,1246.5 L2036,1245.1 L2036.6,1244 L2033.8,1241.5 L2033.5,1241.4 L2025.6,1238.8 L2022.5,1238 L2016.1,1236.2 L2009.8,1234.4 L2007.7,1233.7 L2002,1231.1 L2001.5,1230.8 L1998.8,1228.5 L1998,1227.2 L1997.4,1225.9 L1996.9,1223.7 L1996.8,1223.4 L1996.6,1220.1 L1996.6,1216.5 L1996.6,1212.9 L1996.6,1209.4 L1996.6,1205.8 L1996.6,1202.2 L1996.6,1198.6 L1996.6,1195.1 L1996.6,1191.5 L1996.6,1187.9 L1996.6,1184.3 L1996.6,1180.8 L1996.6,1177.2 L1996.6,1173.6 L1996.6,1170 L1996.6,1166.5 L1996.6,1162.9 L1996.6,1159.3 L1996.6,1155.7 L1996.6,1152.2 L1996.6,1148.6 L1996.6,1145 L1996.6,1141.4 L1996.6,1137.9 L1996.6,1134.3 L1996.6,1130.7 L1996.6,1127.1 L1996.6,1123.5 L1996.6,1120 L1996.6,1116.4 L1996.6,1112.8 L1996.6,1109.2 L1996.6,1105.7 L1996.6,1102.1 L1996.6,1098.5 L1996.6,1095 L1996.6,1091.4 L1996.6,1087.8 L1996.6,1084.2 L1996.6,1080.7 L1996.6,1077.1 L1996.6,1073.5 L1996.6,1069.9 L1996.6,1066.3 L1996.6,1062.8 L1996.6,1059.2 L1996.6,1055.6 L1996.6,1052 L1996.6,1048.5 L1996.6,1044.9 L1996.6,1041.3 L1996.6,1037.8 L1996.6,1034.2 L1996.6,1030.6 L1996.6,1027 L1996.6,1023.5 L1996.6,1019.9 L1996.6,1016.3 L1996.6,1012.7 L1996.6,1009.1 L1996.6,1005.6 L1996.6,1002 L1996.6,1002" fill="#2f4f4f" fill-opacity="0.15" stroke="#2f4f4f" stroke-opacity="0.85" stroke-width="1.3"/>
<path d="M1996.6,1259.4 L2013.3,1259.4 L2015.2,1259.1 L2029.2,1257.6 L2045.3,1256.1 L2047.5,1255.8 L2058.4,1254.5 L2063.6,1253 L2062.5,1252.2 L2058.4,1251.4 L2045.3,1249.9 L2032.7,1248.7 L2029.2,1248.3 L2015.2,1246.8 L2005.7,1245.2 L2005,1245.1 L2000.4,1243.7 L1997.9,1242.2 L1997.4,1241.5 L1997,1240.6 L1996.6,1238 L1996.6,1234.4 L1996.6,1230.8 L1996.6,1227.2 L1996.6,1223.7 L1996.6,1220.1 L1996.6,1216.5 L1996.6,1212.9 L1996.6,1209.4 L1996.6,1205.8 L1996.6,1202.2 L1996.6,1198.6 L1996.6,1195.1 L1996.6,1191.5 L1996.6,1187.9 L1996.6,1184.3 L1996.6,1180.8 L1996.6,1177.2 L1996.6,1173.6 L1996.6,1170 L1996.6,1166.5 L1996.6,1162.9 L1996.6,1159.3 L1996.6,1155.7 L1996.6,1152.2 L1996.6,1148.6 L1996.6,1145 L1996.6,1141.4 L1996.6,1137.9 L1996.6,1134.3 L1996.6,1130.7 L1996.6,1127.1 L1996.6,1123.5 L1996.6,1120 L1996.6,1116.4 L1996.6,1112.8 L1996.6,1109.2 L1996.6,1105.7 L1996.6,1102.1 L1996.6,1098.5 L1996.6,1095 L1996.6,1091.4 L1996.6,1087.8 L1996.6,1084.2 L1996.6,1080.7 L1996.6,1077.1 L1996.6,1073.5 L1996.6,1069.9 L1996.6,1066.3 L1996.6,1062.8 L1996.6,1059.2 L1996.6,1055.6 L1996.6,1052 L1996.6,1048.5 L1996.6,1044.9 L1996.6,1041.3 L1996.6,1037.8 L1996.6,1034.2 L1996.6,1030.6 L1996.6,1027 L1996.6,1023.5 L1996.6,1019.9 L1996.6,1016.3 L1996.6,1012.7 L1996.6,1009.1 L1996.6,1005.6 L1996.6,1002 L1996.6,1002" fill="#2f4f4f" fill-opacity="0.15" stroke="#2f4f4f" stroke-opacity="0.85" stroke-width="1.3"/>
<path d="M1996.6,1259.4 L2101.1,1259.4 L2113.8,1258.9 L2123.6,1258.1 L2113.8,1257.3 L2088.8,1256.5 L2065.1,1255.8 L2058.4,1255.6 L2031.9,1254.8 L2013.8,1254 L2003.7,1253.2 L1999.1,1252.3 L1998.8,1252.2 L1997.4,1251.5 L1996.6,1248.7 L1996.6,1245.1 L1996.6,1241.5 L1996.6,1238 L1996.6,1234.4 L1996.6,1230.8 L1996.6,1227.2 L1996.6,1223.7 L1996.6,1220.1 L1996.6,1216.5 L1996.6,1212.9 L1996.6,1209.4 L1996.6,1205.8 L1996.6,1202.2 L1996.6,1198.6 L1996.6,1195.1 L1996.6,1191.5 L1996.6,1187.9 L1996.6,1184.3 L1996.6,1180.8 L1996.6,1177.2 L1996.6,1173.6 L1996.6,1170 L1996.6,1166.5 L1996.6,1162.9 L1996.6,1159.3 L1996.6,1155.7 L1996.6,1152.2 L1996.6,1148.6 L1996.6,1145 L1996.6,1141.4 L1996.6,1137.9 L1996.6,1134.3 L1996.6,1130.7 L1996.6,1127.1 L1996.6,1123.5 L1996.6,1120 L1996.6,1116.4 L1996.6,1112.8 L1996.6,1109.2 L1996.6,1105.7 L1996.6,1102.1 L1996.6,1098.5 L1996.6,1095 L1996.6,1091.4 L1996.6,1087.8 L1996.6,1084.2 L1996.6,1080.7 L1996.6,1077.1 L1996.6,1073.5 L1996.6,1069.9 L1996.6,1066.3 L1996.6,1062.8 L1996.6,1059.2 L1996.6,1055.6 L1996.6,1052 L1996.6,1048.5 L1996.6,1044.9 L1996.6,1041.3 L1996.6,1037.8 L1996.6,1034.2 L1996.6,1030.6 L1996.6,1027 L1996.6,1023.5 L1996.6,1019.9 L1996.6,1016.3 L1996.6,1012.7 L1996.6,1009.1 L1996.6,1005.6 L1996.6,1002 L1996.6,1002" fill="#2f4f4f" fill-opacity="0.1" stroke="#2f4f4f" stroke-opacity="0.85" stroke-width="1.3"/>
<path d="M1996.6,1259.4 L1999.3,1259.4 L2001.1,1255.8 L2003.6,1252.2 L2006.7,1248.7 L2010.1,1245.1 L2013.2,1241.5 L2015.5,1238 L2016.6,1234.4 L2016.1,1230.8 L2014.2,1227.2 L2011.4,1223.7 L2008.1,1220.1 L2004.8,1216.5 L2002.1,1212.9 L2000,1209.4 L1998.5,1205.8 L1997.6,1202.2 L1997.1,1198.6 L1996.8,1195.1 L1996.7,1191.5 L1996.6,1187.9 L1996.6,1184.3 L1996.6,1180.8 L1996.6,1177.2 L1996.6,1173.6 L1996.6,1170 L1996.6,1166.5 L1996.6,1162.9 L1996.6,1159.3 L1996.6,1155.7 L1996.6,1152.2 L1996.6,1148.6 L1996.6,1145 L1996.6,1141.4 L1996.6,1137.9 L1996.6,1134.3 L1996.6,1130.7 L1996.6,1127.1 L1996.6,1123.5 L1996.6,1120 L1996.6,1116.4 L1996.6,1112.8 L1996.6,1109.2 L1996.6,1105.7 L1996.6,1102.1 L1996.6,1098.5 L1996.6,1095 L1996.6,1091.4 L1996.6,1087.8 L1996.6,1084.2 L1996.6,1080.7 L1996.6,1077.1 L1996.6,1073.5 L1996.6,1069.9 L1996.6,1066.3 L1996.6,1062.8 L1996.6,1059.2 L1996.6,1055.6 L1996.6,1052 L1996.6,1048.5 L1996.6,1044.9 L1996.6,1041.3 L1996.6,1037.8 L1996.6,1034.2 L1996.6,1030.6 L1996.6,1027 L1996.6,1023.5 L1996.6,1019.9 L1996.6,1016.3 L1996.6,1012.7 L1996.6,1009.1 L1996.6,1005.6 L1996.6,1002 L1996.6,1002" fill="#2f4f4f" fill-opacity="0.15" stroke="#2f4f4f" stroke-opacity="0.85" stroke-width="1.3"/>
<g fill="#56b4e9">
<ellipse cx="1913.7" cy="1026.4" rx="25.7" ry="21.9" fill-opacity="0.070"/>
<ellipse cx="1913.8" cy="1025.9" rx="20" ry="17.5" fill-opacity="0.065"/>
<ellipse cx="1913.9" cy="1025.4" rx="15" ry="13.5" fill-opacity="0.103"/>
<ellipse cx="1914" cy="1024.9" rx="10.2" ry="9.8" fill-opacity="0.179"/>
</g>
<g fill="#f58c1e">
<ellipse cx="1746" cy="1166" rx="13.6" ry="34.7" fill-opacity="0.080"/>
<ellipse cx="1744.8" cy="1166.8" rx="10.5" ry="26" fill-opacity="0.098"/>
<ellipse cx="1743.7" cy="1167.5" rx="7.6" ry="19" fill-opacity="0.133"/>
<ellipse cx="1742.7" cy="1168.2" rx="4.9" ry="12.8" fill-opacity="0.194"/>
</g>
<g fill="#2f4f4f">
<ellipse cx="1785.7" cy="1247.5" rx="14.7" ry="7.5" fill-opacity="0.080"/>
<ellipse cx="1785" cy="1247.6" rx="11.5" ry="5.8" fill-opacity="0.087"/>
<ellipse cx="1784.4" cy="1247.7" rx="9.3" ry="4.5" fill-opacity="0.143"/>
<ellipse cx="1783.9" cy="1247.8" rx="7.5" ry="3.4" fill-opacity="0.194"/>
</g>
<g fill="#5b73ed">
<ellipse cx="1841.5" cy="1243" rx="44" ry="13.6" fill-opacity="0.070"/>
<ellipse cx="1838.9" cy="1245.2" rx="34.7" ry="9.8" fill-opacity="0.065"/>
<ellipse cx="1840.4" cy="1247.1" rx="26.4" ry="7.2" fill-opacity="0.080"/>
<ellipse cx="1839" cy="1248.2" rx="17.4" ry="3.8" fill-opacity="0.125"/>
</g>
<path d="M1173.3,1403.8 L1173.3,1403.8 L1177,1403.8 L1180.7,1403.8 L1184.3,1403.8 L1188,1403.8 L1191.7,1403.8 L1195.4,1403.8 L1199,1403.8 L1202.7,1403.8 L1206.4,1403.8 L1210.1,1403.8 L1213.8,1403.8 L1217.4,1403.8 L1221.1,1403.8 L1224.8,1403.8 L1228.5,1403.8 L1232.1,1403.8 L1235.8,1403.8 L1239.5,1403.8 L1243.2,1403.8 L1246.9,1403.8 L1250.5,1403.8 L1254.2,1403.8 L1257.9,1403.7 L1261.6,1403.7 L1265.2,1403.6 L1268.9,1403.4 L1272.6,1403.2 L1276.3,1402.8 L1280,1402.4 L1283.6,1401.7 L1287.3,1400.9 L1291,1399.9 L1294.7,1398.6 L1298.3,1397.2 L1302,1395.6 L1305.7,1394 L1309.4,1392.3 L1313.1,1390.8 L1316.7,1389.5 L1320.4,1388.6 L1324.1,1388.1 L1327.8,1388 L1331.4,1388.4 L1335.1,1389.3 L1338.8,1390.5 L1342.5,1392 L1346.2,1393.6 L1349.8,1395.3 L1353.5,1396.9 L1357.2,1398.3 L1360.9,1399.6 L1364.5,1400.7 L1368.2,1401.6 L1371.9,1402.2 L1375.6,1402.7 L1379.3,1403.1 L1382.9,1403.4 L1386.6,1403.5 L1390.3,1403.6 L1394,1403.7 L1397.6,1403.7 L1401.3,1403.8 L1405,1403.8 L1408.7,1403.8 L1412.4,1403.8 L1416,1403.8 L1419.7,1403.8 L1423.4,1403.8 L1427.1,1403.8 L1430.7,1403.8 L1434.4,1403.8 L1438.1,1403.8 L1438.1,1403.8" fill="#2f4f4f" fill-opacity="0.1" stroke="#2f4f4f" stroke-opacity="0.85" stroke-width="1.3"/>
<path d="M1173.3,1403.8 L1173.3,1403.7 L1177,1403.6 L1180.7,1403.4 L1184.3,1403 L1188,1402.2 L1191.7,1400.8 L1195.4,1398.8 L1199,1396 L1202.7,1392.5 L1206.4,1388.7 L1210.1,1385.2 L1213.8,1382.5 L1217.4,1381.3 L1221.1,1381.7 L1224.8,1383.7 L1228.5,1387 L1232.1,1390.7 L1235.8,1394.4 L1239.5,1397.5 L1243.2,1399.9 L1246.9,1401.6 L1250.5,1402.6 L1254.2,1403.2 L1257.9,1403.5 L1261.6,1403.7 L1265.2,1403.8 L1268.9,1403.8 L1272.6,1403.8 L1276.3,1403.8 L1280,1403.8 L1283.6,1403.8 L1287.3,1403.8 L1291,1403.8 L1294.7,1403.8 L1298.3,1403.8 L1302,1403.8 L1305.7,1403.8 L1309.4,1403.8 L1313.1,1403.8 L1316.7,1403.8 L1320.4,1403.8 L1324.1,1403.8 L1327.8,1403.8 L1331.4,1403.8 L1335.1,1403.8 L1338.8,1403.8 L1342.5,1403.8 L1346.2,1403.8 L1349.8,1403.8 L1353.5,1403.8 L1357.2,1403.8 L1360.9,1403.8 L1364.5,1403.8 L1368.2,1403.8 L1371.9,1403.8 L1375.6,1403.8 L1379.3,1403.8 L1382.9,1403.8 L1386.6,1403.8 L1390.3,1403.8 L1394,1403.8 L1397.6,1403.8 L1401.3,1403.8 L1405,1403.8 L1408.7,1403.8 L1412.4,1403.8 L1416,1403.8 L1419.7,1403.8 L1423.4,1403.8 L1427.1,1403.8 L1430.7,1403.8 L1434.4,1403.8 L1438.1,1403.8 L1438.1,1403.8" fill="#2f4f4f" fill-opacity="0.1" stroke="#2f4f4f" stroke-opacity="0.85" stroke-width="1.3"/>
<path d="M1173.3,1403.8 L1173.3,1403.8 L1177,1403.8 L1180.7,1403.8 L1184.3,1403.8 L1188,1403.8 L1191.7,1403.8 L1195.4,1403.8 L1199,1403.7 L1202.7,1403.6 L1206.4,1403.4 L1210.1,1403 L1213.8,1402.2 L1217.4,1400.9 L1221.1,1398.8 L1224.8,1395.9 L1228.5,1392.3 L1232.1,1388.2 L1235.8,1384.2 L1239.5,1381 L1243.2,1379.3 L1246.9,1379.4 L1250.5,1381.3 L1254.2,1384.6 L1257.9,1388.7 L1261.6,1392.7 L1265.2,1396.3 L1268.9,1399.1 L1272.6,1401.1 L1276.3,1402.3 L1280,1403.1 L1283.6,1403.5 L1287.3,1403.7 L1291,1403.7 L1294.7,1403.8 L1298.3,1403.8 L1302,1403.8 L1305.7,1403.8 L1309.4,1403.8 L1313.1,1403.8 L1316.7,1403.8 L1320.4,1403.8 L1324.1,1403.8 L1327.8,1403.8 L1331.4,1403.8 L1335.1,1403.8 L1338.8,1403.8 L1342.5,1403.8 L1346.2,1403.8 L1349.8,1403.8 L1353.5,1403.8 L1357.2,1403.8 L1360.9,1403.8 L1364.5,1403.8 L1368.2,1403.8 L1371.9,1403.8 L1375.6,1403.8 L1379.3,1403.8 L1382.9,1403.8 L1386.6,1403.8 L1390.3,1403.8 L1394,1403.8 L1397.6,1403.8 L1401.3,1403.8 L1405,1403.8 L1408.7,1403.8 L1412.4,1403.8 L1416,1403.8 L1419.7,1403.8 L1423.4,1403.8 L1427.1,1403.8 L1430.7,1403.8 L1434.4,1403.8 L1438.1,1403.8 L1438.1,1403.8" fill="#2f4f4f" fill-opacity="0.1" stroke="#2f4f4f" stroke-opacity="0.85" stroke-width="1.3"/>
<path d="M1173.3,1403.8 L1173.3,1403.8 L1177,1403.8 L1180.7,1403.8 L1184.3,1403.8 L1188,1403.8 L1191.7,1403.8 L1195.4,1403.8 L1199,1403.8 L1202.7,1403.8 L1206.4,1403.7 L1210.1,1403.7 L1213.8,1403.6 L1217.4,1403.4 L1221.1,1403.1 L1224.8,1402.7 L1228.5,1402 L1232.1,1401.1 L1235.8,1400 L1239.5,1398.5 L1243.2,1396.8 L1246.9,1394.8 L1250.5,1392.8 L1254.2,1390.8 L1257.9,1389.1 L1261.6,1387.7 L1265.2,1387 L1268.9,1386.8 L1272.6,1387.4 L1276.3,1388.5 L1280,1390.1 L1283.6,1392 L1287.3,1394 L1291,1396 L1294.7,1397.8 L1298.3,1399.4 L1302,1400.7 L1305.7,1401.7 L1309.4,1402.4 L1313.1,1402.9 L1316.7,1403.3 L1320.4,1403.5 L1324.1,1403.6 L1327.8,1403.7 L1331.4,1403.8 L1335.1,1403.8 L1338.8,1403.8 L1342.5,1403.8 L1346.2,1403.8 L1349.8,1403.8 L1353.5,1403.8 L1357.2,1403.8 L1360.9,1403.8 L1364.5,1403.8 L1368.2,1403.8 L1371.9,1403.8 L1375.6,1403.8 L1379.3,1403.8 L1382.9,1403.8 L1386.6,1403.8 L1390.3,1403.8 L1394,1403.8 L1397.6,1403.8 L1401.3,1403.8 L1405,1403.8 L1408.7,1403.8 L1412.4,1403.8 L1416,1403.8 L1419.7,1403.8 L1423.4,1403.8 L1427.1,1403.8 L1430.7,1403.8 L1434.4,1403.8 L1438.1,1403.8 L1438.1,1403.8" fill="#2f4f4f" fill-opacity="0.1" stroke="#2f4f4f" stroke-opacity="0.85" stroke-width="1.3"/>
<path d="M1173.3,1403.8 L1173.3,1403.7 L1177,1403.6 L1180.7,1403.5 L1184.3,1403.2 L1188,1402.7 L1191.7,1401.9 L1195.4,1400.8 L1199,1399.2 L1202.7,1397.1 L1206.4,1394.6 L1210.1,1391.9 L1213.8,1389.1 L1217.4,1386.7 L1221.1,1384.8 L1224.8,1383.9 L1228.5,1384 L1232.1,1385.1 L1235.8,1387.1 L1239.5,1389.7 L1243.2,1392.5 L1246.9,1395.2 L1250.5,1397.6 L1254.2,1399.5 L1257.9,1401 L1261.6,1402.1 L1265.2,1402.8 L1268.9,1403.3 L1272.6,1403.5 L1276.3,1403.7 L1280,1403.7 L1283.6,1403.8 L1287.3,1403.8 L1291,1403.8 L1294.7,1403.8 L1298.3,1403.8 L1302,1403.8 L1305.7,1403.8 L1309.4,1403.8 L1313.1,1403.8 L1316.7,1403.8 L1320.4,1403.8 L1324.1,1403.8 L1327.8,1403.8 L1331.4,1403.8 L1335.1,1403.8 L1338.8,1403.8 L1342.5,1403.8 L1346.2,1403.8 L1349.8,1403.8 L1353.5,1403.8 L1357.2,1403.8 L1360.9,1403.8 L1364.5,1403.8 L1368.2,1403.8 L1371.9,1403.8 L1375.6,1403.8 L1379.3,1403.8 L1382.9,1403.8 L1386.6,1403.8 L1390.3,1403.8 L1394,1403.8 L1397.6,1403.8 L1401.3,1403.8 L1405,1403.8 L1408.7,1403.8 L1412.4,1403.8 L1416,1403.8 L1419.7,1403.8 L1423.4,1403.8 L1427.1,1403.8 L1430.7,1403.8 L1434.4,1403.8 L1438.1,1403.8 L1438.1,1403.8" fill="#2f4f4f" fill-opacity="0.1" stroke="#2f4f4f" stroke-opacity="0.85" stroke-width="1.3"/>
<path d="M1173.3,1403.8 L1173.3,1403.8 L1177,1403.8 L1180.7,1403.8 L1184.3,1403.8 L1188,1403.8 L1191.7,1403.7 L1195.4,1403.7 L1199,1403.6 L1202.7,1403.4 L1206.4,1403.2 L1210.1,1402.8 L1213.8,1402.3 L1217.4,1401.5 L1221.1,1400.5 L1224.8,1399.3 L1228.5,1397.9 L1232.1,1396.2 L1235.8,1394.6 L1239.5,1393 L1243.2,1391.5 L1246.9,1390.5 L1250.5,1389.9 L1254.2,1389.8 L1257.9,1390.3 L1261.6,1391.3 L1265.2,1392.6 L1268.9,1394.2 L1272.6,1395.9 L1276.3,1397.5 L1280,1399 L1283.6,1400.3 L1287.3,1401.3 L1291,1402.1 L1294.7,1402.7 L1298.3,1403.1 L1302,1403.4 L1305.7,1403.6 L1309.4,1403.7 L1313.1,1403.7 L1316.7,1403.8 L1320.4,1403.8 L1324.1,1403.8 L1327.8,1403.8 L1331.4,1403.8 L1335.1,1403.8 L1338.8,1403.8 L1342.5,1403.8 L1346.2,1403.8 L1349.8,1403.8 L1353.5,1403.8 L1357.2,1403.8 L1360.9,1403.8 L1364.5,1403.8 L1368.2,1403.8 L1371.9,1403.8 L1375.6,1403.8 L1379.3,1403.8 L1382.9,1403.8 L1386.6,1403.8 L1390.3,1403.8 L1394,1403.8 L1397.6,1403.8 L1401.3,1403.8 L1405,1403.8 L1408.7,1403.8 L1412.4,1403.8 L1416,1403.8 L1419.7,1403.8 L1423.4,1403.8 L1427.1,1403.8 L1430.7,1403.8 L1434.4,1403.8 L1438.1,1403.8 L1438.1,1403.8" fill="#2f4f4f" fill-opacity="0.1" stroke="#2f4f4f" stroke-opacity="0.85" stroke-width="1.3"/>
<path d="M1173.3,1403.8 L1173.3,1323.8 L1177,1328.5 L1180.7,1340.9 L1184.3,1357.3 L1188,1373.3 L1191.7,1386.1 L1195.4,1394.7 L1199,1399.6 L1202.7,1402.1 L1206.4,1403.2 L1210.1,1403.6 L1213.8,1403.7 L1217.4,1403.8 L1221.1,1403.8 L1224.8,1403.8 L1228.5,1403.8 L1232.1,1403.8 L1235.8,1403.8 L1239.5,1403.8 L1243.2,1403.8 L1246.9,1403.8 L1250.5,1403.8 L1254.2,1403.8 L1257.9,1403.8 L1261.6,1403.8 L1265.2,1403.8 L1268.9,1403.8 L1272.6,1403.8 L1276.3,1403.8 L1280,1403.8 L1283.6,1403.8 L1287.3,1403.8 L1291,1403.8 L1294.7,1403.8 L1298.3,1403.8 L1302,1403.8 L1305.7,1403.8 L1309.4,1403.8 L1313.1,1403.8 L1316.7,1403.8 L1320.4,1403.8 L1324.1,1403.8 L1327.8,1403.8 L1331.4,1403.8 L1335.1,1403.8 L1338.8,1403.8 L1342.5,1403.8 L1346.2,1403.8 L1349.8,1403.8 L1353.5,1403.8 L1357.2,1403.8 L1360.9,1403.8 L1364.5,1403.8 L1368.2,1403.8 L1371.9,1403.8 L1375.6,1403.8 L1379.3,1403.8 L1382.9,1403.8 L1386.6,1403.8 L1390.3,1403.8 L1394,1403.8 L1397.6,1403.8 L1401.3,1403.8 L1405,1403.8 L1408.7,1403.8 L1412.4,1403.8 L1416,1403.8 L1419.7,1403.8 L1423.4,1403.8 L1427.1,1403.8 L1430.7,1403.8 L1434.4,1403.8 L1438.1,1403.8 L1438.1,1403.8" fill="#ee9530" fill-opacity="0.18" stroke="#ee9530" stroke-opacity="0.85" stroke-width="1.3"/>
<path d="M1173.3,1403.8 L1173.3,1400.3 L1177,1397 L1180.7,1392.3 L1184.3,1386.5 L1188,1380.7 L1191.7,1376.4 L1195.4,1375 L1199,1377 L1202.7,1381.7 L1206.4,1387.6 L1210.1,1393.3 L1213.8,1397.8 L1217.4,1400.7 L1221.1,1402.4 L1224.8,1403.2 L1228.5,1403.6 L1232.1,1403.7 L1235.8,1403.8 L1239.5,1403.8 L1243.2,1403.8 L1246.9,1403.8 L1250.5,1403.8 L1254.2,1403.8 L1257.9,1403.8 L1261.6,1403.8 L1265.2,1403.8 L1268.9,1403.8 L1272.6,1403.8 L1276.3,1403.8 L1280,1403.8 L1283.6,1403.8 L1287.3,1403.8 L1291,1403.8 L1294.7,1403.8 L1298.3,1403.8 L1302,1403.8 L1305.7,1403.8 L1309.4,1403.8 L1313.1,1403.8 L1316.7,1403.8 L1320.4,1403.8 L1324.1,1403.8 L1327.8,1403.8 L1331.4,1403.8 L1335.1,1403.8 L1338.8,1403.8 L1342.5,1403.8 L1346.2,1403.8 L1349.8,1403.8 L1353.5,1403.8 L1357.2,1403.8 L1360.9,1403.8 L1364.5,1403.8 L1368.2,1403.8 L1371.9,1403.8 L1375.6,1403.8 L1379.3,1403.8 L1382.9,1403.8 L1386.6,1403.8 L1390.3,1403.8 L1394,1403.8 L1397.6,1403.8 L1401.3,1403.8 L1405,1403.8 L1408.7,1403.8 L1412.4,1403.8 L1416,1403.8 L1419.7,1403.8 L1423.4,1403.8 L1427.1,1403.8 L1430.7,1403.8 L1434.4,1403.8 L1438.1,1403.8 L1438.1,1403.8" fill="#ee9530" fill-opacity="0.16" stroke="#ee9530" stroke-opacity="0.85" stroke-width="1.3"/>
<path d="M1173.3,1403.8 L1173.3,1396.5 L1177,1393 L1180.7,1389 L1184.3,1385.1 L1188,1381.9 L1191.7,1380.1 L1195.4,1380 L1199,1381.7 L1202.7,1384.8 L1206.4,1388.7 L1210.1,1392.6 L1213.8,1396.2 L1217.4,1399 L1221.1,1401 L1224.8,1402.3 L1228.5,1403 L1232.1,1403.4 L1235.8,1403.6 L1239.5,1403.7 L1243.2,1403.8 L1246.9,1403.8 L1250.5,1403.8 L1254.2,1403.8 L1257.9,1403.8 L1261.6,1403.8 L1265.2,1403.8 L1268.9,1403.8 L1272.6,1403.8 L1276.3,1403.8 L1280,1403.8 L1283.6,1403.8 L1287.3,1403.8 L1291,1403.8 L1294.7,1403.8 L1298.3,1403.8 L1302,1403.8 L1305.7,1403.8 L1309.4,1403.8 L1313.1,1403.8 L1316.7,1403.8 L1320.4,1403.8 L1324.1,1403.8 L1327.8,1403.8 L1331.4,1403.8 L1335.1,1403.8 L1338.8,1403.8 L1342.5,1403.8 L1346.2,1403.8 L1349.8,1403.8 L1353.5,1403.8 L1357.2,1403.8 L1360.9,1403.8 L1364.5,1403.8 L1368.2,1403.8 L1371.9,1403.8 L1375.6,1403.8 L1379.3,1403.8 L1382.9,1403.8 L1386.6,1403.8 L1390.3,1403.8 L1394,1403.8 L1397.6,1403.8 L1401.3,1403.8 L1405,1403.8 L1408.7,1403.8 L1412.4,1403.8 L1416,1403.8 L1419.7,1403.8 L1423.4,1403.8 L1427.1,1403.8 L1430.7,1403.8 L1434.4,1403.8 L1438.1,1403.8 L1438.1,1403.8" fill="#ee9530" fill-opacity="0.16" stroke="#ee9530" stroke-opacity="0.85" stroke-width="1.3"/>
<path d="M1173.3,1403.8 L1173.3,1402.3 L1177,1401.7 L1180.7,1400.8 L1184.3,1399.7 L1188,1398.3 L1191.7,1396.7 L1195.4,1394.9 L1199,1393 L1202.7,1391 L1206.4,1389.2 L1210.1,1387.6 L1213.8,1386.3 L1217.4,1385.6 L1221.1,1385.3 L1224.8,1385.6 L1228.5,1386.4 L1232.1,1387.7 L1235.8,1389.3 L1239.5,1391.2 L1243.2,1393.1 L1246.9,1395 L1250.5,1396.8 L1254.2,1398.4 L1257.9,1399.8 L1261.6,1400.9 L1265.2,1401.7 L1268.9,1402.4 L1272.6,1402.9 L1276.3,1403.2 L1280,1403.4 L1283.6,1403.6 L1287.3,1403.7 L1291,1403.7 L1294.7,1403.8 L1298.3,1403.8 L1302,1403.8 L1305.7,1403.8 L1309.4,1403.8 L1313.1,1403.8 L1316.7,1403.8 L1320.4,1403.8 L1324.1,1403.8 L1327.8,1403.8 L1331.4,1403.8 L1335.1,1403.8 L1338.8,1403.8 L1342.5,1403.8 L1346.2,1403.8 L1349.8,1403.8 L1353.5,1403.8 L1357.2,1403.8 L1360.9,1403.8 L1364.5,1403.8 L1368.2,1403.8 L1371.9,1403.8 L1375.6,1403.8 L1379.3,1403.8 L1382.9,1403.8 L1386.6,1403.8 L1390.3,1403.8 L1394,1403.8 L1397.6,1403.8 L1401.3,1403.8 L1405,1403.8 L1408.7,1403.8 L1412.4,1403.8 L1416,1403.8 L1419.7,1403.8 L1423.4,1403.8 L1427.1,1403.8 L1430.7,1403.8 L1434.4,1403.8 L1438.1,1403.8 L1438.1,1403.8" fill="#ee9530" fill-opacity="0.14" stroke="#ee9530" stroke-opacity="0.85" stroke-width="1.3"/>
<path d="M1441.3,1665.7 L1527.3,1665.7 L1520.7,1663.1 L1515,1662.1 L1503.7,1660.6 L1487.7,1658.6 L1483.2,1658 L1465.2,1655.4 L1462.7,1655 L1452.9,1652.8 L1448.6,1651.4 L1446.1,1650.3 L1443.1,1647.8 L1443,1647.7 L1441.8,1645.1 L1441.6,1644.3 L1441.3,1640.7 L1441.3,1637.1 L1441.3,1633.6 L1441.3,1630 L1441.3,1626.4 L1441.3,1622.8 L1441.3,1619.3 L1441.3,1615.7 L1441.3,1612.1 L1441.3,1608.6 L1441.3,1605 L1441.3,1601.4 L1441.3,1597.9 L1441.3,1594.3 L1441.3,1590.7 L1441.3,1587.1 L1441.3,1583.6 L1441.3,1580 L1441.3,1576.4 L1441.3,1572.9 L1441.3,1569.3 L1441.3,1565.7 L1441.3,1562.1 L1441.3,1558.6 L1441.3,1555 L1441.3,1551.4 L1441.3,1547.9 L1441.3,1544.3 L1441.3,1540.7 L1441.3,1537.2 L1441.3,1533.6 L1441.3,1530 L1441.3,1526.4 L1441.3,1522.9 L1441.3,1519.3 L1441.3,1515.7 L1441.3,1512.2 L1441.3,1508.6 L1441.3,1505 L1441.3,1501.4 L1441.3,1497.9 L1441.3,1494.3 L1441.3,1490.7 L1441.3,1487.2 L1441.3,1483.6 L1441.3,1480 L1441.3,1476.4 L1441.3,1472.9 L1441.3,1469.3 L1441.3,1465.7 L1441.3,1462.2 L1441.3,1458.6 L1441.3,1455 L1441.3,1451.4 L1441.3,1447.9 L1441.3,1444.3 L1441.3,1440.7 L1441.3,1437.2 L1441.3,1433.6 L1441.3,1430 L1441.3,1426.5 L1441.3,1422.9 L1441.3,1419.3 L1441.3,1415.7 L1441.3,1412.2 L1441.3,1408.6 L1441.3,1408.6" fill="#ee9530" fill-opacity="0.16" stroke="#ee9530" stroke-opacity="0.85" stroke-width="1.3"/>
<path d="M1441.3,1665.7 L1454.9,1665.7 L1457.4,1664.7 L1463.9,1662.1 L1465.3,1661.6 L1471.7,1658.6 L1471.8,1658.5 L1474.3,1655.4 L1474.2,1655 L1471.8,1652.3 L1470.1,1651.4 L1465.3,1649.2 L1461.7,1647.8 L1457.4,1646.2 L1452.9,1644.3 L1450.5,1643.1 L1446.7,1640.7 L1445.8,1640 L1443.3,1637.1 L1443.2,1636.9 L1442,1633.8 L1441.9,1633.6 L1441.5,1630.7 L1441.4,1630 L1441.3,1626.4 L1441.3,1622.8 L1441.3,1619.3 L1441.3,1615.7 L1441.3,1612.1 L1441.3,1608.6 L1441.3,1605 L1441.3,1601.4 L1441.3,1597.9 L1441.3,1594.3 L1441.3,1590.7 L1441.3,1587.1 L1441.3,1583.6 L1441.3,1580 L1441.3,1576.4 L1441.3,1572.9 L1441.3,1569.3 L1441.3,1565.7 L1441.3,1562.1 L1441.3,1558.6 L1441.3,1555 L1441.3,1551.4 L1441.3,1547.9 L1441.3,1544.3 L1441.3,1540.7 L1441.3,1537.2 L1441.3,1533.6 L1441.3,1530 L1441.3,1526.4 L1441.3,1522.9 L1441.3,1519.3 L1441.3,1515.7 L1441.3,1512.2 L1441.3,1508.6 L1441.3,1505 L1441.3,1501.4 L1441.3,1497.9 L1441.3,1494.3 L1441.3,1490.7 L1441.3,1487.2 L1441.3,1483.6 L1441.3,1480 L1441.3,1476.4 L1441.3,1472.9 L1441.3,1469.3 L1441.3,1465.7 L1441.3,1462.2 L1441.3,1458.6 L1441.3,1455 L1441.3,1451.4 L1441.3,1447.9 L1441.3,1444.3 L1441.3,1440.7 L1441.3,1437.2 L1441.3,1433.6 L1441.3,1430 L1441.3,1426.5 L1441.3,1422.9 L1441.3,1419.3 L1441.3,1415.7 L1441.3,1412.2 L1441.3,1408.6 L1441.3,1408.6" fill="#ee9530" fill-opacity="0.16" stroke="#ee9530" stroke-opacity="0.85" stroke-width="1.3"/>
<path d="M1441.3,1665.7 L1441.7,1665.7 L1442.4,1662.1 L1443.7,1658.6 L1446.2,1655 L1450,1651.4 L1455.2,1647.8 L1460.9,1644.3 L1465.8,1640.7 L1468.5,1637.1 L1468,1633.6 L1464.6,1630 L1459.3,1626.4 L1453.6,1622.8 L1448.8,1619.3 L1445.3,1615.7 L1443.2,1612.1 L1442.1,1608.6 L1441.6,1605 L1441.4,1601.4 L1441.3,1597.9 L1441.3,1594.3 L1441.3,1590.7 L1441.3,1587.1 L1441.3,1583.6 L1441.3,1580 L1441.3,1576.4 L1441.3,1572.9 L1441.3,1569.3 L1441.3,1565.7 L1441.3,1562.1 L1441.3,1558.6 L1441.3,1555 L1441.3,1551.4 L1441.3,1547.9 L1441.3,1544.3 L1441.3,1540.7 L1441.3,1537.2 L1441.3,1533.6 L1441.3,1530 L1441.3,1526.4 L1441.3,1522.9 L1441.3,1519.3 L1441.3,1515.7 L1441.3,1512.2 L1441.3,1508.6 L1441.3,1505 L1441.3,1501.4 L1441.3,1497.9 L1441.3,1494.3 L1441.3,1490.7 L1441.3,1487.2 L1441.3,1483.6 L1441.3,1480 L1441.3,1476.4 L1441.3,1472.9 L1441.3,1469.3 L1441.3,1465.7 L1441.3,1462.2 L1441.3,1458.6 L1441.3,1455 L1441.3,1451.4 L1441.3,1447.9 L1441.3,1444.3 L1441.3,1440.7 L1441.3,1437.2 L1441.3,1433.6 L1441.3,1430 L1441.3,1426.5 L1441.3,1422.9 L1441.3,1419.3 L1441.3,1415.7 L1441.3,1412.2 L1441.3,1408.6 L1441.3,1408.6" fill="#ee9530" fill-opacity="0.14" stroke="#ee9530" stroke-opacity="0.85" stroke-width="1.3"/>
<path d="M1441.3,1665.7 L1441.4,1665.7 L1441.6,1662.1 L1441.9,1658.6 L1442.6,1655 L1443.7,1651.4 L1445.4,1647.8 L1447.8,1644.3 L1450.8,1640.7 L1454.3,1637.1 L1457.7,1633.6 L1460.5,1630 L1462.1,1626.4 L1462.1,1622.8 L1460.6,1619.3 L1457.9,1615.7 L1454.5,1612.1 L1451,1608.6 L1447.9,1605 L1445.5,1601.4 L1443.7,1597.9 L1442.6,1594.3 L1442,1590.7 L1441.6,1587.1 L1441.4,1583.6 L1441.4,1580 L1441.3,1576.4 L1441.3,1572.9 L1441.3,1569.3 L1441.3,1565.7 L1441.3,1562.1 L1441.3,1558.6 L1441.3,1555 L1441.3,1551.4 L1441.3,1547.9 L1441.3,1544.3 L1441.3,1540.7 L1441.3,1537.2 L1441.3,1533.6 L1441.3,1530 L1441.3,1526.4 L1441.3,1522.9 L1441.3,1519.3 L1441.3,1515.7 L1441.3,1512.2 L1441.3,1508.6 L1441.3,1505 L1441.3,1501.4 L1441.3,1497.9 L1441.3,1494.3 L1441.3,1490.7 L1441.3,1487.2 L1441.3,1483.6 L1441.3,1480 L1441.3,1476.4 L1441.3,1472.9 L1441.3,1469.3 L1441.3,1465.7 L1441.3,1462.2 L1441.3,1458.6 L1441.3,1455 L1441.3,1451.4 L1441.3,1447.9 L1441.3,1444.3 L1441.3,1440.7 L1441.3,1437.2 L1441.3,1433.6 L1441.3,1430 L1441.3,1426.5 L1441.3,1422.9 L1441.3,1419.3 L1441.3,1415.7 L1441.3,1412.2 L1441.3,1408.6 L1441.3,1408.6" fill="#ee9530" fill-opacity="0.14" stroke="#ee9530" stroke-opacity="0.85" stroke-width="1.3"/>
<path d="M1441.3,1665.7 L1441.3,1665.7 L1441.4,1662.1 L1441.5,1661.3 L1441.8,1658.6 L1441.9,1658.2 L1442.9,1655.2 L1443,1655 L1445.1,1652.1 L1445.8,1651.4 L1449.1,1649 L1451.1,1647.8 L1454.9,1645.9 L1458.5,1644.3 L1461.6,1642.8 L1465.7,1640.7 L1467.1,1639.7 L1469.2,1637.1 L1469.3,1636.6 L1467.1,1633.6 L1461.6,1630.5 L1460.6,1630 L1454.9,1627.4 L1452.9,1626.4 L1449.1,1624.3 L1447,1622.8 L1445.1,1621.2 L1443.5,1619.3 L1442.9,1618.1 L1442,1615.7 L1441.9,1615.1 L1441.5,1612.1 L1441.5,1612 L1441.3,1608.6 L1441.3,1605 L1441.3,1601.4 L1441.3,1597.9 L1441.3,1594.3 L1441.3,1590.7 L1441.3,1587.1 L1441.3,1583.6 L1441.3,1580 L1441.3,1576.4 L1441.3,1572.9 L1441.3,1569.3 L1441.3,1565.7 L1441.3,1562.1 L1441.3,1558.6 L1441.3,1555 L1441.3,1551.4 L1441.3,1547.9 L1441.3,1544.3 L1441.3,1540.7 L1441.3,1537.2 L1441.3,1533.6 L1441.3,1530 L1441.3,1526.4 L1441.3,1522.9 L1441.3,1519.3 L1441.3,1515.7 L1441.3,1512.2 L1441.3,1508.6 L1441.3,1505 L1441.3,1501.4 L1441.3,1497.9 L1441.3,1494.3 L1441.3,1490.7 L1441.3,1487.2 L1441.3,1483.6 L1441.3,1480 L1441.3,1476.4 L1441.3,1472.9 L1441.3,1469.3 L1441.3,1465.7 L1441.3,1462.2 L1441.3,1458.6 L1441.3,1455 L1441.3,1451.4 L1441.3,1447.9 L1441.3,1444.3 L1441.3,1440.7 L1441.3,1437.2 L1441.3,1433.6 L1441.3,1430 L1441.3,1426.5 L1441.3,1422.9 L1441.3,1419.3 L1441.3,1415.7 L1441.3,1412.2 L1441.3,1408.6 L1441.3,1408.6" fill="#2f4f4f" fill-opacity="0.1" stroke="#2f4f4f" stroke-opacity="0.85" stroke-width="1.3"/>
<path d="M1441.3,1665.7 L1441.3,1665.7 L1441.3,1662.1 L1441.3,1658.6 L1441.3,1655 L1441.3,1651.4 L1441.3,1647.8 L1441.3,1644.3 L1441.3,1640.7 L1441.5,1637.1 L1441.7,1633.6 L1442.4,1630 L1443.8,1626.4 L1446.4,1622.8 L1450.4,1619.3 L1455.6,1615.7 L1461.3,1612.1 L1466.1,1608.6 L1468.6,1605 L1467.9,1601.4 L1464.2,1597.9 L1458.8,1594.3 L1453.2,1590.7 L1448.5,1587.1 L1445.1,1583.6 L1443.1,1580 L1442.1,1576.4 L1441.6,1572.9 L1441.4,1569.3 L1441.3,1565.7 L1441.3,1562.1 L1441.3,1558.6 L1441.3,1555 L1441.3,1551.4 L1441.3,1547.9 L1441.3,1544.3 L1441.3,1540.7 L1441.3,1537.2 L1441.3,1533.6 L1441.3,1530 L1441.3,1526.4 L1441.3,1522.9 L1441.3,1519.3 L1441.3,1515.7 L1441.3,1512.2 L1441.3,1508.6 L1441.3,1505 L1441.3,1501.4 L1441.3,1497.9 L1441.3,1494.3 L1441.3,1490.7 L1441.3,1487.2 L1441.3,1483.6 L1441.3,1480 L1441.3,1476.4 L1441.3,1472.9 L1441.3,1469.3 L1441.3,1465.7 L1441.3,1462.2 L1441.3,1458.6 L1441.3,1455 L1441.3,1451.4 L1441.3,1447.9 L1441.3,1444.3 L1441.3,1440.7 L1441.3,1437.2 L1441.3,1433.6 L1441.3,1430 L1441.3,1426.5 L1441.3,1422.9 L1441.3,1419.3 L1441.3,1415.7 L1441.3,1412.2 L1441.3,1408.6 L1441.3,1408.6" fill="#2f4f4f" fill-opacity="0.1" stroke="#2f4f4f" stroke-opacity="0.85" stroke-width="1.3"/>
<path d="M1441.3,1665.7 L1441.3,1665.7 L1441.3,1662.1 L1441.3,1658.6 L1441.3,1655 L1441.3,1651.4 L1441.3,1647.8 L1441.3,1644.3 L1441.3,1640.7 L1441.3,1637.1 L1441.3,1633.6 L1441.4,1630 L1441.6,1626.4 L1441.9,1622.8 L1442.5,1619.3 L1443.5,1615.7 L1445,1612.1 L1447.3,1608.6 L1450.1,1605 L1453.4,1601.4 L1456.7,1597.9 L1459.4,1594.3 L1461,1590.7 L1461.2,1587.1 L1459.8,1583.6 L1457.3,1580 L1454.1,1576.4 L1450.8,1572.9 L1447.8,1569.3 L1445.4,1565.7 L1443.7,1562.1 L1442.6,1558.6 L1442,1555 L1441.6,1551.4 L1441.4,1547.9 L1441.4,1544.3 L1441.3,1540.7 L1441.3,1537.2 L1441.3,1533.6 L1441.3,1530 L1441.3,1526.4 L1441.3,1522.9 L1441.3,1519.3 L1441.3,1515.7 L1441.3,1512.2 L1441.3,1508.6 L1441.3,1505 L1441.3,1501.4 L1441.3,1497.9 L1441.3,1494.3 L1441.3,1490.7 L1441.3,1487.2 L1441.3,1483.6 L1441.3,1480 L1441.3,1476.4 L1441.3,1472.9 L1441.3,1469.3 L1441.3,1465.7 L1441.3,1462.2 L1441.3,1458.6 L1441.3,1455 L1441.3,1451.4 L1441.3,1447.9 L1441.3,1444.3 L1441.3,1440.7 L1441.3,1437.2 L1441.3,1433.6 L1441.3,1430 L1441.3,1426.5 L1441.3,1422.9 L1441.3,1419.3 L1441.3,1415.7 L1441.3,1412.2 L1441.3,1408.6 L1441.3,1408.6" fill="#2f4f4f" fill-opacity="0.1" stroke="#2f4f4f" stroke-opacity="0.85" stroke-width="1.3"/>
<path d="M1441.3,1665.7 L1441.3,1665.7 L1441.3,1662.1 L1441.3,1658.6 L1441.3,1655 L1441.3,1651.4 L1441.3,1647.8 L1441.3,1644.3 L1441.3,1640.7 L1441.3,1637.1 L1441.3,1633.6 L1441.3,1630 L1441.3,1626.4 L1441.3,1622.8 L1441.3,1619.3 L1441.3,1615.7 L1441.3,1612.1 L1441.3,1608.6 L1441.3,1605 L1441.3,1601.4 L1441.3,1597.9 L1441.3,1594.3 L1441.3,1590.7 L1441.3,1587.1 L1441.3,1583.6 L1441.3,1580 L1441.3,1576.4 L1441.4,1572.9 L1441.4,1569.3 L1441.5,1565.7 L1441.6,1562.1 L1441.8,1558.6 L1442.1,1555 L1442.5,1551.4 L1443,1547.9 L1443.8,1544.3 L1444.7,1540.7 L1445.8,1537.2 L1447.1,1533.6 L1448.6,1530 L1450.2,1526.4 L1451.8,1522.9 L1453.3,1519.3 L1454.7,1515.7 L1455.7,1512.2 L1456.4,1508.6 L1456.6,1505 L1456.4,1501.4 L1455.7,1497.9 L1454.7,1494.3 L1453.3,1490.7 L1451.8,1487.2 L1450.2,1483.6 L1448.6,1480 L1447.1,1476.4 L1445.8,1472.9 L1444.7,1469.3 L1443.8,1465.7 L1443,1462.2 L1442.5,1458.6 L1442.1,1455 L1441.8,1451.4 L1441.6,1447.9 L1441.5,1444.3 L1441.4,1440.7 L1441.4,1437.2 L1441.3,1433.6 L1441.3,1430 L1441.3,1426.5 L1441.3,1422.9 L1441.3,1419.3 L1441.3,1415.7 L1441.3,1412.2 L1441.3,1408.6 L1441.3,1408.6" fill="#2f4f4f" fill-opacity="0.1" stroke="#2f4f4f" stroke-opacity="0.85" stroke-width="1.3"/>
<path d="M1441.3,1665.7 L1441.3,1665.7 L1441.3,1662.1 L1441.3,1658.6 L1441.4,1655 L1441.5,1651.4 L1441.7,1647.8 L1442.1,1644.3 L1442.8,1640.7 L1443.8,1637.1 L1445.2,1633.6 L1447,1630 L1449,1626.4 L1450.9,1622.8 L1452.4,1619.3 L1453.2,1615.7 L1453.1,1612.1 L1452.2,1608.6 L1450.5,1605 L1448.6,1601.4 L1446.6,1597.9 L1444.9,1594.3 L1443.5,1590.7 L1442.6,1587.1 L1442,1583.6 L1441.6,1580 L1441.5,1576.4 L1441.4,1572.9 L1441.3,1569.3 L1441.3,1565.7 L1441.3,1562.1 L1441.3,1558.6 L1441.3,1555 L1441.3,1551.4 L1441.3,1547.9 L1441.3,1544.3 L1441.3,1540.7 L1441.3,1537.2 L1441.3,1533.6 L1441.3,1530 L1441.3,1526.4 L1441.3,1522.9 L1441.3,1519.3 L1441.3,1515.7 L1441.3,1512.2 L1441.3,1508.6 L1441.3,1505 L1441.3,1501.4 L1441.3,1497.9 L1441.3,1494.3 L1441.3,1490.7 L1441.3,1487.2 L1441.3,1483.6 L1441.4,1480 L1441.5,1476.4 L1441.7,1472.9 L1441.9,1469.3 L1442.3,1465.7 L1442.9,1462.2 L1443.6,1458.6 L1444.5,1455 L1445.6,1451.4 L1446.7,1447.9 L1447.8,1444.3 L1448.6,1440.7 L1449.2,1437.2 L1449.3,1433.6 L1449,1430 L1448.3,1426.5 L1447.4,1422.9 L1446.3,1419.3 L1445.2,1415.7 L1444.2,1412.2 L1443.3,1408.6 L1441.3,1408.6" fill="#2f4f4f" fill-opacity="0.1" stroke="#2f4f4f" stroke-opacity="0.85" stroke-width="1.3"/>
<path d="M1441.3,1665.7 L1441.3,1665.7 L1441.4,1662.1 L1441.5,1658.6 L1441.7,1655 L1442.1,1651.4 L1442.9,1647.8 L1444.1,1644.3 L1445.9,1640.7 L1448.3,1637.1 L1451.1,1633.6 L1454.1,1630 L1456.8,1626.4 L1458.7,1622.8 L1459.3,1619.3 L1458.6,1615.7 L1456.6,1612.1 L1453.9,1608.6 L1450.9,1605 L1448.1,1601.4 L1445.7,1597.9 L1444,1594.3 L1442.8,1590.7 L1442.1,1587.1 L1441.7,1583.6 L1441.5,1580 L1441.4,1576.4 L1441.3,1572.9 L1441.3,1569.3 L1441.3,1565.7 L1441.3,1562.1 L1441.3,1558.6 L1441.3,1555 L1441.3,1551.4 L1441.3,1547.9 L1441.3,1544.3 L1441.3,1540.7 L1441.3,1537.2 L1441.3,1533.6 L1441.3,1530 L1441.3,1526.4 L1441.3,1522.9 L1441.3,1519.3 L1441.3,1515.7 L1441.3,1512.2 L1441.3,1508.6 L1441.3,1505 L1441.3,1501.4 L1441.3,1497.9 L1441.3,1494.3 L1441.3,1490.7 L1441.3,1487.2 L1441.3,1483.6 L1441.3,1480 L1441.3,1476.4 L1441.3,1472.9 L1441.3,1469.3 L1441.3,1465.7 L1441.3,1462.2 L1441.3,1458.6 L1441.3,1455 L1441.3,1451.4 L1441.3,1447.9 L1441.3,1444.3 L1441.3,1440.7 L1441.3,1437.2 L1441.3,1433.6 L1441.3,1430 L1441.3,1426.5 L1441.3,1422.9 L1441.3,1419.3 L1441.3,1415.7 L1441.3,1412.2 L1441.3,1408.6 L1441.3,1408.6" fill="#2f4f4f" fill-opacity="0.1" stroke="#2f4f4f" stroke-opacity="0.85" stroke-width="1.3"/>
<g fill="#2f4f4f">
<ellipse cx="1249.2" cy="1595.4" rx="20.1" ry="20.3" fill-opacity="0.080"/>
<ellipse cx="1249.4" cy="1595.3" rx="16.5" ry="16.5" fill-opacity="0.076"/>
<ellipse cx="1249.6" cy="1595.2" rx="13" ry="13" fill-opacity="0.118"/>
<ellipse cx="1249.8" cy="1595.1" rx="10" ry="10" fill-opacity="0.133"/>
<ellipse cx="1250" cy="1595" rx="7.3" ry="7.3" fill-opacity="0.154"/>
</g>
<g fill="#f58c1e">
<ellipse cx="1194.3" cy="1647.9" rx="13.6" ry="11.3" fill-opacity="0.080"/>
<ellipse cx="1193.8" cy="1648.6" rx="10" ry="8.5" fill-opacity="0.109"/>
<ellipse cx="1193.4" cy="1649.2" rx="7" ry="6.3" fill-opacity="0.171"/>
<ellipse cx="1193.1" cy="1649.7" rx="5" ry="4.5" fill-opacity="0.235"/>
</g>
<path d="M1727.9,1402.7 L1727.9,1402.7 L1731.6,1402.7 L1735.3,1402.7 L1739,1402.7 L1742.6,1402.7 L1746.3,1402.7 L1750,1402.7 L1753.7,1402.7 L1757.4,1402.7 L1761.1,1402.7 L1764.7,1402.7 L1768.4,1402.7 L1772.1,1402.7 L1775.8,1402.7 L1779.5,1402.7 L1783.2,1402.7 L1786.9,1402.7 L1790.5,1402.7 L1794.2,1402.7 L1797.9,1402.7 L1801.6,1402.6 L1805.3,1402.6 L1809,1402.6 L1812.6,1402.5 L1816.3,1402.4 L1820,1402.2 L1823.7,1402 L1827.4,1401.8 L1831.1,1401.4 L1834.8,1400.9 L1838.4,1400.4 L1842.1,1399.7 L1845.8,1398.9 L1849.5,1398 L1853.2,1396.9 L1856.9,1395.7 L1860.6,1394.5 L1864.2,1393.2 L1867.9,1392 L1871.6,1390.8 L1875.3,1389.8 L1879,1388.9 L1882.7,1388.2 L1886.3,1387.8 L1890,1387.7 L1893.7,1387.9 L1897.4,1388.3 L1901.1,1389 L1904.8,1389.9 L1908.5,1391 L1912.1,1392.2 L1915.8,1393.5 L1919.5,1394.7 L1923.2,1395.9 L1926.9,1397.1 L1930.6,1398.1 L1934.2,1399 L1937.9,1399.8 L1941.6,1400.5 L1945.3,1401 L1949,1401.5 L1952.7,1401.8 L1956.4,1402.1 L1960,1402.3 L1963.7,1402.4 L1967.4,1402.5 L1971.1,1402.6 L1974.8,1402.6 L1978.5,1402.6 L1982.1,1402.7 L1985.8,1402.7 L1989.5,1402.7 L1993.2,1402.7 L1993.2,1402.7" fill="#2f4f4f" fill-opacity="0.1" stroke="#2f4f4f" stroke-opacity="0.85" stroke-width="1.3"/>
<path d="M1727.9,1402.7 L1727.9,1402.6 L1730,1402.5 L1731.6,1402.4 L1733.7,1402.1 L1735.3,1401.8 L1737.5,1401.1 L1739,1400.3 L1741.2,1398.8 L1742.6,1397.4 L1744.9,1394.7 L1746.3,1392.6 L1748.6,1388.7 L1750,1386.1 L1752.3,1381.8 L1753.7,1379.4 L1756,1376.1 L1757.4,1374.8 L1759.7,1373.9 L1761.1,1374.2 L1763.5,1376.1 L1764.7,1377.8 L1767.2,1381.8 L1768.4,1384.1 L1770.9,1388.7 L1772.1,1390.9 L1774.6,1394.7 L1775.8,1396.3 L1778.3,1398.8 L1779.5,1399.7 L1782,1401.1 L1783.2,1401.5 L1785.7,1402.1 L1786.9,1402.3 L1789.4,1402.5 L1790.5,1402.6 L1794.2,1402.7 L1797.9,1402.7 L1801.6,1402.7 L1805.3,1402.7 L1809,1402.7 L1812.6,1402.7 L1816.3,1402.7 L1820,1402.7 L1823.7,1402.7 L1827.4,1402.7 L1831.1,1402.7 L1834.8,1402.7 L1838.4,1402.7 L1842.1,1402.7 L1845.8,1402.7 L1849.5,1402.7 L1853.2,1402.7 L1856.9,1402.7 L1860.6,1402.7 L1864.2,1402.7 L1867.9,1402.7 L1871.6,1402.7 L1875.3,1402.7 L1879,1402.7 L1882.7,1402.7 L1886.3,1402.7 L1890,1402.7 L1893.7,1402.7 L1897.4,1402.7 L1901.1,1402.7 L1904.8,1402.7 L1908.5,1402.7 L1912.1,1402.7 L1915.8,1402.7 L1919.5,1402.7 L1923.2,1402.7 L1926.9,1402.7 L1930.6,1402.7 L1934.2,1402.7 L1937.9,1402.7 L1941.6,1402.7 L1945.3,1402.7 L1949,1402.7 L1952.7,1402.7 L1956.4,1402.7 L1960,1402.7 L1963.7,1402.7 L1967.4,1402.7 L1971.1,1402.7 L1974.8,1402.7 L1978.5,1402.7 L1982.1,1402.7 L1985.8,1402.7 L1989.5,1402.7 L1993.2,1402.7 L1993.2,1402.7" fill="#2f4f4f" fill-opacity="0.1" stroke="#2f4f4f" stroke-opacity="0.85" stroke-width="1.3"/>
<path d="M1727.9,1402.7 L1727.9,1402.7 L1731.6,1402.7 L1735.3,1402.7 L1739,1402.7 L1742.6,1402.7 L1746.3,1402.7 L1750,1402.6 L1753.7,1402.5 L1757.4,1402 L1761.1,1401 L1764.7,1399.2 L1768.4,1396 L1772.1,1391.3 L1775.8,1385.7 L1779.5,1380.1 L1783.2,1376.2 L1786.9,1375 L1790.5,1377.2 L1794.2,1381.8 L1797.9,1387.5 L1801.6,1392.9 L1805.3,1397.1 L1809,1399.9 L1812.6,1401.4 L1816.3,1402.2 L1820,1402.5 L1823.7,1402.6 L1827.4,1402.7 L1831.1,1402.7 L1834.8,1402.7 L1838.4,1402.7 L1842.1,1402.7 L1845.8,1402.7 L1849.5,1402.7 L1853.2,1402.7 L1856.9,1402.7 L1860.6,1402.7 L1864.2,1402.7 L1867.9,1402.7 L1871.6,1402.7 L1875.3,1402.7 L1879,1402.7 L1882.7,1402.7 L1886.3,1402.7 L1890,1402.7 L1893.7,1402.7 L1897.4,1402.7 L1901.1,1402.7 L1904.8,1402.7 L1908.5,1402.7 L1912.1,1402.7 L1915.8,1402.7 L1919.5,1402.7 L1923.2,1402.7 L1926.9,1402.7 L1930.6,1402.7 L1934.2,1402.7 L1937.9,1402.7 L1941.6,1402.7 L1945.3,1402.7 L1949,1402.7 L1952.7,1402.7 L1956.4,1402.7 L1960,1402.7 L1963.7,1402.7 L1967.4,1402.7 L1971.1,1402.7 L1974.8,1402.7 L1978.5,1402.7 L1982.1,1402.7 L1985.8,1402.7 L1989.5,1402.7 L1993.2,1402.7 L1993.2,1402.7" fill="#2f4f4f" fill-opacity="0.1" stroke="#2f4f4f" stroke-opacity="0.85" stroke-width="1.3"/>
<path d="M1727.9,1402.7 L1727.9,1402.7 L1731.6,1402.6 L1735.3,1402.6 L1739,1402.5 L1742.6,1402.4 L1746.3,1402.1 L1750,1401.7 L1753.7,1401.2 L1757.4,1400.4 L1761.1,1399.2 L1764.7,1397.8 L1768.4,1396 L1772.1,1393.8 L1775.8,1391.5 L1779.5,1389.1 L1783.2,1386.8 L1786.9,1384.9 L1790.5,1383.5 L1794.2,1382.8 L1797.9,1382.8 L1801.6,1383.6 L1805.3,1385.1 L1809,1387.1 L1812.6,1389.4 L1816.3,1391.8 L1820,1394.1 L1823.7,1396.2 L1827.4,1398 L1831.1,1399.4 L1834.8,1400.5 L1838.4,1401.3 L1842.1,1401.8 L1845.8,1402.2 L1849.5,1402.4 L1853.2,1402.5 L1856.9,1402.6 L1860.6,1402.7 L1864.2,1402.7 L1867.9,1402.7 L1871.6,1402.7 L1875.3,1402.7 L1879,1402.7 L1882.7,1402.7 L1886.3,1402.7 L1890,1402.7 L1893.7,1402.7 L1897.4,1402.7 L1901.1,1402.7 L1904.8,1402.7 L1908.5,1402.7 L1912.1,1402.7 L1915.8,1402.7 L1919.5,1402.7 L1923.2,1402.7 L1926.9,1402.7 L1930.6,1402.7 L1934.2,1402.7 L1937.9,1402.7 L1941.6,1402.7 L1945.3,1402.7 L1949,1402.7 L1952.7,1402.7 L1956.4,1402.7 L1960,1402.7 L1963.7,1402.7 L1967.4,1402.7 L1971.1,1402.7 L1974.8,1402.7 L1978.5,1402.7 L1982.1,1402.7 L1985.8,1402.7 L1989.5,1402.7 L1993.2,1402.7 L1993.2,1402.7" fill="#2f4f4f" fill-opacity="0.1" stroke="#2f4f4f" stroke-opacity="0.85" stroke-width="1.3"/>
<path d="M1727.9,1402.7 L1727.9,1402.5 L1731.6,1402.4 L1735.3,1402.4 L1739,1402.3 L1742.6,1402.2 L1746.3,1402.1 L1750,1401.9 L1753.7,1401.6 L1757.4,1401.3 L1761.1,1400.8 L1764.7,1400.1 L1768.4,1399.2 L1772.1,1398.1 L1775.8,1396.8 L1779.5,1395.3 L1783.2,1393.7 L1786.9,1391.9 L1790.5,1390.2 L1794.2,1388.6 L1797.9,1387.3 L1801.6,1386.3 L1805.3,1385.7 L1809,1385.6 L1812.6,1385.9 L1816.3,1386.7 L1820,1387.9 L1823.7,1389.3 L1827.4,1390.8 L1831.1,1392.4 L1834.8,1394 L1838.4,1395.3 L1842.1,1396.6 L1845.8,1397.5 L1849.5,1398.3 L1853.2,1398.9 L1856.9,1399.3 L1860.6,1399.6 L1864.2,1399.7 L1867.9,1399.8 L1871.6,1399.8 L1875.3,1399.7 L1879,1399.7 L1882.7,1399.6 L1886.3,1399.5 L1890,1399.4 L1893.7,1399.3 L1897.4,1399.2 L1901.1,1399.1 L1904.8,1399 L1908.5,1398.8 L1912.1,1398.7 L1915.8,1398.6 L1919.5,1398.5 L1923.2,1398.4 L1926.9,1398.3 L1930.6,1398.2 L1934.2,1398.2 L1937.9,1398.1 L1941.6,1398 L1945.3,1397.9 L1949,1397.8 L1952.7,1397.8 L1956.4,1397.7 L1960,1397.7 L1963.7,1397.6 L1967.4,1397.6 L1971.1,1397.5 L1974.8,1397.5 L1978.5,1397.5 L1982.1,1397.4 L1985.8,1397.4 L1989.5,1397.4 L1993.2,1397.4 L1993.2,1402.7" fill="#2f4f4f" fill-opacity="0.1" stroke="#2f4f4f" stroke-opacity="0.85" stroke-width="1.3"/>
<path d="M1727.9,1402.7 L1727.9,1401.2 L1731.6,1401.1 L1735.3,1400.9 L1739,1400.8 L1742.6,1400.7 L1746.3,1400.5 L1750,1400.4 L1753.7,1400.2 L1757.4,1400.1 L1761.1,1399.9 L1764.7,1399.7 L1768.4,1399.6 L1772.1,1399.4 L1775.8,1399.2 L1779.5,1399 L1783.2,1398.8 L1786.9,1398.7 L1790.5,1398.5 L1794.2,1398.3 L1797.9,1398.1 L1801.6,1397.9 L1805.3,1397.7 L1809,1397.6 L1812.6,1397.4 L1816.3,1397.2 L1820,1397.1 L1823.7,1396.9 L1827.4,1396.7 L1831.1,1396.6 L1834.8,1396.5 L1838.4,1396.3 L1842.1,1396.2 L1845.8,1396.1 L1849.5,1396 L1853.2,1395.9 L1856.9,1395.8 L1860.6,1395.7 L1864.2,1395.6 L1867.9,1395.6 L1871.6,1395.5 L1875.3,1395.5 L1879,1395.4 L1882.7,1395.4 L1886.3,1395.4 L1890,1395.4 L1893.7,1395.4 L1897.4,1395.4 L1901.1,1395.4 L1904.8,1395.4 L1908.5,1395.4 L1912.1,1395.5 L1915.8,1395.5 L1919.5,1395.5 L1923.2,1395.6 L1926.9,1395.6 L1930.6,1395.7 L1934.2,1395.8 L1937.9,1395.8 L1941.6,1395.9 L1945.3,1396 L1949,1396 L1952.7,1396.1 L1956.4,1396.2 L1960,1396.3 L1963.7,1396.4 L1967.4,1396.5 L1971.1,1396.6 L1974.8,1396.7 L1978.5,1396.8 L1982.1,1396.9 L1985.8,1397 L1989.5,1397.1 L1993.2,1397.2 L1993.2,1402.7" fill="#2f4f4f" fill-opacity="0.1" stroke="#2f4f4f" stroke-opacity="0.85" stroke-width="1.3"/>
<path d="M1727.9,1402.7 L1727.9,1318.7 L1731.5,1325.2 L1731.6,1325.4 L1735.1,1341.7 L1735.3,1342.5 L1738.7,1361.8 L1739,1363.1 L1742.3,1379.3 L1742.6,1380.6 L1745.9,1391.3 L1746.3,1392.3 L1749.5,1398 L1750,1398.5 L1753.2,1401 L1753.7,1401.3 L1756.8,1402.2 L1757.4,1402.3 L1761.1,1402.6 L1764.7,1402.7 L1768.4,1402.7 L1772.1,1402.7 L1775.8,1402.7 L1779.5,1402.7 L1783.2,1402.7 L1786.9,1402.7 L1790.5,1402.7 L1794.2,1402.7 L1797.9,1402.7 L1801.6,1402.7 L1805.3,1402.7 L1809,1402.7 L1812.6,1402.7 L1816.3,1402.7 L1820,1402.7 L1823.7,1402.7 L1827.4,1402.7 L1831.1,1402.7 L1834.8,1402.7 L1838.4,1402.7 L1842.1,1402.7 L1845.8,1402.7 L1849.5,1402.7 L1853.2,1402.7 L1856.9,1402.7 L1860.6,1402.7 L1864.2,1402.7 L1867.9,1402.7 L1871.6,1402.7 L1875.3,1402.7 L1879,1402.7 L1882.7,1402.7 L1886.3,1402.7 L1890,1402.7 L1893.7,1402.7 L1897.4,1402.7 L1901.1,1402.7 L1904.8,1402.7 L1908.5,1402.7 L1912.1,1402.7 L1915.8,1402.7 L1919.5,1402.7 L1923.2,1402.7 L1926.9,1402.7 L1930.6,1402.7 L1934.2,1402.7 L1937.9,1402.7 L1941.6,1402.7 L1945.3,1402.7 L1949,1402.7 L1952.7,1402.7 L1956.4,1402.7 L1960,1402.7 L1963.7,1402.7 L1967.4,1402.7 L1971.1,1402.7 L1974.8,1402.7 L1978.5,1402.7 L1982.1,1402.7 L1985.8,1402.7 L1989.5,1402.7 L1993.2,1402.7 L1993.2,1402.7" fill="#ee9530" fill-opacity="0.18" stroke="#ee9530" stroke-opacity="0.85" stroke-width="1.3"/>
<path d="M1727.9,1402.7 L1727.9,1335.7 L1730,1340.9 L1731.6,1350.1 L1732.1,1354 L1734.3,1370.1 L1735.3,1377.2 L1736.4,1384.1 L1738.5,1393.6 L1739,1395.1 L1740.6,1398.9 L1742.6,1401.3 L1742.8,1401.4 L1744.9,1402.3 L1746.3,1402.5 L1750,1402.7 L1753.7,1402.7 L1757.4,1402.7 L1761.1,1402.7 L1764.7,1402.7 L1768.4,1402.7 L1772.1,1402.7 L1775.8,1402.7 L1779.5,1402.7 L1783.2,1402.7 L1786.9,1402.7 L1790.5,1402.7 L1794.2,1402.7 L1797.9,1402.7 L1801.6,1402.7 L1805.3,1402.7 L1809,1402.7 L1812.6,1402.7 L1816.3,1402.7 L1820,1402.7 L1823.7,1402.7 L1827.4,1402.7 L1831.1,1402.7 L1834.8,1402.7 L1838.4,1402.7 L1842.1,1402.7 L1845.8,1402.7 L1849.5,1402.7 L1853.2,1402.7 L1856.9,1402.7 L1860.6,1402.7 L1864.2,1402.7 L1867.9,1402.7 L1871.6,1402.7 L1875.3,1402.7 L1879,1402.7 L1882.7,1402.7 L1886.3,1402.7 L1890,1402.7 L1893.7,1402.7 L1897.4,1402.7 L1901.1,1402.7 L1904.8,1402.7 L1908.5,1402.7 L1912.1,1402.7 L1915.8,1402.7 L1919.5,1402.7 L1923.2,1402.7 L1926.9,1402.7 L1930.6,1402.7 L1934.2,1402.7 L1937.9,1402.7 L1941.6,1402.7 L1945.3,1402.7 L1949,1402.7 L1952.7,1402.7 L1956.4,1402.7 L1960,1402.7 L1963.7,1402.7 L1967.4,1402.7 L1971.1,1402.7 L1974.8,1402.7 L1978.5,1402.7 L1982.1,1402.7 L1985.8,1402.7 L1989.5,1402.7 L1993.2,1402.7 L1993.2,1402.7" fill="#ee9530" fill-opacity="0.16" stroke="#ee9530" stroke-opacity="0.85" stroke-width="1.3"/>
<path d="M1727.9,1402.7 L1727.9,1388.9 L1729.2,1386.2 L1731.6,1381 L1732.9,1378 L1735.3,1373.5 L1736.7,1371.3 L1739,1369.1 L1740.4,1368.7 L1742.6,1369.7 L1744.1,1371.3 L1746.3,1375 L1747.8,1378 L1750,1382.9 L1751.5,1386.2 L1753.7,1390.6 L1755.2,1393.2 L1757.4,1396.3 L1758.9,1398.1 L1761.1,1399.9 L1762.7,1400.8 L1764.7,1401.6 L1766.4,1402 L1768.4,1402.3 L1770.1,1402.5 L1772.1,1402.6 L1775.8,1402.7 L1779.5,1402.7 L1783.2,1402.7 L1786.9,1402.7 L1790.5,1402.7 L1794.2,1402.7 L1797.9,1402.7 L1801.6,1402.7 L1805.3,1402.7 L1809,1402.7 L1812.6,1402.7 L1816.3,1402.7 L1820,1402.7 L1823.7,1402.7 L1827.4,1402.7 L1831.1,1402.7 L1834.8,1402.7 L1838.4,1402.7 L1842.1,1402.7 L1845.8,1402.7 L1849.5,1402.7 L1853.2,1402.7 L1856.9,1402.7 L1860.6,1402.7 L1864.2,1402.7 L1867.9,1402.7 L1871.6,1402.7 L1875.3,1402.7 L1879,1402.7 L1882.7,1402.7 L1886.3,1402.7 L1890,1402.7 L1893.7,1402.7 L1897.4,1402.7 L1901.1,1402.7 L1904.8,1402.7 L1908.5,1402.7 L1912.1,1402.7 L1915.8,1402.7 L1919.5,1402.7 L1923.2,1402.7 L1926.9,1402.7 L1930.6,1402.7 L1934.2,1402.7 L1937.9,1402.7 L1941.6,1402.7 L1945.3,1402.7 L1949,1402.7 L1952.7,1402.7 L1956.4,1402.7 L1960,1402.7 L1963.7,1402.7 L1967.4,1402.7 L1971.1,1402.7 L1974.8,1402.7 L1978.5,1402.7 L1982.1,1402.7 L1985.8,1402.7 L1989.5,1402.7 L1993.2,1402.7 L1993.2,1402.7" fill="#ee9530" fill-opacity="0.16" stroke="#ee9530" stroke-opacity="0.85" stroke-width="1.3"/>
<path d="M1727.9,1402.7 L1727.9,1397.7 L1731.6,1395.6 L1735.3,1393 L1739,1390.2 L1742.6,1387.5 L1746.3,1385.1 L1750,1383.5 L1753.7,1382.7 L1757.4,1383 L1761.1,1384.4 L1764.7,1386.5 L1768.4,1389.1 L1772.1,1391.9 L1775.8,1394.6 L1779.5,1396.9 L1783.2,1398.8 L1786.9,1400.2 L1790.5,1401.2 L1794.2,1401.8 L1797.9,1402.2 L1801.6,1402.5 L1805.3,1402.6 L1809,1402.6 L1812.6,1402.7 L1816.3,1402.7 L1820,1402.7 L1823.7,1402.7 L1827.4,1402.7 L1831.1,1402.7 L1834.8,1402.7 L1838.4,1402.7 L1842.1,1402.7 L1845.8,1402.7 L1849.5,1402.7 L1853.2,1402.7 L1856.9,1402.7 L1860.6,1402.7 L1864.2,1402.7 L1867.9,1402.7 L1871.6,1402.7 L1875.3,1402.7 L1879,1402.7 L1882.7,1402.7 L1886.3,1402.7 L1890,1402.7 L1893.7,1402.7 L1897.4,1402.7 L1901.1,1402.7 L1904.8,1402.7 L1908.5,1402.7 L1912.1,1402.7 L1915.8,1402.7 L1919.5,1402.7 L1923.2,1402.7 L1926.9,1402.7 L1930.6,1402.7 L1934.2,1402.7 L1937.9,1402.7 L1941.6,1402.7 L1945.3,1402.7 L1949,1402.7 L1952.7,1402.7 L1956.4,1402.7 L1960,1402.7 L1963.7,1402.7 L1967.4,1402.7 L1971.1,1402.7 L1974.8,1402.7 L1978.5,1402.7 L1982.1,1402.7 L1985.8,1402.7 L1989.5,1402.7 L1993.2,1402.7 L1993.2,1402.7" fill="#ee9530" fill-opacity="0.14" stroke="#ee9530" stroke-opacity="0.85" stroke-width="1.3"/>
<path d="M1996.3,1665.7 L2061.3,1665.7 L2056.3,1662.6 L2054.7,1662.1 L2043.5,1659.5 L2038.6,1658.6 L2027.9,1656.4 L2021.1,1655 L2014.4,1653.4 L2008,1651.4 L2005.1,1650.3 L2000.8,1647.8 L1999.9,1647.2 L1997.7,1644.3 L1997.6,1644.1 L1996.7,1641 L1996.6,1640.7 L1996.4,1637.1 L1996.3,1633.6 L1996.3,1630 L1996.3,1626.4 L1996.3,1622.8 L1996.3,1619.3 L1996.3,1615.7 L1996.3,1612.1 L1996.3,1608.6 L1996.3,1605 L1996.3,1601.4 L1996.3,1597.9 L1996.3,1594.3 L1996.3,1590.7 L1996.3,1587.1 L1996.3,1583.6 L1996.3,1580 L1996.3,1576.4 L1996.3,1572.9 L1996.3,1569.3 L1996.3,1565.7 L1996.3,1562.1 L1996.3,1558.6 L1996.3,1555 L1996.3,1551.4 L1996.3,1547.9 L1996.3,1544.3 L1996.3,1540.7 L1996.3,1537.2 L1996.3,1533.6 L1996.3,1530 L1996.3,1526.4 L1996.3,1522.9 L1996.3,1519.3 L1996.3,1515.7 L1996.3,1512.2 L1996.3,1508.6 L1996.3,1505 L1996.3,1501.4 L1996.3,1497.9 L1996.3,1494.3 L1996.3,1490.7 L1996.3,1487.2 L1996.3,1483.6 L1996.3,1480 L1996.3,1476.4 L1996.3,1472.9 L1996.3,1469.3 L1996.3,1465.7 L1996.3,1462.2 L1996.3,1458.6 L1996.3,1455 L1996.3,1451.4 L1996.3,1447.9 L1996.3,1444.3 L1996.3,1440.7 L1996.3,1437.2 L1996.3,1433.6 L1996.3,1430 L1996.3,1426.5 L1996.3,1422.9 L1996.3,1419.3 L1996.3,1415.7 L1996.3,1412.2 L1996.3,1408.6 L1996.3,1408.6" fill="#ee9530" fill-opacity="0.22" stroke="#ee9530" stroke-opacity="0.85" stroke-width="1.3"/>
<path d="M1996.3,1665.7 L2021.3,1665.7 L2021,1662.1 L2020.1,1658.6 L2018.8,1655 L2017,1651.4 L2014.9,1647.8 L2012.6,1644.3 L2010.2,1640.7 L2008,1637.1 L2005.8,1633.6 L2003.9,1630 L2002.2,1626.4 L2000.8,1622.8 L1999.6,1619.3 L1998.7,1615.7 L1998,1612.1 L1997.5,1608.6 L1997.1,1605 L1996.8,1601.4 L1996.6,1597.9 L1996.5,1594.3 L1996.4,1590.7 L1996.4,1587.1 L1996.3,1583.6 L1996.3,1580 L1996.3,1576.4 L1996.3,1572.9 L1996.3,1569.3 L1996.3,1565.7 L1996.3,1562.1 L1996.3,1558.6 L1996.3,1555 L1996.3,1551.4 L1996.3,1547.9 L1996.3,1544.3 L1996.3,1540.7 L1996.3,1537.2 L1996.3,1533.6 L1996.3,1530 L1996.3,1526.4 L1996.3,1522.9 L1996.3,1519.3 L1996.3,1515.7 L1996.3,1512.2 L1996.3,1508.6 L1996.3,1505 L1996.3,1501.4 L1996.3,1497.9 L1996.3,1494.3 L1996.3,1490.7 L1996.3,1487.2 L1996.3,1483.6 L1996.3,1480 L1996.3,1476.4 L1996.3,1472.9 L1996.3,1469.3 L1996.3,1465.7 L1996.3,1462.2 L1996.3,1458.6 L1996.3,1455 L1996.3,1451.4 L1996.3,1447.9 L1996.3,1444.3 L1996.3,1440.7 L1996.3,1437.2 L1996.3,1433.6 L1996.3,1430 L1996.3,1426.5 L1996.3,1422.9 L1996.3,1419.3 L1996.3,1415.7 L1996.3,1412.2 L1996.3,1408.6 L1996.3,1408.6" fill="#ee9530" fill-opacity="0.2" stroke="#ee9530" stroke-opacity="0.85" stroke-width="1.3"/>
<path d="M1996.3,1665.7 L2029.8,1665.7 L2033,1662.1 L2034.3,1658.6 L2033.6,1655 L2031,1651.4 L2026.9,1647.8 L2021.9,1644.3 L2016.6,1640.7 L2011.5,1637.1 L2007.1,1633.6 L2003.6,1630 L2001,1626.4 L1999.1,1622.8 L1997.9,1619.3 L1997.2,1615.7 L1996.8,1612.1 L1996.5,1608.6 L1996.4,1605 L1996.3,1601.4 L1996.3,1597.9 L1996.3,1594.3 L1996.3,1590.7 L1996.3,1587.1 L1996.3,1583.6 L1996.3,1580 L1996.3,1576.4 L1996.3,1572.9 L1996.3,1569.3 L1996.3,1565.7 L1996.3,1562.1 L1996.3,1558.6 L1996.3,1555 L1996.3,1551.4 L1996.3,1547.9 L1996.3,1544.3 L1996.3,1540.7 L1996.3,1537.2 L1996.3,1533.6 L1996.3,1530 L1996.3,1526.4 L1996.3,1522.9 L1996.3,1519.3 L1996.3,1515.7 L1996.3,1512.2 L1996.3,1508.6 L1996.3,1505 L1996.3,1501.4 L1996.3,1497.9 L1996.3,1494.3 L1996.3,1490.7 L1996.3,1487.2 L1996.3,1483.6 L1996.3,1480 L1996.3,1476.4 L1996.3,1472.9 L1996.3,1469.3 L1996.3,1465.7 L1996.3,1462.2 L1996.3,1458.6 L1996.3,1455 L1996.3,1451.4 L1996.3,1447.9 L1996.3,1444.3 L1996.3,1440.7 L1996.3,1437.2 L1996.3,1433.6 L1996.3,1430 L1996.3,1426.5 L1996.3,1422.9 L1996.3,1419.3 L1996.3,1415.7 L1996.3,1412.2 L1996.3,1408.6 L1996.3,1408.6" fill="#ee9530" fill-opacity="0.18" stroke="#ee9530" stroke-opacity="0.85" stroke-width="1.3"/>
<path d="M1996.3,1665.7 L2000.5,1665.7 L2002.6,1662.1 L2005,1658.6 L2007.5,1655 L2009.6,1651.4 L2011,1647.8 L2011.3,1644.3 L2010.4,1640.7 L2008.7,1637.1 L2006.3,1633.6 L2003.8,1630 L2001.5,1626.4 L1999.6,1622.8 L1998.3,1619.3 L1997.4,1615.7 L1996.9,1612.1 L1996.6,1608.6 L1996.4,1605 L1996.3,1601.4 L1996.3,1597.9 L1996.3,1594.3 L1996.3,1590.7 L1996.3,1587.1 L1996.3,1583.6 L1996.3,1580 L1996.3,1576.4 L1996.3,1572.9 L1996.3,1569.3 L1996.3,1565.7 L1996.3,1562.1 L1996.3,1558.6 L1996.3,1555 L1996.3,1551.4 L1996.3,1547.9 L1996.3,1544.3 L1996.3,1540.7 L1996.3,1537.2 L1996.3,1533.6 L1996.3,1530 L1996.3,1526.4 L1996.3,1522.9 L1996.3,1519.3 L1996.3,1515.7 L1996.3,1512.2 L1996.3,1508.6 L1996.3,1505 L1996.3,1501.4 L1996.3,1497.9 L1996.3,1494.3 L1996.3,1490.7 L1996.3,1487.2 L1996.3,1483.6 L1996.3,1480 L1996.3,1476.4 L1996.3,1472.9 L1996.3,1469.3 L1996.3,1465.7 L1996.3,1462.2 L1996.3,1458.6 L1996.3,1455 L1996.3,1451.4 L1996.3,1447.9 L1996.3,1444.3 L1996.3,1440.7 L1996.3,1437.2 L1996.3,1433.6 L1996.3,1430 L1996.3,1426.5 L1996.3,1422.9 L1996.3,1419.3 L1996.3,1415.7 L1996.3,1412.2 L1996.3,1408.6 L1996.3,1408.6" fill="#ee9530" fill-opacity="0.14" stroke="#ee9530" stroke-opacity="0.85" stroke-width="1.3"/>
<path d="M1996.3,1665.7 L1996.3,1665.7 L1996.3,1662.1 L1996.3,1658.6 L1996.3,1655 L1996.3,1651.4 L1996.3,1647.8 L1996.3,1644.3 L1996.3,1640.7 L1996.4,1637.1 L1996.5,1633.6 L1996.8,1630 L1997.4,1626.4 L1998.8,1622.8 L2001.2,1619.3 L2004.7,1615.7 L2009.1,1612.1 L2013.6,1608.6 L2017,1605 L2018.3,1601.4 L2017,1597.9 L2013.6,1594.3 L2009.1,1590.7 L2004.7,1587.1 L2001.2,1583.6 L1998.8,1580 L1997.4,1576.4 L1996.8,1572.9 L1996.5,1569.3 L1996.4,1565.7 L1996.3,1562.1 L1996.3,1558.6 L1996.3,1555 L1996.3,1551.4 L1996.3,1547.9 L1996.3,1544.3 L1996.3,1540.7 L1996.3,1537.2 L1996.3,1533.6 L1996.3,1530 L1996.3,1526.4 L1996.3,1522.9 L1996.3,1519.3 L1996.3,1515.7 L1996.3,1512.2 L1996.3,1508.6 L1996.3,1505 L1996.3,1501.4 L1996.3,1497.9 L1996.3,1494.3 L1996.3,1490.7 L1996.3,1487.2 L1996.3,1483.6 L1996.3,1480 L1996.3,1476.4 L1996.3,1472.9 L1996.3,1469.3 L1996.3,1465.7 L1996.3,1462.2 L1996.3,1458.6 L1996.3,1455 L1996.3,1451.4 L1996.3,1447.9 L1996.3,1444.3 L1996.3,1440.7 L1996.3,1437.2 L1996.3,1433.6 L1996.3,1430 L1996.3,1426.5 L1996.3,1422.9 L1996.3,1419.3 L1996.3,1415.7 L1996.3,1412.2 L1996.3,1408.6 L1996.3,1408.6" fill="#2f4f4f" fill-opacity="0.1" stroke="#2f4f4f" stroke-opacity="0.85" stroke-width="1.3"/>
<path d="M1996.3,1665.7 L1996.3,1665.7 L1996.3,1662.1 L1996.3,1658.6 L1996.3,1655 L1996.3,1651.4 L1996.3,1647.8 L1996.3,1644.3 L1996.3,1640.7 L1996.3,1637.1 L1996.3,1633.6 L1996.3,1630 L1996.3,1626.4 L1996.3,1622.8 L1996.4,1619.3 L1996.4,1615.7 L1996.6,1612.1 L1996.9,1608.6 L1997.6,1605 L1998.6,1601.4 L2000.2,1597.9 L2002.3,1594.3 L2004.9,1590.7 L2007.8,1587.1 L2010.4,1583.6 L2012.4,1580 L2013.3,1576.4 L2012.9,1572.9 L2011.3,1569.3 L2008.9,1565.7 L2006,1562.1 L2003.3,1558.6 L2000.9,1555 L1999.2,1551.4 L1997.9,1547.9 L1997.2,1544.3 L1996.7,1540.7 L1996.5,1537.2 L1996.4,1533.6 L1996.3,1530 L1996.3,1526.4 L1996.3,1522.9 L1996.3,1519.3 L1996.3,1515.7 L1996.3,1512.2 L1996.3,1508.6 L1996.3,1505 L1996.3,1501.4 L1996.3,1497.9 L1996.3,1494.3 L1996.3,1490.7 L1996.3,1487.2 L1996.3,1483.6 L1996.3,1480 L1996.3,1476.4 L1996.3,1472.9 L1996.3,1469.3 L1996.3,1465.7 L1996.3,1462.2 L1996.3,1458.6 L1996.3,1455 L1996.3,1451.4 L1996.3,1447.9 L1996.3,1444.3 L1996.3,1440.7 L1996.3,1437.2 L1996.3,1433.6 L1996.3,1430 L1996.3,1426.5 L1996.3,1422.9 L1996.3,1419.3 L1996.3,1415.7 L1996.3,1412.2 L1996.3,1408.6 L1996.3,1408.6" fill="#2f4f4f" fill-opacity="0.1" stroke="#2f4f4f" stroke-opacity="0.85" stroke-width="1.3"/>
<path d="M1996.3,1665.7 L1996.3,1665.7 L1996.3,1662.1 L1996.3,1658.6 L1996.3,1655 L1996.3,1651.4 L1996.3,1647.8 L1996.3,1644.3 L1996.3,1640.7 L1996.3,1637.1 L1996.3,1633.6 L1996.3,1630 L1996.3,1626.4 L1996.3,1622.8 L1996.3,1619.3 L1996.3,1615.7 L1996.3,1612.1 L1996.3,1608.6 L1996.3,1605 L1996.3,1601.4 L1996.3,1597.9 L1996.3,1594.3 L1996.3,1590.7 L1996.3,1587.1 L1996.4,1583.6 L1996.4,1580 L1996.5,1576.4 L1996.7,1572.9 L1997.1,1569.3 L1997.6,1565.7 L1998.4,1562.1 L1999.5,1558.6 L2000.9,1555 L2002.6,1551.4 L2004.6,1547.9 L2006.5,1544.3 L2008.2,1540.7 L2009.5,1537.2 L2010.2,1533.6 L2010.2,1530 L2009.4,1526.4 L2008,1522.9 L2006.3,1519.3 L2004.3,1515.7 L2002.4,1512.2 L2000.7,1508.6 L1999.3,1505 L1998.3,1501.4 L1997.5,1497.9 L1997,1494.3 L1996.7,1490.7 L1996.5,1487.2 L1996.4,1483.6 L1996.3,1480 L1996.3,1476.4 L1996.3,1472.9 L1996.3,1469.3 L1996.3,1465.7 L1996.3,1462.2 L1996.3,1458.6 L1996.3,1455 L1996.3,1451.4 L1996.3,1447.9 L1996.3,1444.3 L1996.3,1440.7 L1996.3,1437.2 L1996.3,1433.6 L1996.3,1430 L1996.3,1426.5 L1996.3,1422.9 L1996.3,1419.3 L1996.3,1415.7 L1996.3,1412.2 L1996.3,1408.6 L1996.3,1408.6" fill="#2f4f4f" fill-opacity="0.1" stroke="#2f4f4f" stroke-opacity="0.85" stroke-width="1.3"/>
<path d="M1996.3,1665.7 L1996.3,1665.7 L1996.3,1662.1 L1996.3,1658.6 L1996.3,1655 L1996.3,1651.4 L1996.3,1647.8 L1996.3,1644.3 L1996.3,1640.7 L1996.3,1637.1 L1996.3,1633.6 L1996.3,1630 L1996.3,1626.4 L1996.3,1622.8 L1996.3,1619.3 L1996.3,1615.7 L1996.3,1612.1 L1996.3,1608.6 L1996.3,1605 L1996.3,1601.4 L1996.3,1597.9 L1996.3,1594.3 L1996.3,1590.7 L1996.3,1587.1 L1996.3,1583.6 L1996.3,1580 L1996.3,1576.4 L1996.3,1572.9 L1996.3,1569.3 L1996.3,1565.7 L1996.3,1562.1 L1996.3,1558.6 L1996.4,1555 L1996.4,1551.4 L1996.6,1547.9 L1996.7,1544.3 L1997,1540.7 L1997.5,1537.2 L1998.1,1533.6 L1999,1530 L2000.1,1526.4 L2001.6,1522.9 L2003.2,1519.3 L2005.1,1515.7 L2007,1512.2 L2008.8,1508.6 L2010.4,1505 L2011.6,1501.4 L2012.2,1497.9 L2012.2,1494.3 L2011.6,1490.7 L2010.5,1487.2 L2008.9,1483.6 L2007.1,1480 L2005.2,1476.4 L2003.3,1472.9 L2001.6,1469.3 L2000.2,1465.7 L1999,1462.2 L1998.1,1458.6 L1997.5,1455 L1997,1451.4 L1996.7,1447.9 L1996.6,1444.3 L1996.4,1440.7 L1996.4,1437.2 L1996.3,1433.6 L1996.3,1430 L1996.3,1426.5 L1996.3,1422.9 L1996.3,1419.3 L1996.3,1415.7 L1996.3,1412.2 L1996.3,1408.6 L1996.3,1408.6" fill="#2f4f4f" fill-opacity="0.1" stroke="#2f4f4f" stroke-opacity="0.85" stroke-width="1.3"/>
<path d="M1996.3,1665.7 L1996.3,1665.7 L1996.3,1662.1 L1996.3,1658.6 L1996.3,1655 L1996.4,1651.4 L1996.5,1647.8 L1996.9,1644.3 L1997.7,1640.7 L1999.3,1637.1 L2002,1633.6 L2005.7,1630 L2010.1,1626.4 L2014.3,1622.8 L2017,1619.3 L2017.5,1615.7 L2015.5,1612.1 L2011.7,1608.6 L2007.3,1605 L2003.2,1601.4 L2000.2,1597.9 L1998.2,1594.3 L1997.1,1590.7 L1996.6,1587.1 L1996.4,1583.6 L1996.3,1580 L1996.3,1576.4 L1996.3,1572.9 L1996.3,1569.3 L1996.3,1565.7 L1996.3,1562.1 L1996.3,1558.6 L1996.3,1555 L1996.3,1551.4 L1996.3,1547.9 L1996.3,1544.3 L1996.3,1540.7 L1996.3,1537.2 L1996.3,1533.6 L1996.3,1530 L1996.3,1526.4 L1996.3,1522.9 L1996.3,1519.3 L1996.3,1515.7 L1996.3,1512.2 L1996.3,1508.6 L1996.3,1505 L1996.3,1501.4 L1996.3,1497.9 L1996.3,1494.3 L1996.3,1490.7 L1996.3,1487.2 L1996.3,1483.6 L1996.3,1480 L1996.3,1476.4 L1996.3,1472.9 L1996.3,1469.3 L1996.3,1465.7 L1996.3,1462.2 L1996.3,1458.6 L1996.3,1455 L1996.3,1451.4 L1996.3,1447.9 L1996.3,1444.3 L1996.3,1440.7 L1996.3,1437.2 L1996.3,1433.6 L1996.3,1430 L1996.3,1426.5 L1996.3,1422.9 L1996.3,1419.3 L1996.3,1415.7 L1996.3,1412.2 L1996.3,1408.6 L1996.3,1408.6" fill="#2f4f4f" fill-opacity="0.1" stroke="#2f4f4f" stroke-opacity="0.85" stroke-width="1.3"/>
<path d="M1996.3,1665.7 L1996.3,1665.7 L1996.3,1662.1 L1996.3,1658.6 L1996.3,1655 L1996.3,1651.4 L1996.3,1647.8 L1996.3,1644.3 L1996.3,1640.7 L1996.3,1637.1 L1996.3,1633.6 L1996.3,1630 L1996.3,1626.4 L1996.4,1622.8 L1996.5,1619.3 L1996.9,1615.7 L1997.7,1612.1 L1999.2,1608.6 L2001.6,1605 L2005,1601.4 L2008.9,1597.9 L2012.6,1594.3 L2014.9,1590.7 L2015.1,1587.1 L2013.2,1583.6 L2009.7,1580 L2005.8,1576.4 L2002.2,1572.9 L1999.6,1569.3 L1997.9,1565.7 L1997,1562.1 L1996.6,1558.6 L1996.4,1555 L1996.3,1551.4 L1996.3,1547.9 L1996.3,1544.3 L1996.3,1540.7 L1996.3,1537.2 L1996.3,1533.6 L1996.3,1530 L1996.3,1526.4 L1996.3,1522.9 L1996.3,1519.3 L1996.3,1515.7 L1996.3,1512.2 L1996.3,1508.6 L1996.3,1505 L1996.3,1501.4 L1996.3,1497.9 L1996.3,1494.3 L1996.3,1490.7 L1996.3,1487.2 L1996.3,1483.6 L1996.3,1480 L1996.3,1476.4 L1996.3,1472.9 L1996.3,1469.3 L1996.3,1465.7 L1996.3,1462.2 L1996.3,1458.6 L1996.3,1455 L1996.3,1451.4 L1996.3,1447.9 L1996.3,1444.3 L1996.3,1440.7 L1996.3,1437.2 L1996.3,1433.6 L1996.3,1430 L1996.3,1426.5 L1996.3,1422.9 L1996.3,1419.3 L1996.3,1415.7 L1996.3,1412.2 L1996.3,1408.6 L1996.3,1408.6" fill="#2f4f4f" fill-opacity="0.1" stroke="#2f4f4f" stroke-opacity="0.85" stroke-width="1.3"/>
<path d="M1996.3,1665.7 L1996.3,1665.7 L1996.3,1662.1 L1996.3,1658.6 L1996.3,1655 L1996.3,1651.4 L1996.3,1647.8 L1996.3,1644.3 L1996.3,1640.7 L1996.3,1637.1 L1996.3,1633.6 L1996.3,1630 L1996.3,1626.4 L1996.3,1622.8 L1996.3,1619.3 L1996.3,1615.7 L1996.3,1612.1 L1996.3,1608.6 L1996.3,1605 L1996.3,1601.4 L1996.3,1597.9 L1996.3,1594.3 L1996.3,1590.7 L1996.3,1587.1 L1996.3,1583.6 L1996.3,1580 L1996.3,1576.4 L1996.3,1572.9 L1996.3,1569.3 L1996.3,1565.7 L1996.3,1562.1 L1996.3,1558.6 L1996.3,1555 L1996.3,1551.4 L1996.3,1547.9 L1996.3,1544.3 L1996.3,1540.7 L1996.3,1537.2 L1996.3,1533.6 L1996.4,1530 L1996.4,1526.4 L1996.5,1522.9 L1996.7,1519.3 L1996.9,1515.7 L1997.3,1512.2 L1997.9,1508.6 L1998.6,1505 L1999.7,1501.4 L2000.9,1497.9 L2002.5,1494.3 L2004.2,1490.7 L2006,1487.2 L2007.7,1483.6 L2009.3,1480 L2010.5,1476.4 L2011.1,1472.9 L2011.3,1469.3 L2010.8,1465.7 L2009.8,1462.2 L2008.4,1458.6 L2006.8,1455 L2005,1451.4 L2003.2,1447.9 L2001.6,1444.3 L2000.2,1440.7 L1999.1,1437.2 L1998.2,1433.6 L1997.5,1430 L1997.1,1426.5 L1996.8,1422.9 L1996.6,1419.3 L1996.5,1415.7 L1996.4,1412.2 L1996.3,1408.6 L1996.3,1408.6" fill="#2f4f4f" fill-opacity="0.1" stroke="#2f4f4f" stroke-opacity="0.85" stroke-width="1.3"/>
<path d="M1996.3,1665.7 L1996.3,1665.7 L1996.3,1662.1 L1996.3,1658.6 L1996.3,1655 L1996.3,1651.4 L1996.3,1647.8 L1996.3,1644.3 L1996.3,1640.7 L1996.3,1637.1 L1996.3,1633.6 L1996.3,1630 L1996.3,1626.4 L1996.3,1622.8 L1996.3,1619.3 L1996.4,1615.7 L1996.4,1612.1 L1996.4,1608.6 L1996.5,1605 L1996.7,1601.4 L1996.9,1597.9 L1997.1,1594.3 L1997.5,1590.7 L1998,1587.1 L1998.5,1583.6 L1999.2,1580 L2000,1576.4 L2000.9,1572.9 L2001.8,1569.3 L2002.6,1565.7 L2003.4,1562.1 L2004.1,1558.6 L2004.6,1555 L2004.8,1551.4 L2004.8,1547.9 L2004.5,1544.3 L2004,1540.7 L2003.3,1537.2 L2002.5,1533.6 L2001.6,1530 L2000.7,1526.4 L1999.9,1522.9 L1999.1,1519.3 L1998.4,1515.7 L1997.9,1512.2 L1997.4,1508.6 L1997.1,1505 L1996.8,1501.4 L1996.6,1497.9 L1996.5,1494.3 L1996.4,1490.7 L1996.4,1487.2 L1996.3,1483.6 L1996.3,1480 L1996.3,1476.4 L1996.3,1472.9 L1996.3,1469.3 L1996.3,1465.7 L1996.3,1462.2 L1996.3,1458.6 L1996.3,1455 L1996.3,1451.4 L1996.3,1447.9 L1996.3,1444.3 L1996.3,1440.7 L1996.3,1437.2 L1996.3,1433.6 L1996.3,1430 L1996.3,1426.5 L1996.3,1422.9 L1996.3,1419.3 L1996.3,1415.7 L1996.3,1412.2 L1996.3,1408.6 L1996.3,1408.6" fill="#2f4f4f" fill-opacity="0.1" stroke="#2f4f4f" stroke-opacity="0.85" stroke-width="1.3"/>
<path d="M1996.3,1665.7 L1996.5,1665.7 L1996.8,1662.1 L1997.6,1658.6 L1998.9,1655 L2001.2,1651.4 L2004.4,1647.8 L2008.1,1644.3 L2011.6,1640.7 L2013.9,1637.1 L2014.2,1633.6 L2012.4,1630 L2009.2,1626.4 L2005.4,1622.8 L2002,1619.3 L1999.5,1615.7 L1997.9,1612.1 L1997,1608.6 L1996.6,1605 L1996.4,1601.4 L1996.3,1597.9 L1996.3,1594.3 L1996.3,1590.7 L1996.3,1587.1 L1996.3,1583.6 L1996.3,1580 L1996.3,1576.4 L1996.3,1572.9 L1996.3,1569.3 L1996.3,1565.7 L1996.3,1562.1 L1996.3,1558.6 L1996.3,1555 L1996.3,1551.4 L1996.3,1547.9 L1996.3,1544.3 L1996.3,1540.7 L1996.3,1537.2 L1996.3,1533.6 L1996.3,1530 L1996.3,1526.4 L1996.3,1522.9 L1996.3,1519.3 L1996.3,1515.7 L1996.3,1512.2 L1996.3,1508.6 L1996.3,1505 L1996.3,1501.4 L1996.3,1497.9 L1996.3,1494.3 L1996.3,1490.7 L1996.3,1487.2 L1996.3,1483.6 L1996.3,1480 L1996.3,1476.4 L1996.3,1472.9 L1996.3,1469.3 L1996.3,1465.7 L1996.3,1462.2 L1996.3,1458.6 L1996.3,1455 L1996.3,1451.4 L1996.3,1447.9 L1996.3,1444.3 L1996.3,1440.7 L1996.3,1437.2 L1996.3,1433.6 L1996.3,1430 L1996.3,1426.5 L1996.3,1422.9 L1996.3,1419.3 L1996.3,1415.7 L1996.3,1412.2 L1996.3,1408.6 L1996.3,1408.6" fill="#2f4f4f" fill-opacity="0.1" stroke="#2f4f4f" stroke-opacity="0.85" stroke-width="1.3"/>
<path d="M1996.3,1665.7 L1996.3,1665.7 L1996.3,1662.1 L1996.3,1658.6 L1996.3,1655 L1996.3,1651.4 L1996.3,1647.8 L1996.3,1644.3 L1996.3,1640.7 L1996.3,1637.1 L1996.3,1633.6 L1996.3,1630 L1996.3,1626.4 L1996.3,1622.8 L1996.3,1619.3 L1996.3,1615.7 L1996.3,1612.1 L1996.3,1608.6 L1996.3,1605 L1996.3,1601.4 L1996.3,1597.9 L1996.4,1594.3 L1996.4,1590.7 L1996.4,1587.1 L1996.5,1583.6 L1996.6,1580 L1996.7,1576.4 L1996.9,1572.9 L1997.1,1569.3 L1997.4,1565.7 L1997.7,1562.1 L1998.2,1558.6 L1998.7,1555 L1999.3,1551.4 L2000,1547.9 L2000.7,1544.3 L2001.5,1540.7 L2002.4,1537.2 L2003.2,1533.6 L2004,1530 L2004.7,1526.4 L2005.4,1522.9 L2005.8,1519.3 L2006.2,1515.7 L2006.3,1512.2 L2006.2,1508.6 L2006,1505 L2005.6,1501.4 L2005,1497.9 L2004.3,1494.3 L2003.5,1490.7 L2002.7,1487.2 L2001.9,1483.6 L2001,1480 L2000.3,1476.4 L1999.5,1472.9 L1998.9,1469.3 L1998.4,1465.7 L1997.9,1462.2 L1997.5,1458.6 L1997.2,1455 L1997,1451.4 L1996.8,1447.9 L1996.6,1444.3 L1996.5,1440.7 L1996.5,1437.2 L1996.4,1433.6 L1996.4,1430 L1996.3,1426.5 L1996.3,1422.9 L1996.3,1419.3 L1996.3,1415.7 L1996.3,1412.2 L1996.3,1408.6 L1996.3,1408.6" fill="#2f4f4f" fill-opacity="0.1" stroke="#2f4f4f" stroke-opacity="0.85" stroke-width="1.3"/>
<g fill="#2f4f4f">
<ellipse cx="1800.6" cy="1565.5" rx="20.6" ry="25" fill-opacity="0.080"/>
<ellipse cx="1800.4" cy="1564.9" rx="16.5" ry="20" fill-opacity="0.076"/>
<ellipse cx="1800.2" cy="1564.3" rx="12.8" ry="15.5" fill-opacity="0.118"/>
<ellipse cx="1800.1" cy="1563.7" rx="9.5" ry="11.5" fill-opacity="0.133"/>
<ellipse cx="1800" cy="1563.2" rx="6.8" ry="8.5" fill-opacity="0.154"/>
</g>
<g fill="#f58c1e">
<ellipse cx="1747" cy="1653.5" rx="12.5" ry="10.5" fill-opacity="0.080"/>
<ellipse cx="1746.4" cy="1654.3" rx="9.5" ry="8" fill-opacity="0.109"/>
<ellipse cx="1746" cy="1655" rx="7" ry="6" fill-opacity="0.171"/>
<ellipse cx="1745.6" cy="1655.6" rx="4.8" ry="4.2" fill-opacity="0.235"/>
</g>
<line x1="1173.6" y1="1259.4" x2="1434.1" y2="1006" stroke="#999999" stroke-width="3" stroke-dasharray="10.5 7.9" stroke-linecap="butt"/>
<rect x="1173.3" y="1002" width="264.8" height="257.4" fill="none" stroke="#000" stroke-width="2.2"/>
<line x1="1173.6" y1="1259.4" x2="1173.6" y2="1266.6" stroke="#000" stroke-width="2" stroke-linecap="butt"/>
<line x1="1306" y1="1259.4" x2="1306" y2="1266.6" stroke="#000" stroke-width="2" stroke-linecap="butt"/>
<line x1="1438.1" y1="1259.4" x2="1438.1" y2="1266.6" stroke="#000" stroke-width="2" stroke-linecap="butt"/>
<line x1="1163.3" y1="1259.4" x2="1173.3" y2="1259.4" stroke="#000" stroke-width="2" stroke-linecap="butt"/>
<line x1="1163.3" y1="1130.7" x2="1173.3" y2="1130.7" stroke="#000" stroke-width="2" stroke-linecap="butt"/>
<line x1="1163.3" y1="1002" x2="1173.3" y2="1002" stroke="#000" stroke-width="2" stroke-linecap="butt"/>
<text x="1174.4" y="1289" font-size="24.5" text-anchor="middle" fill="#000">0</text>
<text x="1307.3" y="1289" font-size="24.5" text-anchor="middle" fill="#000">0.5</text>
<text x="1438.8" y="1289" font-size="24.5" text-anchor="middle" fill="#000">1.0</text>
<text x="1157.8" y="1267.8" font-size="24.5" text-anchor="end" fill="#000">0</text>
<text x="1157.8" y="1139.1" font-size="24.5" text-anchor="end" fill="#000">0.5</text>
<text x="1157.8" y="1010.4" font-size="24.5" text-anchor="end" fill="#000">1.0</text>
<line x1="1728.2" y1="1259.4" x2="1989.2" y2="1006" stroke="#999999" stroke-width="3" stroke-dasharray="10.5 7.9" stroke-linecap="butt"/>
<rect x="1727.9" y="1002" width="265.3" height="257.4" fill="none" stroke="#000" stroke-width="2.2"/>
<line x1="1728.2" y1="1259.4" x2="1728.2" y2="1266.6" stroke="#000" stroke-width="2" stroke-linecap="butt"/>
<line x1="1860.9" y1="1259.4" x2="1860.9" y2="1266.6" stroke="#000" stroke-width="2" stroke-linecap="butt"/>
<line x1="1993.2" y1="1259.4" x2="1993.2" y2="1266.6" stroke="#000" stroke-width="2" stroke-linecap="butt"/>
<line x1="1717.9" y1="1259.4" x2="1727.9" y2="1259.4" stroke="#000" stroke-width="2" stroke-linecap="butt"/>
<line x1="1717.9" y1="1130.7" x2="1727.9" y2="1130.7" stroke="#000" stroke-width="2" stroke-linecap="butt"/>
<line x1="1717.9" y1="1002" x2="1727.9" y2="1002" stroke="#000" stroke-width="2" stroke-linecap="butt"/>
<text x="1729.1" y="1289" font-size="24.5" text-anchor="middle" fill="#000">0</text>
<text x="1862" y="1289" font-size="24.5" text-anchor="middle" fill="#000">0.5</text>
<text x="1993.8" y="1289" font-size="24.5" text-anchor="middle" fill="#000">1.0</text>
<text x="1711.4" y="1267.8" font-size="24.5" text-anchor="end" fill="#000">0</text>
<text x="1711.4" y="1139.1" font-size="24.5" text-anchor="end" fill="#000">0.5</text>
<text x="1711.4" y="1010.4" font-size="24.5" text-anchor="end" fill="#000">1.0</text>
<line x1="1173.6" y1="1665.7" x2="1434.1" y2="1412.6" stroke="#999999" stroke-width="3" stroke-dasharray="10.5 7.9" stroke-linecap="butt"/>
<rect x="1173.3" y="1408.6" width="264.8" height="257.1" fill="none" stroke="#000" stroke-width="2.2"/>
<line x1="1173.6" y1="1665.7" x2="1173.6" y2="1672.9" stroke="#000" stroke-width="2" stroke-linecap="butt"/>
<line x1="1306" y1="1665.7" x2="1306" y2="1672.9" stroke="#000" stroke-width="2" stroke-linecap="butt"/>
<line x1="1438.1" y1="1665.7" x2="1438.1" y2="1672.9" stroke="#000" stroke-width="2" stroke-linecap="butt"/>
<line x1="1163.3" y1="1665.7" x2="1173.3" y2="1665.7" stroke="#000" stroke-width="2" stroke-linecap="butt"/>
<line x1="1163.3" y1="1537.2" x2="1173.3" y2="1537.2" stroke="#000" stroke-width="2" stroke-linecap="butt"/>
<line x1="1163.3" y1="1408.6" x2="1173.3" y2="1408.6" stroke="#000" stroke-width="2" stroke-linecap="butt"/>
<text x="1174.4" y="1695.3" font-size="24.5" text-anchor="middle" fill="#000">0</text>
<text x="1307.3" y="1695.3" font-size="24.5" text-anchor="middle" fill="#000">0.5</text>
<text x="1438.8" y="1695.3" font-size="24.5" text-anchor="middle" fill="#000">1.0</text>
<text x="1157.8" y="1674.1" font-size="24.5" text-anchor="end" fill="#000">0</text>
<text x="1157.8" y="1545.6" font-size="24.5" text-anchor="end" fill="#000">0.5</text>
<text x="1157.8" y="1417" font-size="24.5" text-anchor="end" fill="#000">1.0</text>
<line x1="1728.2" y1="1665.7" x2="1989.2" y2="1412.6" stroke="#999999" stroke-width="3" stroke-dasharray="10.5 7.9" stroke-linecap="butt"/>
<rect x="1727.9" y="1408.6" width="265.3" height="257.1" fill="none" stroke="#000" stroke-width="2.2"/>
<line x1="1728.2" y1="1665.7" x2="1728.2" y2="1672.9" stroke="#000" stroke-width="2" stroke-linecap="butt"/>
<line x1="1860.9" y1="1665.7" x2="1860.9" y2="1672.9" stroke="#000" stroke-width="2" stroke-linecap="butt"/>
<line x1="1993.2" y1="1665.7" x2="1993.2" y2="1672.9" stroke="#000" stroke-width="2" stroke-linecap="butt"/>
<line x1="1717.9" y1="1665.7" x2="1727.9" y2="1665.7" stroke="#000" stroke-width="2" stroke-linecap="butt"/>
<line x1="1717.9" y1="1537.2" x2="1727.9" y2="1537.2" stroke="#000" stroke-width="2" stroke-linecap="butt"/>
<line x1="1717.9" y1="1408.6" x2="1727.9" y2="1408.6" stroke="#000" stroke-width="2" stroke-linecap="butt"/>
<text x="1729.1" y="1695.3" font-size="24.5" text-anchor="middle" fill="#000">0</text>
<text x="1862" y="1695.3" font-size="24.5" text-anchor="middle" fill="#000">0.5</text>
<text x="1993.8" y="1695.3" font-size="24.5" text-anchor="middle" fill="#000">1.0</text>
<text x="1711.4" y="1674.1" font-size="24.5" text-anchor="end" fill="#000">0</text>
<text x="1711.4" y="1545.6" font-size="24.5" text-anchor="end" fill="#000">0.5</text>
<text x="1711.4" y="1417" font-size="24.5" text-anchor="end" fill="#000">1.0</text>
<circle cx="1432" cy="1009.3" r="7" fill="#cc00cc"/>
<circle cx="1985.7" cy="1009.5" r="7" fill="#cc00cc"/>
<circle cx="1429.7" cy="1415.7" r="7" fill="#cc00cc"/>
<circle cx="1987" cy="1414.7" r="7" fill="#cc00cc"/>
<text x="1443.3" y="969.5" font-size="26" fill="#000"><tspan font-style="italic">del</tspan>(13q)</text>
<text x="1443.3" y="997.5" font-size="26" fill="#000"><tspan font-style="italic">del</tspan>(11q)</text>
<text x="1999.3" y="965.6" font-size="26" fill="#000"><tspan font-style="italic">del</tspan>(13q)</text>
<text x="1999.3" y="994.1" font-size="26" fill="#000"><tspan font-style="italic">del</tspan>(11q)</text>
<text x="1449.5" y="1406.4" font-size="26" fill="#000"><tspan font-style="italic">del</tspan>(13q)</text>
<text x="2003.5" y="1408.7" font-size="26" fill="#000"><tspan font-style="italic">del</tspan>(13q)</text>
<text x="1175.5" y="1082.4" font-size="26" fill="#b414ae"><tspan font-style="italic">ASXL1</tspan></text>
<line x1="1186.8" y1="1090.3" x2="1184.2" y2="1117.6" stroke="#000" stroke-width="1.8" stroke-linecap="butt"/>
<text x="1304" y="1193.5" font-size="26" fill="#b414ae"><tspan font-style="italic">amp</tspan>(2p)</text>
<text x="1304" y="1221.3" font-size="26" fill="#b414ae"><tspan font-style="italic">del</tspan>(6q)</text>
<text x="1748.3" y="1088.3" font-size="26" fill="#b414ae"><tspan font-style="italic">amp</tspan>(16p)</text>
<text x="1748.3" y="1119.3" font-size="26" fill="#b414ae"><tspan font-style="italic">del</tspan>(16p)</text>
<line x1="1768.6" y1="1125.5" x2="1752.5" y2="1146.6" stroke="#000" stroke-width="1.8" stroke-linecap="butt"/>
<text x="1848.8" y="1171.4" font-size="26" fill="#000"><tspan font-style="italic">amp</tspan>(2p)</text>
<text x="1848.8" y="1200" font-size="26" fill="#000"><tspan font-style="italic">del</tspan>(6q)</text>
<polyline points="1792.2,1238.4 1831.9,1181.3 1851.7,1181.3" fill="none" stroke="#000" stroke-width="1.8"/>
<text x="1893" y="1244.6" font-size="26" fill="#000"><tspan font-style="italic">ASXL1</tspan></text>
<line x1="1866.6" y1="1244.1" x2="1890.2" y2="1237.1" stroke="#000" stroke-width="1.8" stroke-linecap="butt"/>
<text x="1553.5" y="1110.2" font-size="28.6" font-weight="bold" fill="#000">Pt. 6</text>
<text x="1553.5" y="1550.6" font-size="28.6" font-weight="bold" fill="#000">Pt. 10</text>
<text x="1319.1" y="1730.5" font-size="29.3" text-anchor="middle" fill="#000">CCF (1st preTx TP)</text>
<text x="1874" y="1733.6" font-size="29.3" text-anchor="middle" fill="#000">CCF (latest preTx TP)</text>
<text transform="translate(1095.3,1333) rotate(-90)" font-size="29" text-anchor="middle">CCF (latest preTx TP)</text>
<text transform="translate(1668.4,1326.4) rotate(-90)" font-size="29" text-anchor="middle">CCF (1st relapse)</text>
</svg>
</body></html>
